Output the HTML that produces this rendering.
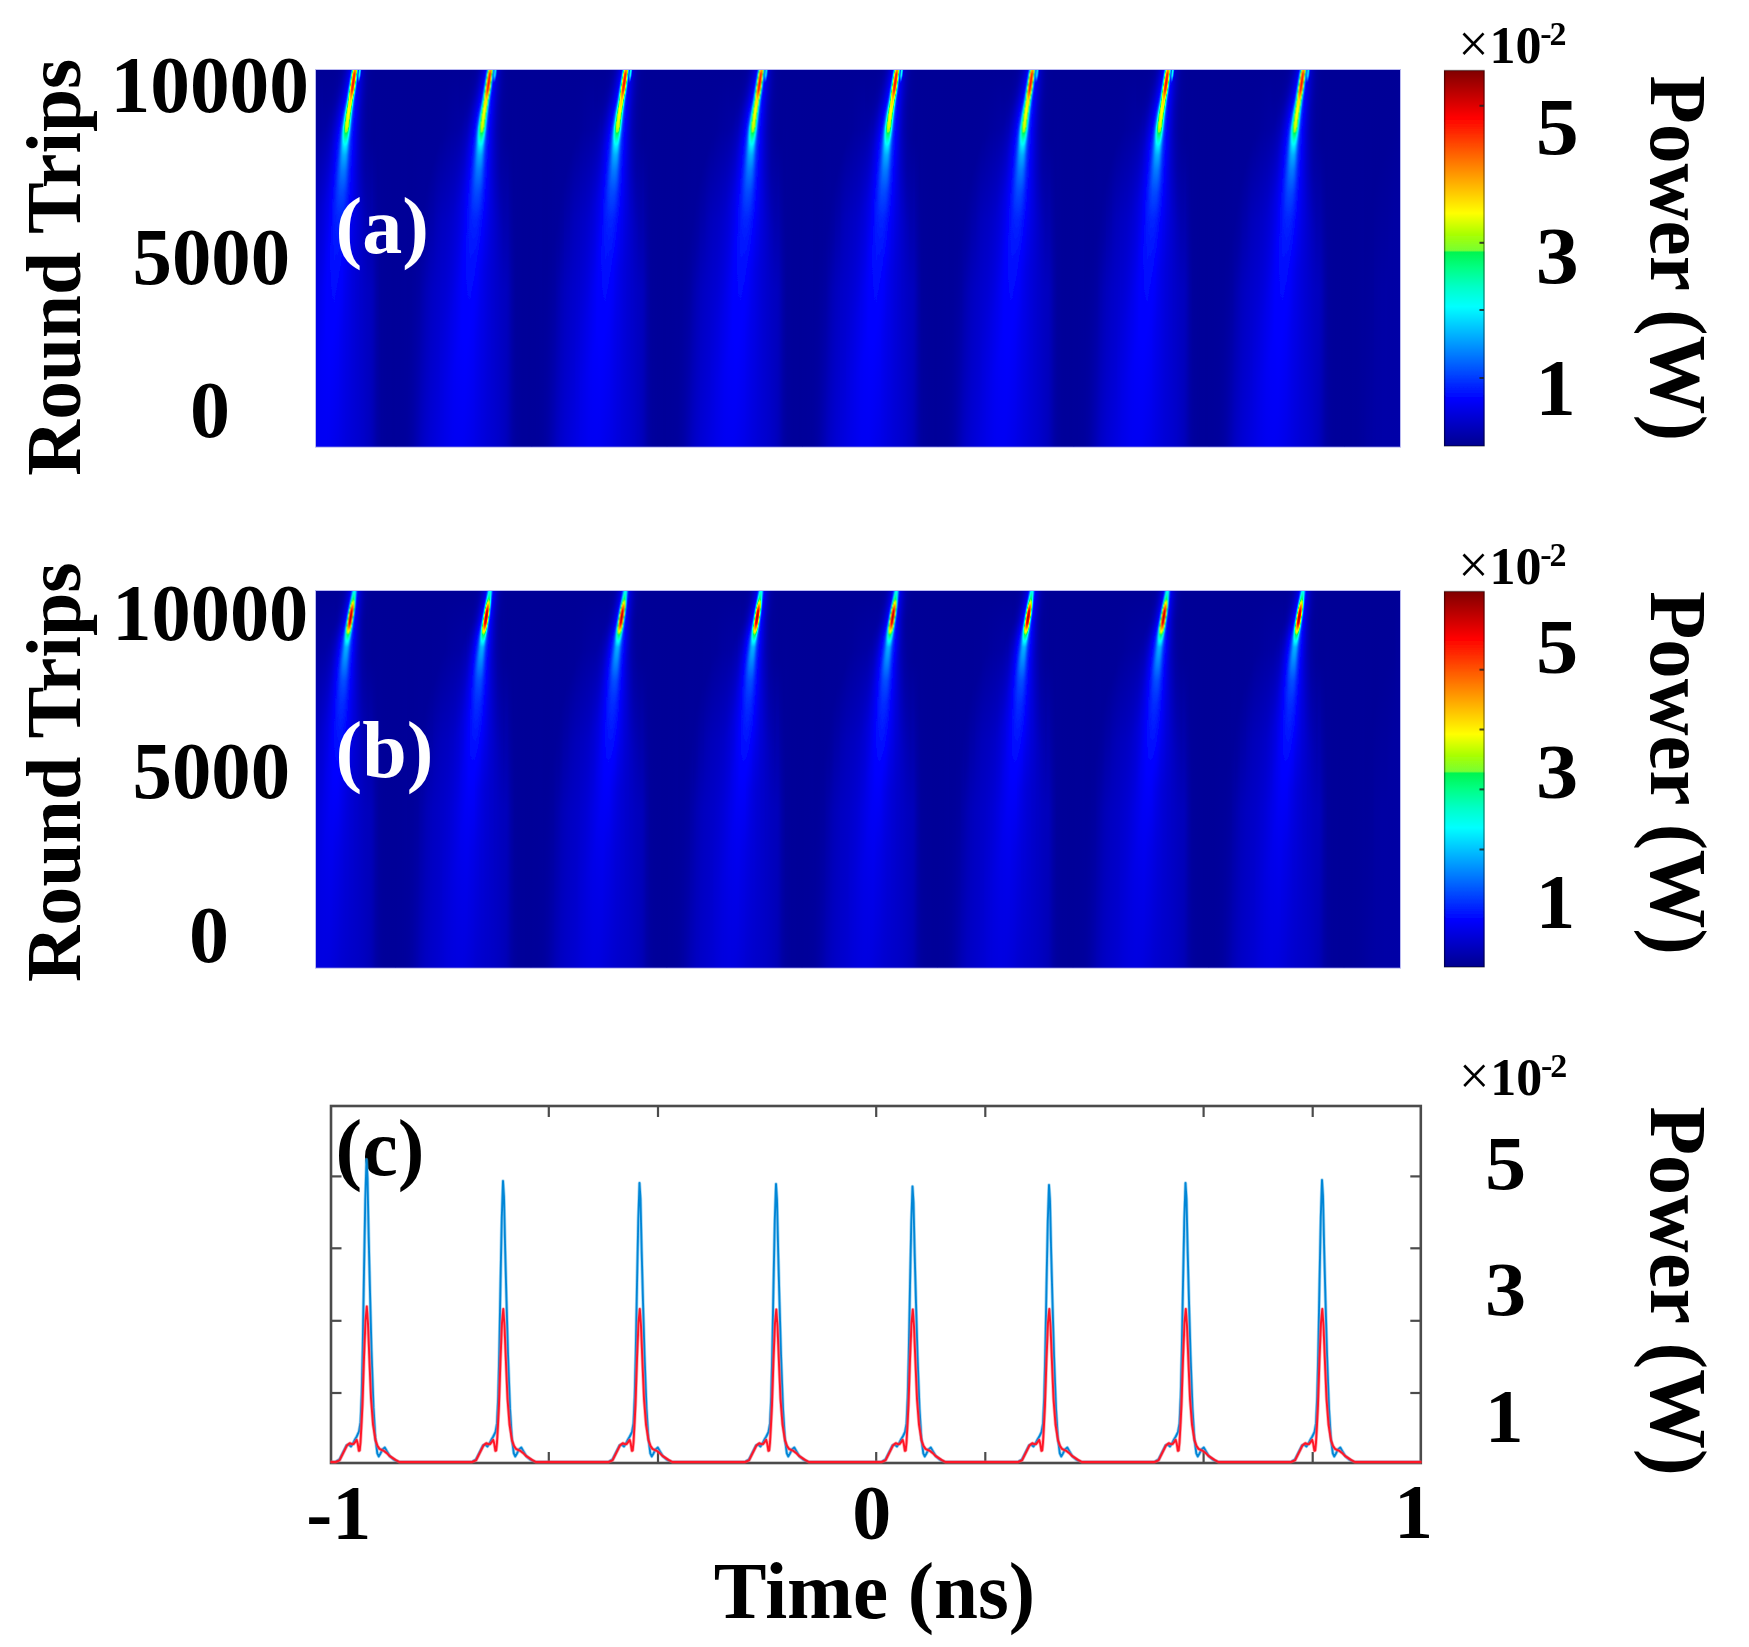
<!DOCTYPE html>
<html><head><meta charset="utf-8"><title>Figure</title>
<style>html,body{margin:0;padding:0;background:#fff}svg{display:block}</style>
</head><body>
<svg width="1749" height="1647" viewBox="0 0 1749 1647">
<defs>
<linearGradient id="a0" x1="0" y1="0" x2="0" y2="1"><stop offset="0" stop-color="#000096"/><stop offset="1" stop-color="#00009a"/></linearGradient>
<linearGradient id="a1" x1="0" y1="0" x2="0" y2="1"><stop offset="0" stop-color="#000096"/><stop offset="1" stop-color="#00009a"/></linearGradient>
<linearGradient id="a2" x1="0" y1="0" x2="0" y2="1"><stop offset="0" stop-color="#000096"/><stop offset="1" stop-color="#00009a"/></linearGradient>
<linearGradient id="a3" x1="0" y1="0" x2="0" y2="1"><stop offset="0" stop-color="#000096"/><stop offset="1" stop-color="#00009a"/></linearGradient>
<linearGradient id="a4" x1="0" y1="0" x2="0" y2="1"><stop offset="0" stop-color="#000096"/><stop offset="1" stop-color="#00009a"/></linearGradient>
<linearGradient id="a5" x1="0" y1="0" x2="0" y2="1"><stop offset="0" stop-color="#000096"/><stop offset="1" stop-color="#00009b"/></linearGradient>
<linearGradient id="a6" x1="0" y1="0" x2="0" y2="1"><stop offset="0" stop-color="#000096"/><stop offset="1" stop-color="#00009b"/></linearGradient>
<linearGradient id="a7" x1="0" y1="0" x2="0" y2="1"><stop offset="0" stop-color="#000096"/><stop offset="1" stop-color="#00009b"/></linearGradient>
<linearGradient id="a8" x1="0" y1="0" x2="0" y2="1"><stop offset="0" stop-color="#000096"/><stop offset="1" stop-color="#00009c"/></linearGradient>
<linearGradient id="a9" x1="0" y1="0" x2="0" y2="1"><stop offset="0" stop-color="#000096"/><stop offset="1" stop-color="#00009c"/></linearGradient>
<linearGradient id="a10" x1="0" y1="0" x2="0" y2="1"><stop offset="0" stop-color="#000096"/><stop offset="1" stop-color="#00009d"/></linearGradient>
<linearGradient id="a11" x1="0" y1="0" x2="0" y2="1"><stop offset="0" stop-color="#000096"/><stop offset="0.5199" stop-color="#000098"/><stop offset="1" stop-color="#00009e"/></linearGradient>
<linearGradient id="a12" x1="0" y1="0" x2="0" y2="1"><stop offset="0" stop-color="#000096"/><stop offset="0.5146" stop-color="#000098"/><stop offset="1" stop-color="#00009f"/></linearGradient>
<linearGradient id="a13" x1="0" y1="0" x2="0" y2="1"><stop offset="0" stop-color="#000096"/><stop offset="0.5093" stop-color="#000098"/><stop offset="1" stop-color="#0000a1"/></linearGradient>
<linearGradient id="a14" x1="0" y1="0" x2="0" y2="1"><stop offset="0" stop-color="#000096"/><stop offset="0.504" stop-color="#000098"/><stop offset="1" stop-color="#0000a2"/></linearGradient>
<linearGradient id="a15" x1="0" y1="0" x2="0" y2="1"><stop offset="0" stop-color="#000096"/><stop offset="0.5013" stop-color="#000098"/><stop offset="1" stop-color="#0000a4"/></linearGradient>
<linearGradient id="a16" x1="0" y1="0" x2="0" y2="1"><stop offset="0" stop-color="#000096"/><stop offset="0.496" stop-color="#000098"/><stop offset="1" stop-color="#0000a6"/></linearGradient>
<linearGradient id="a17" x1="0" y1="0" x2="0" y2="1"><stop offset="0" stop-color="#000096"/><stop offset="0.4907" stop-color="#000099"/><stop offset="1" stop-color="#0000a8"/></linearGradient>
<linearGradient id="a18" x1="0" y1="0" x2="0" y2="1"><stop offset="0" stop-color="#000096"/><stop offset="0.4828" stop-color="#000099"/><stop offset="1" stop-color="#0000ab"/></linearGradient>
<linearGradient id="a19" x1="0" y1="0" x2="0" y2="1"><stop offset="0" stop-color="#000096"/><stop offset="0.4775" stop-color="#000099"/><stop offset="1" stop-color="#0000ae"/></linearGradient>
<linearGradient id="a20" x1="0" y1="0" x2="0" y2="1"><stop offset="0" stop-color="#000096"/><stop offset="0.4695" stop-color="#000099"/><stop offset="1" stop-color="#0000b1"/></linearGradient>
<linearGradient id="a21" x1="0" y1="0" x2="0" y2="1"><stop offset="0" stop-color="#000096"/><stop offset="0.4615" stop-color="#00009a"/><stop offset="1" stop-color="#0000b4"/></linearGradient>
<linearGradient id="a22" x1="0" y1="0" x2="0" y2="1"><stop offset="0" stop-color="#000096"/><stop offset="0.4536" stop-color="#00009a"/><stop offset="1" stop-color="#0000b7"/></linearGradient>
<linearGradient id="a23" x1="0" y1="0" x2="0" y2="1"><stop offset="0" stop-color="#000096"/><stop offset="0.443" stop-color="#00009a"/><stop offset="1" stop-color="#0000ba"/></linearGradient>
<linearGradient id="a24" x1="0" y1="0" x2="0" y2="1"><stop offset="0" stop-color="#000096"/><stop offset="0.4324" stop-color="#00009b"/><stop offset="1" stop-color="#0000be"/></linearGradient>
<linearGradient id="a25" x1="0" y1="0" x2="0" y2="1"><stop offset="0" stop-color="#000096"/><stop offset="0.4218" stop-color="#00009b"/><stop offset="0.5836" stop-color="#0000a8"/><stop offset="1" stop-color="#0000c1"/></linearGradient>
<linearGradient id="a26" x1="0" y1="0" x2="0" y2="1"><stop offset="0" stop-color="#000096"/><stop offset="0.4085" stop-color="#00009b"/><stop offset="0.5836" stop-color="#0000ab"/><stop offset="1" stop-color="#0000c4"/></linearGradient>
<linearGradient id="a27" x1="0" y1="0" x2="0" y2="1"><stop offset="0" stop-color="#000096"/><stop offset="0.382" stop-color="#00009b"/><stop offset="0.4854" stop-color="#0000a2"/><stop offset="0.5836" stop-color="#0000ae"/><stop offset="1" stop-color="#0000c6"/></linearGradient>
<linearGradient id="a28" x1="0" y1="0" x2="0" y2="1"><stop offset="0" stop-color="#000096"/><stop offset="0.3687" stop-color="#00009b"/><stop offset="0.4748" stop-color="#0000a3"/><stop offset="0.5836" stop-color="#0000b0"/><stop offset="1" stop-color="#0000c9"/></linearGradient>
<linearGradient id="a29" x1="0" y1="0" x2="0" y2="1"><stop offset="0" stop-color="#000096"/><stop offset="0.3263" stop-color="#00009a"/><stop offset="0.4562" stop-color="#0000a3"/><stop offset="0.5836" stop-color="#0000b3"/><stop offset="1" stop-color="#0000cb"/></linearGradient>
<linearGradient id="a30" x1="0" y1="0" x2="0" y2="1"><stop offset="0" stop-color="#000096"/><stop offset="0.3183" stop-color="#00009a"/><stop offset="0.4483" stop-color="#0000a4"/><stop offset="0.5836" stop-color="#0000b6"/><stop offset="1" stop-color="#0000cd"/></linearGradient>
<linearGradient id="a31" x1="0" y1="0" x2="0" y2="1"><stop offset="0" stop-color="#000096"/><stop offset="0.3077" stop-color="#00009a"/><stop offset="0.4403" stop-color="#0000a5"/><stop offset="0.5836" stop-color="#0000b8"/><stop offset="1" stop-color="#0000cf"/></linearGradient>
<linearGradient id="a32" x1="0" y1="0" x2="0" y2="1"><stop offset="0" stop-color="#000096"/><stop offset="0.2997" stop-color="#00009a"/><stop offset="0.4324" stop-color="#0000a6"/><stop offset="0.5836" stop-color="#0000ba"/><stop offset="1" stop-color="#0000d1"/></linearGradient>
<linearGradient id="a33" x1="0" y1="0" x2="0" y2="1"><stop offset="0" stop-color="#000096"/><stop offset="0.2891" stop-color="#00009a"/><stop offset="0.5836" stop-color="#0000bd"/><stop offset="1" stop-color="#0000d3"/></linearGradient>
<linearGradient id="a34" x1="0" y1="0" x2="0" y2="1"><stop offset="0" stop-color="#000096"/><stop offset="0.2812" stop-color="#00009a"/><stop offset="0.5836" stop-color="#0000be"/><stop offset="1" stop-color="#0000d5"/></linearGradient>
<linearGradient id="a35" x1="0" y1="0" x2="0" y2="1"><stop offset="0" stop-color="#000096"/><stop offset="0.2706" stop-color="#00009a"/><stop offset="0.5836" stop-color="#0000c0"/><stop offset="1" stop-color="#0000d6"/></linearGradient>
<linearGradient id="a36" x1="0" y1="0" x2="0" y2="1"><stop offset="0" stop-color="#000096"/><stop offset="0.2573" stop-color="#00009a"/><stop offset="0.5836" stop-color="#0000c2"/><stop offset="1" stop-color="#0000d8"/></linearGradient>
<linearGradient id="a37" x1="0" y1="0" x2="0" y2="1"><stop offset="0" stop-color="#000096"/><stop offset="0.2493" stop-color="#00009a"/><stop offset="0.5836" stop-color="#0000c3"/><stop offset="1" stop-color="#0000d9"/></linearGradient>
<linearGradient id="a38" x1="0" y1="0" x2="0" y2="1"><stop offset="0" stop-color="#000096"/><stop offset="0.2387" stop-color="#00009a"/><stop offset="0.5836" stop-color="#0000c5"/><stop offset="1" stop-color="#0000db"/></linearGradient>
<linearGradient id="a39" x1="0" y1="0" x2="0" y2="1"><stop offset="0" stop-color="#000096"/><stop offset="0.2308" stop-color="#00009a"/><stop offset="0.3979" stop-color="#0000b2"/><stop offset="0.5836" stop-color="#0000c6"/><stop offset="1" stop-color="#0000dc"/></linearGradient>
<linearGradient id="a40" x1="0" y1="0" x2="0" y2="1"><stop offset="0" stop-color="#000096"/><stop offset="0.2228" stop-color="#00009a"/><stop offset="0.3979" stop-color="#0000b4"/><stop offset="0.5836" stop-color="#0000c7"/><stop offset="1" stop-color="#0000de"/></linearGradient>
<linearGradient id="a41" x1="0" y1="0" x2="0" y2="1"><stop offset="0" stop-color="#000096"/><stop offset="0.2122" stop-color="#00009a"/><stop offset="0.3979" stop-color="#0000b6"/><stop offset="0.5836" stop-color="#0000c9"/><stop offset="1" stop-color="#0000df"/></linearGradient>
<linearGradient id="a42" x1="0" y1="0" x2="0" y2="1"><stop offset="0" stop-color="#000096"/><stop offset="0.2042" stop-color="#00009a"/><stop offset="0.3979" stop-color="#0000b8"/><stop offset="0.5836" stop-color="#0000ca"/><stop offset="1" stop-color="#0000e1"/></linearGradient>
<linearGradient id="a43" x1="0" y1="0" x2="0" y2="1"><stop offset="0" stop-color="#000096"/><stop offset="0.1963" stop-color="#00009a"/><stop offset="0.3979" stop-color="#0000ba"/><stop offset="0.5836" stop-color="#0000cb"/><stop offset="1" stop-color="#0000e2"/></linearGradient>
<linearGradient id="a44" x1="0" y1="0" x2="0" y2="1"><stop offset="0" stop-color="#000096"/><stop offset="0.1883" stop-color="#00009a"/><stop offset="0.3979" stop-color="#0000bb"/><stop offset="0.5836" stop-color="#0000cc"/><stop offset="0.7958" stop-color="#0000db"/><stop offset="1" stop-color="#0000e3"/></linearGradient>
<linearGradient id="a45" x1="0" y1="0" x2="0" y2="1"><stop offset="0" stop-color="#000096"/><stop offset="0.1804" stop-color="#00009a"/><stop offset="0.3979" stop-color="#0000bc"/><stop offset="0.5836" stop-color="#0000ce"/><stop offset="0.7958" stop-color="#0000dd"/><stop offset="1" stop-color="#0000e5"/></linearGradient>
<linearGradient id="a46" x1="0" y1="0" x2="0" y2="1"><stop offset="0" stop-color="#000096"/><stop offset="0.1857" stop-color="#00009b"/><stop offset="0.3979" stop-color="#0000be"/><stop offset="0.5836" stop-color="#0000cf"/><stop offset="0.7958" stop-color="#0000de"/><stop offset="1" stop-color="#0000e6"/></linearGradient>
<linearGradient id="a47" x1="0" y1="0" x2="0" y2="1"><stop offset="0" stop-color="#000096"/><stop offset="0.1804" stop-color="#00009b"/><stop offset="0.3979" stop-color="#0000bf"/><stop offset="0.5836" stop-color="#0000d1"/><stop offset="0.7958" stop-color="#0000e0"/><stop offset="1" stop-color="#0000e7"/></linearGradient>
<linearGradient id="a48" x1="0" y1="0" x2="0" y2="1"><stop offset="0" stop-color="#000096"/><stop offset="0.1698" stop-color="#00009b"/><stop offset="0.3979" stop-color="#0000c0"/><stop offset="0.6684" stop-color="#0000d9"/><stop offset="0.8276" stop-color="#0000e4"/><stop offset="1" stop-color="#0000e9"/></linearGradient>
<linearGradient id="a49" x1="0" y1="0" x2="0" y2="1"><stop offset="0" stop-color="#000096"/><stop offset="0.1645" stop-color="#00009b"/><stop offset="0.3979" stop-color="#0000c1"/><stop offset="0.6711" stop-color="#0000db"/><stop offset="0.8302" stop-color="#0000e6"/><stop offset="1" stop-color="#0000ea"/></linearGradient>
<linearGradient id="a50" x1="0" y1="0" x2="0" y2="1"><stop offset="0" stop-color="#000096"/><stop offset="0.1592" stop-color="#00009b"/><stop offset="0.3979" stop-color="#0000c2"/><stop offset="0.6711" stop-color="#0000dd"/><stop offset="0.8276" stop-color="#0000e7"/><stop offset="1" stop-color="#0000eb"/></linearGradient>
<linearGradient id="a51" x1="0" y1="0" x2="0" y2="1"><stop offset="0" stop-color="#000096"/><stop offset="0.1592" stop-color="#00009c"/><stop offset="0.3979" stop-color="#0000c4"/><stop offset="0.6711" stop-color="#0000df"/><stop offset="0.8276" stop-color="#0000e9"/><stop offset="1" stop-color="#0000ec"/></linearGradient>
<linearGradient id="a52" x1="0" y1="0" x2="0" y2="1"><stop offset="0" stop-color="#000096"/><stop offset="0.1592" stop-color="#00009d"/><stop offset="0.3979" stop-color="#0000c5"/><stop offset="0.6684" stop-color="#0000e1"/><stop offset="0.8223" stop-color="#0000eb"/><stop offset="1" stop-color="#0000ed"/></linearGradient>
<linearGradient id="a53" x1="0" y1="0" x2="0" y2="1"><stop offset="0" stop-color="#000096"/><stop offset="0.1592" stop-color="#00009e"/><stop offset="0.3979" stop-color="#0000c6"/><stop offset="0.6658" stop-color="#0000e3"/><stop offset="0.8196" stop-color="#0000ec"/><stop offset="1" stop-color="#0000ee"/></linearGradient>
<linearGradient id="a54" x1="0" y1="0" x2="0" y2="1"><stop offset="0" stop-color="#000096"/><stop offset="0.1592" stop-color="#00009e"/><stop offset="0.3979" stop-color="#0000c8"/><stop offset="0.6605" stop-color="#0000e5"/><stop offset="0.8117" stop-color="#0000ee"/><stop offset="1" stop-color="#0000ef"/></linearGradient>
<linearGradient id="a55" x1="0" y1="0" x2="0" y2="1"><stop offset="0" stop-color="#000096"/><stop offset="0.1592" stop-color="#00009f"/><stop offset="0.3979" stop-color="#0000ca"/><stop offset="0.6552" stop-color="#0000e7"/><stop offset="0.8064" stop-color="#0000f0"/><stop offset="1" stop-color="#0000f0"/></linearGradient>
<linearGradient id="a56" x1="0" y1="0" x2="0" y2="1"><stop offset="0" stop-color="#000096"/><stop offset="0.1592" stop-color="#0000a0"/><stop offset="0.3979" stop-color="#0000cc"/><stop offset="0.6446" stop-color="#0000e8"/><stop offset="0.7958" stop-color="#0000f1"/><stop offset="1" stop-color="#0000f1"/></linearGradient>
<linearGradient id="a57" x1="0" y1="0" x2="0" y2="1"><stop offset="0" stop-color="#000096"/><stop offset="0.1592" stop-color="#0000a0"/><stop offset="0.3979" stop-color="#0000ce"/><stop offset="0.6366" stop-color="#0000ea"/><stop offset="0.7958" stop-color="#0000f3"/><stop offset="1" stop-color="#0000f2"/></linearGradient>
<linearGradient id="a58" x1="0" y1="0" x2="0" y2="1"><stop offset="0" stop-color="#000096"/><stop offset="0.1592" stop-color="#0000a1"/><stop offset="0.3979" stop-color="#0000d0"/><stop offset="0.626" stop-color="#0000ec"/><stop offset="0.7958" stop-color="#0000f5"/><stop offset="1" stop-color="#0000f2"/></linearGradient>
<linearGradient id="a59" x1="0" y1="0" x2="0" y2="1"><stop offset="0" stop-color="#000096"/><stop offset="0.1592" stop-color="#0000a2"/><stop offset="0.3899" stop-color="#0000d2"/><stop offset="0.5942" stop-color="#0000eb"/><stop offset="0.7745" stop-color="#0000f6"/><stop offset="1" stop-color="#0000f3"/></linearGradient>
<linearGradient id="a60" x1="0" y1="0" x2="0" y2="1"><stop offset="0" stop-color="#000096"/><stop offset="0.1592" stop-color="#0000a2"/><stop offset="0.3714" stop-color="#0000d1"/><stop offset="0.5836" stop-color="#0000ed"/><stop offset="0.7639" stop-color="#0000f7"/><stop offset="1" stop-color="#0000f3"/></linearGradient>
<linearGradient id="a61" x1="0" y1="0" x2="0" y2="1"><stop offset="0" stop-color="#000096"/><stop offset="0.1592" stop-color="#0000a3"/><stop offset="0.3634" stop-color="#0000d3"/><stop offset="0.5836" stop-color="#0000f0"/><stop offset="0.7586" stop-color="#0000f9"/><stop offset="1" stop-color="#0000f3"/></linearGradient>
<linearGradient id="a62" x1="0" y1="0" x2="0" y2="1"><stop offset="0" stop-color="#000096"/><stop offset="0.1592" stop-color="#0000a4"/><stop offset="0.3607" stop-color="#0000d6"/><stop offset="0.5836" stop-color="#0000f3"/><stop offset="0.756" stop-color="#0000fa"/><stop offset="1" stop-color="#0000f3"/></linearGradient>
<linearGradient id="a63" x1="0" y1="0" x2="0" y2="1"><stop offset="0" stop-color="#000096"/><stop offset="0.0796" stop-color="#00009b"/><stop offset="0.1592" stop-color="#0000a5"/><stop offset="0.3607" stop-color="#0000d9"/><stop offset="0.5729" stop-color="#0000f5"/><stop offset="0.7454" stop-color="#0000fb"/><stop offset="1" stop-color="#0000f3"/></linearGradient>
<linearGradient id="a64" x1="0" y1="0" x2="0" y2="1"><stop offset="0" stop-color="#000096"/><stop offset="0.0796" stop-color="#00009b"/><stop offset="0.1485" stop-color="#0000a4"/><stop offset="0.3607" stop-color="#0000dd"/><stop offset="0.5597" stop-color="#0000f7"/><stop offset="0.7321" stop-color="#0000fc"/><stop offset="1" stop-color="#0000f3"/></linearGradient>
<linearGradient id="a65" x1="0" y1="0" x2="0" y2="1"><stop offset="0" stop-color="#000096"/><stop offset="0.0796" stop-color="#00009b"/><stop offset="0.1459" stop-color="#0000a4"/><stop offset="0.3528" stop-color="#0000e0"/><stop offset="0.4934" stop-color="#0000f4"/><stop offset="0.5809" stop-color="#0000fb"/><stop offset="0.6923" stop-color="#0000fe"/><stop offset="1" stop-color="#0000f3"/></linearGradient>
<linearGradient id="a66" x1="0" y1="0" x2="0" y2="1"><stop offset="0" stop-color="#000096"/><stop offset="0.0796" stop-color="#00009b"/><stop offset="0.1379" stop-color="#0000a4"/><stop offset="0.3422" stop-color="#0000e2"/><stop offset="0.4854" stop-color="#0000f7"/><stop offset="0.5729" stop-color="#0000fd"/><stop offset="0.687" stop-color="#0000ff"/><stop offset="1" stop-color="#0000f3"/></linearGradient>
<linearGradient id="a67" x1="0" y1="0" x2="0" y2="1"><stop offset="0" stop-color="#000096"/><stop offset="0.0796" stop-color="#00009c"/><stop offset="0.1273" stop-color="#0000a3"/><stop offset="0.3342" stop-color="#0000e5"/><stop offset="0.4775" stop-color="#0000fa"/><stop offset="0.5491" stop-color="#0000ff"/><stop offset="0.7135" stop-color="#0000ff"/><stop offset="1" stop-color="#0000f2"/></linearGradient>
<linearGradient id="a68" x1="0" y1="0" x2="0" y2="1"><stop offset="0" stop-color="#000096"/><stop offset="0.0796" stop-color="#00009c"/><stop offset="0.1194" stop-color="#0000a3"/><stop offset="0.3236" stop-color="#0000e7"/><stop offset="0.4668" stop-color="#0000fe"/><stop offset="0.5703" stop-color="#0003ff"/><stop offset="0.7241" stop-color="#0000ff"/><stop offset="1" stop-color="#0000f2"/></linearGradient>
<linearGradient id="a69" x1="0" y1="0" x2="0" y2="1"><stop offset="0" stop-color="#000096"/><stop offset="0.0743" stop-color="#00009c"/><stop offset="0.1114" stop-color="#0000a3"/><stop offset="0.3077" stop-color="#0000e9"/><stop offset="0.3607" stop-color="#0000f5"/><stop offset="0.4377" stop-color="#0000ff"/><stop offset="0.5491" stop-color="#0006ff"/><stop offset="0.7268" stop-color="#0000ff"/><stop offset="1" stop-color="#0000f1"/></linearGradient>
<linearGradient id="a70" x1="0" y1="0" x2="0" y2="1"><stop offset="0" stop-color="#000096"/><stop offset="0.0716" stop-color="#00009c"/><stop offset="0.1088" stop-color="#0000a4"/><stop offset="0.1512" stop-color="#0000b2"/><stop offset="0.2149" stop-color="#0000d0"/><stop offset="0.2838" stop-color="#0000e8"/><stop offset="0.3395" stop-color="#0000f7"/><stop offset="0.3846" stop-color="#0000fd"/><stop offset="0.4828" stop-color="#0008ff"/><stop offset="0.7241" stop-color="#0000ff"/><stop offset="1" stop-color="#0000f0"/></linearGradient>
<linearGradient id="a71" x1="0" y1="0" x2="0" y2="1"><stop offset="0" stop-color="#000096"/><stop offset="0.0663" stop-color="#00009c"/><stop offset="0.1034" stop-color="#0000a4"/><stop offset="0.1432" stop-color="#0000b3"/><stop offset="0.2255" stop-color="#0000db"/><stop offset="0.2971" stop-color="#0000f3"/><stop offset="0.3475" stop-color="#0000ff"/><stop offset="0.4668" stop-color="#000cff"/><stop offset="0.7162" stop-color="#0000ff"/><stop offset="1" stop-color="#0000ef"/></linearGradient>
<linearGradient id="a72" x1="0" y1="0" x2="0" y2="1"><stop offset="0" stop-color="#000096"/><stop offset="0.061" stop-color="#00009c"/><stop offset="0.0955" stop-color="#0000a4"/><stop offset="0.1353" stop-color="#0000b5"/><stop offset="0.2095" stop-color="#0000dd"/><stop offset="0.3156" stop-color="#0000ff"/><stop offset="0.3607" stop-color="#000bff"/><stop offset="0.4509" stop-color="#0010ff"/><stop offset="0.7056" stop-color="#0000ff"/><stop offset="1" stop-color="#0000ee"/></linearGradient>
<linearGradient id="a73" x1="0" y1="0" x2="0" y2="1"><stop offset="0" stop-color="#000096"/><stop offset="0.0557" stop-color="#00009c"/><stop offset="0.0902" stop-color="#0000a5"/><stop offset="0.13" stop-color="#0000b8"/><stop offset="0.1989" stop-color="#0000e1"/><stop offset="0.2865" stop-color="#0000ff"/><stop offset="0.3528" stop-color="#0012ff"/><stop offset="0.4324" stop-color="#0014ff"/><stop offset="0.6923" stop-color="#0000ff"/><stop offset="1" stop-color="#0000ed"/></linearGradient>
<linearGradient id="a74" x1="0" y1="0" x2="0" y2="1"><stop offset="0" stop-color="#000096"/><stop offset="0.0504" stop-color="#00009d"/><stop offset="0.0849" stop-color="#0000a6"/><stop offset="0.1141" stop-color="#0000b5"/><stop offset="0.1989" stop-color="#0000ea"/><stop offset="0.2599" stop-color="#0000ff"/><stop offset="0.3103" stop-color="#0014ff"/><stop offset="0.3607" stop-color="#001cff"/><stop offset="0.4483" stop-color="#0017ff"/><stop offset="0.6764" stop-color="#0000ff"/><stop offset="1" stop-color="#0000ec"/></linearGradient>
<linearGradient id="a75" x1="0" y1="0" x2="0" y2="1"><stop offset="0" stop-color="#000097"/><stop offset="0.0451" stop-color="#00009d"/><stop offset="0.0796" stop-color="#0000a7"/><stop offset="0.1061" stop-color="#0000b6"/><stop offset="0.1936" stop-color="#0000f1"/><stop offset="0.2281" stop-color="#0000ff"/><stop offset="0.3024" stop-color="#001eff"/><stop offset="0.3501" stop-color="#0024ff"/><stop offset="0.504" stop-color="#0010ff"/><stop offset="0.6578" stop-color="#0000ff"/><stop offset="1" stop-color="#0000eb"/></linearGradient>
<linearGradient id="a76" x1="0" y1="0" x2="0" y2="1"><stop offset="0" stop-color="#000097"/><stop offset="0.0451" stop-color="#00009f"/><stop offset="0.0796" stop-color="#0000ac"/><stop offset="0.1989" stop-color="#0000ff"/><stop offset="0.2838" stop-color="#0027ff"/><stop offset="0.3156" stop-color="#002eff"/><stop offset="0.3554" stop-color="#002cff"/><stop offset="0.3979" stop-color="#0020ff"/><stop offset="0.504" stop-color="#000fff"/><stop offset="0.6393" stop-color="#0000ff"/><stop offset="1" stop-color="#0000ea"/></linearGradient>
<linearGradient id="a77" x1="0" y1="0" x2="0" y2="1"><stop offset="0" stop-color="#000098"/><stop offset="0.0424" stop-color="#0000a0"/><stop offset="0.0769" stop-color="#0000b0"/><stop offset="0.1804" stop-color="#0000ff"/><stop offset="0.2546" stop-color="#002dff"/><stop offset="0.2812" stop-color="#0038ff"/><stop offset="0.3024" stop-color="#003bff"/><stop offset="0.3528" stop-color="#0033ff"/><stop offset="0.3979" stop-color="#0023ff"/><stop offset="0.504" stop-color="#000fff"/><stop offset="0.6154" stop-color="#0000ff"/><stop offset="1" stop-color="#0000e9"/></linearGradient>
<linearGradient id="a78" x1="0" y1="0" x2="0" y2="1"><stop offset="0" stop-color="#000099"/><stop offset="0.0371" stop-color="#0000a2"/><stop offset="0.069" stop-color="#0000b1"/><stop offset="0.1645" stop-color="#0001ff"/><stop offset="0.1989" stop-color="#001fff"/><stop offset="0.2414" stop-color="#003dff"/><stop offset="0.2573" stop-color="#0044ff"/><stop offset="0.2891" stop-color="#004aff"/><stop offset="0.3501" stop-color="#0038ff"/><stop offset="0.3979" stop-color="#0024ff"/><stop offset="0.504" stop-color="#000dff"/><stop offset="0.5995" stop-color="#0000ff"/><stop offset="1" stop-color="#0000e8"/></linearGradient>
<linearGradient id="a79" x1="0" y1="0" x2="0" y2="1"><stop offset="0" stop-color="#00009a"/><stop offset="0.0345" stop-color="#0000a4"/><stop offset="0.0663" stop-color="#0000b6"/><stop offset="0.1459" stop-color="#0000fe"/><stop offset="0.2122" stop-color="#0047ff"/><stop offset="0.2387" stop-color="#0057ff"/><stop offset="0.2573" stop-color="#005bff"/><stop offset="0.2971" stop-color="#0055ff"/><stop offset="0.3979" stop-color="#0024ff"/><stop offset="0.504" stop-color="#000bff"/><stop offset="0.5809" stop-color="#0000ff"/><stop offset="0.7082" stop-color="#0000f5"/><stop offset="1" stop-color="#0000e6"/></linearGradient>
<linearGradient id="a80" x1="0" y1="0" x2="0" y2="1"><stop offset="0" stop-color="#00009c"/><stop offset="0.0318" stop-color="#0000a8"/><stop offset="0.061" stop-color="#0000ba"/><stop offset="0.0822" stop-color="#0000cc"/><stop offset="0.13" stop-color="#0000fe"/><stop offset="0.1485" stop-color="#0015ff"/><stop offset="0.1804" stop-color="#004bff"/><stop offset="0.1936" stop-color="#005dff"/><stop offset="0.2149" stop-color="#006fff"/><stop offset="0.2414" stop-color="#0073ff"/><stop offset="0.2838" stop-color="#0064ff"/><stop offset="0.3263" stop-color="#0048ff"/><stop offset="0.3979" stop-color="#0024ff"/><stop offset="0.5305" stop-color="#0004ff"/><stop offset="0.5623" stop-color="#0000ff"/><stop offset="0.7003" stop-color="#0000f3"/><stop offset="1" stop-color="#0000e5"/></linearGradient>
<linearGradient id="a81" x1="0" y1="0" x2="0" y2="1"><stop offset="0" stop-color="#00009f"/><stop offset="0.0292" stop-color="#0000ac"/><stop offset="0.0557" stop-color="#0000be"/><stop offset="0.0796" stop-color="#0000d4"/><stop offset="0.1167" stop-color="#0000ff"/><stop offset="0.13" stop-color="#0012ff"/><stop offset="0.1406" stop-color="#0025ff"/><stop offset="0.1645" stop-color="#0066ff"/><stop offset="0.1777" stop-color="#0083ff"/><stop offset="0.191" stop-color="#0093ff"/><stop offset="0.2095" stop-color="#0097ff"/><stop offset="0.2467" stop-color="#0086ff"/><stop offset="0.3263" stop-color="#0048ff"/><stop offset="0.3979" stop-color="#0022ff"/><stop offset="0.504" stop-color="#0005ff"/><stop offset="0.5358" stop-color="#0000ff"/><stop offset="0.695" stop-color="#0000f1"/><stop offset="1" stop-color="#0000e4"/></linearGradient>
<linearGradient id="a82" x1="0" y1="0" x2="0" y2="1"><stop offset="0" stop-color="#0000a3"/><stop offset="0.0265" stop-color="#0000b1"/><stop offset="0.0504" stop-color="#0000c3"/><stop offset="0.0769" stop-color="#0000dd"/><stop offset="0.1061" stop-color="#0001ff"/><stop offset="0.122" stop-color="#001fff"/><stop offset="0.1326" stop-color="#003cff"/><stop offset="0.1432" stop-color="#0065ff"/><stop offset="0.1538" stop-color="#0099ff"/><stop offset="0.1618" stop-color="#00b5ff"/><stop offset="0.1724" stop-color="#00ccff"/><stop offset="0.1804" stop-color="#00d3ff"/><stop offset="0.1936" stop-color="#00ceff"/><stop offset="0.2122" stop-color="#00b9ff"/><stop offset="0.2255" stop-color="#00a4ff"/><stop offset="0.244" stop-color="#0093ff"/><stop offset="0.2653" stop-color="#007bff"/><stop offset="0.3263" stop-color="#0047ff"/><stop offset="0.3979" stop-color="#001fff"/><stop offset="0.4907" stop-color="#0005ff"/><stop offset="0.5119" stop-color="#0000ff"/><stop offset="0.6923" stop-color="#0000ef"/><stop offset="1" stop-color="#0000e2"/></linearGradient>
<linearGradient id="a83" x1="0" y1="0" x2="0" y2="1"><stop offset="0" stop-color="#0000a8"/><stop offset="0.0451" stop-color="#0000c8"/><stop offset="0.0955" stop-color="#0002ff"/><stop offset="0.1061" stop-color="#0018ff"/><stop offset="0.1167" stop-color="#003cff"/><stop offset="0.13" stop-color="#007bff"/><stop offset="0.1512" stop-color="#00fdff"/><stop offset="0.1538" stop-color="#00fff1"/><stop offset="0.1618" stop-color="#00ffde"/><stop offset="0.1671" stop-color="#00ffda"/><stop offset="0.1724" stop-color="#00ffdc"/><stop offset="0.1804" stop-color="#00ffe6"/><stop offset="0.191" stop-color="#00fffe"/><stop offset="0.2016" stop-color="#00e1ff"/><stop offset="0.2255" stop-color="#00aeff"/><stop offset="0.2653" stop-color="#007cff"/><stop offset="0.3263" stop-color="#0044ff"/><stop offset="0.3979" stop-color="#001bff"/><stop offset="0.4164" stop-color="#0015ff"/><stop offset="0.4934" stop-color="#0000ff"/><stop offset="0.5358" stop-color="#0000f8"/><stop offset="0.6764" stop-color="#0000ed"/><stop offset="1" stop-color="#0000e1"/></linearGradient>
<linearGradient id="a84" x1="0" y1="0" x2="0" y2="1"><stop offset="0" stop-color="#0000ae"/><stop offset="0.0398" stop-color="#0000ce"/><stop offset="0.0822" stop-color="#0000fd"/><stop offset="0.0849" stop-color="#0003ff"/><stop offset="0.0955" stop-color="#001dff"/><stop offset="0.1008" stop-color="#0031ff"/><stop offset="0.1061" stop-color="#004bff"/><stop offset="0.1141" stop-color="#007dff"/><stop offset="0.13" stop-color="#00f1ff"/><stop offset="0.1326" stop-color="#00fffa"/><stop offset="0.1485" stop-color="#00ff88"/><stop offset="0.1538" stop-color="#00fa6a"/><stop offset="0.1592" stop-color="#00fb6c"/><stop offset="0.1671" stop-color="#00ff80"/><stop offset="0.1751" stop-color="#00ff9f"/><stop offset="0.1857" stop-color="#00ffd3"/><stop offset="0.1963" stop-color="#00fffb"/><stop offset="0.1989" stop-color="#00f8ff"/><stop offset="0.2016" stop-color="#00edff"/><stop offset="0.2255" stop-color="#00b0ff"/><stop offset="0.2653" stop-color="#0078ff"/><stop offset="0.3263" stop-color="#003dff"/><stop offset="0.3979" stop-color="#0015ff"/><stop offset="0.4191" stop-color="#000fff"/><stop offset="0.4748" stop-color="#0000ff"/><stop offset="0.5305" stop-color="#0000f5"/><stop offset="0.6605" stop-color="#0000ec"/><stop offset="1" stop-color="#0000e0"/></linearGradient>
<linearGradient id="a85" x1="0" y1="0" x2="0" y2="1"><stop offset="0" stop-color="#0000b6"/><stop offset="0.0398" stop-color="#0000da"/><stop offset="0.0716" stop-color="#0000ff"/><stop offset="0.0769" stop-color="#000bff"/><stop offset="0.0849" stop-color="#0023ff"/><stop offset="0.0928" stop-color="#004bff"/><stop offset="0.1008" stop-color="#0085ff"/><stop offset="0.1141" stop-color="#00fcff"/><stop offset="0.1167" stop-color="#00ffea"/><stop offset="0.1273" stop-color="#00ff8b"/><stop offset="0.1353" stop-color="#00f653"/><stop offset="0.1379" stop-color="#7dff2d"/><stop offset="0.1459" stop-color="#9cff0e"/><stop offset="0.1512" stop-color="#a9ff01"/><stop offset="0.1538" stop-color="#afff00"/><stop offset="0.1565" stop-color="#a3ff07"/><stop offset="0.1645" stop-color="#7bff2f"/><stop offset="0.1671" stop-color="#00f656"/><stop offset="0.1751" stop-color="#00ff87"/><stop offset="0.1857" stop-color="#00ffcc"/><stop offset="0.1963" stop-color="#00fffa"/><stop offset="0.1989" stop-color="#00f8ff"/><stop offset="0.2016" stop-color="#00ecff"/><stop offset="0.2255" stop-color="#00aaff"/><stop offset="0.2653" stop-color="#006eff"/><stop offset="0.3263" stop-color="#0034ff"/><stop offset="0.3979" stop-color="#000fff"/><stop offset="0.4536" stop-color="#0000ff"/><stop offset="0.5305" stop-color="#0000f2"/><stop offset="0.6286" stop-color="#0000eb"/><stop offset="1" stop-color="#0000de"/></linearGradient>
<linearGradient id="a86" x1="0" y1="0" x2="0" y2="1"><stop offset="0" stop-color="#0000c0"/><stop offset="0.0398" stop-color="#0000e6"/><stop offset="0.0584" stop-color="#0000fe"/><stop offset="0.0637" stop-color="#000bff"/><stop offset="0.0716" stop-color="#0025ff"/><stop offset="0.0796" stop-color="#004bff"/><stop offset="0.0875" stop-color="#008bff"/><stop offset="0.0981" stop-color="#00f7ff"/><stop offset="0.1008" stop-color="#00ffeb"/><stop offset="0.1088" stop-color="#00ff92"/><stop offset="0.1141" stop-color="#00f85d"/><stop offset="0.1167" stop-color="#7aff30"/><stop offset="0.1194" stop-color="#8cff1e"/><stop offset="0.1247" stop-color="#a7ff03"/><stop offset="0.1273" stop-color="#b3ff00"/><stop offset="0.1326" stop-color="#c6ff00"/><stop offset="0.1379" stop-color="#d1ff00"/><stop offset="0.1432" stop-color="#d5ff00"/><stop offset="0.1485" stop-color="#d4ff00"/><stop offset="0.1538" stop-color="#d0ff00"/><stop offset="0.1565" stop-color="#baff00"/><stop offset="0.1592" stop-color="#a5ff05"/><stop offset="0.1645" stop-color="#81ff29"/><stop offset="0.1671" stop-color="#00f653"/><stop offset="0.1751" stop-color="#00ff8c"/><stop offset="0.183" stop-color="#00ffc6"/><stop offset="0.1857" stop-color="#00ffd6"/><stop offset="0.1936" stop-color="#00fffd"/><stop offset="0.1963" stop-color="#00f4ff"/><stop offset="0.2016" stop-color="#00dbff"/><stop offset="0.2255" stop-color="#0097ff"/><stop offset="0.2653" stop-color="#005dff"/><stop offset="0.3263" stop-color="#0029ff"/><stop offset="0.3979" stop-color="#0008ff"/><stop offset="0.4297" stop-color="#0000ff"/><stop offset="0.5385" stop-color="#0000ee"/><stop offset="0.6976" stop-color="#0000e6"/><stop offset="1" stop-color="#0000dd"/></linearGradient>
<linearGradient id="a87" x1="0" y1="0" x2="0" y2="1"><stop offset="0" stop-color="#0000ca"/><stop offset="0.0318" stop-color="#0000eb"/><stop offset="0.0451" stop-color="#0000ff"/><stop offset="0.0477" stop-color="#0007ff"/><stop offset="0.0531" stop-color="#0018ff"/><stop offset="0.0584" stop-color="#002fff"/><stop offset="0.0663" stop-color="#005eff"/><stop offset="0.0716" stop-color="#0086ff"/><stop offset="0.0769" stop-color="#00b4ff"/><stop offset="0.0796" stop-color="#00ccff"/><stop offset="0.0822" stop-color="#00ebff"/><stop offset="0.0849" stop-color="#00fff4"/><stop offset="0.0875" stop-color="#00ffd4"/><stop offset="0.0928" stop-color="#00ff8d"/><stop offset="0.0981" stop-color="#00f551"/><stop offset="0.1008" stop-color="#89ff21"/><stop offset="0.1034" stop-color="#9cff0e"/><stop offset="0.1061" stop-color="#aeff00"/><stop offset="0.1114" stop-color="#d0ff00"/><stop offset="0.1167" stop-color="#e5ff00"/><stop offset="0.122" stop-color="#eeff00"/><stop offset="0.1273" stop-color="#efff00"/><stop offset="0.1379" stop-color="#e5ff00"/><stop offset="0.1485" stop-color="#d1ff00"/><stop offset="0.1538" stop-color="#c1ff00"/><stop offset="0.1565" stop-color="#a6ff04"/><stop offset="0.1618" stop-color="#7bff2f"/><stop offset="0.1645" stop-color="#00f85e"/><stop offset="0.1698" stop-color="#00ff8e"/><stop offset="0.1777" stop-color="#00ffcf"/><stop offset="0.1857" stop-color="#00fdff"/><stop offset="0.2016" stop-color="#00b4ff"/><stop offset="0.2095" stop-color="#009eff"/><stop offset="0.2255" stop-color="#0078ff"/><stop offset="0.2493" stop-color="#0059ff"/><stop offset="0.2706" stop-color="#0043ff"/><stop offset="0.3183" stop-color="#0022ff"/><stop offset="0.3979" stop-color="#0002ff"/><stop offset="0.5305" stop-color="#0000eb"/><stop offset="1" stop-color="#0000dc"/></linearGradient>
<linearGradient id="a88" x1="0" y1="0" x2="0" y2="1"><stop offset="0" stop-color="#0000d6"/><stop offset="0.0186" stop-color="#0000ea"/><stop offset="0.0292" stop-color="#0000fb"/><stop offset="0.0318" stop-color="#0003ff"/><stop offset="0.0371" stop-color="#0015ff"/><stop offset="0.0424" stop-color="#002eff"/><stop offset="0.0477" stop-color="#0051ff"/><stop offset="0.0557" stop-color="#0097ff"/><stop offset="0.0663" stop-color="#00fffd"/><stop offset="0.0716" stop-color="#00ffc3"/><stop offset="0.0769" stop-color="#00ff83"/><stop offset="0.0796" stop-color="#00fa69"/><stop offset="0.0822" stop-color="#7aff30"/><stop offset="0.0849" stop-color="#95ff15"/><stop offset="0.0875" stop-color="#aeff00"/><stop offset="0.0902" stop-color="#c8ff00"/><stop offset="0.0955" stop-color="#eeff00"/><stop offset="0.0981" stop-color="#f9ff00"/><stop offset="0.1008" stop-color="#fffe00"/><stop offset="0.1088" stop-color="#fffa00"/><stop offset="0.1167" stop-color="#ffff00"/><stop offset="0.1194" stop-color="#fcff00"/><stop offset="0.1247" stop-color="#f1ff00"/><stop offset="0.13" stop-color="#e1ff00"/><stop offset="0.1379" stop-color="#c0ff00"/><stop offset="0.1406" stop-color="#b2ff00"/><stop offset="0.1432" stop-color="#a5ff05"/><stop offset="0.1512" stop-color="#7eff2c"/><stop offset="0.1538" stop-color="#00f552"/><stop offset="0.1592" stop-color="#00ff89"/><stop offset="0.1645" stop-color="#00ffc0"/><stop offset="0.1671" stop-color="#00ffd6"/><stop offset="0.1724" stop-color="#00fffc"/><stop offset="0.1751" stop-color="#00f2ff"/><stop offset="0.1857" stop-color="#00b8ff"/><stop offset="0.1989" stop-color="#0086ff"/><stop offset="0.2095" stop-color="#006fff"/><stop offset="0.2255" stop-color="#0054ff"/><stop offset="0.2653" stop-color="#0031ff"/><stop offset="0.2865" stop-color="#0025ff"/><stop offset="0.3263" stop-color="#0012ff"/><stop offset="0.382" stop-color="#0000ff"/><stop offset="0.5305" stop-color="#0000e8"/><stop offset="1" stop-color="#0000db"/></linearGradient>
<linearGradient id="a89" x1="0" y1="0" x2="0" y2="1"><stop offset="0" stop-color="#0000e3"/><stop offset="0.008" stop-color="#0000ee"/><stop offset="0.0159" stop-color="#0000ff"/><stop offset="0.0239" stop-color="#0020ff"/><stop offset="0.0292" stop-color="#0040ff"/><stop offset="0.0345" stop-color="#006cff"/><stop offset="0.0398" stop-color="#00a1ff"/><stop offset="0.0451" stop-color="#00e2ff"/><stop offset="0.0477" stop-color="#00fff9"/><stop offset="0.0504" stop-color="#00ffd3"/><stop offset="0.0531" stop-color="#00ffa5"/><stop offset="0.0557" stop-color="#00fe7e"/><stop offset="0.0584" stop-color="#00f75a"/><stop offset="0.061" stop-color="#86ff24"/><stop offset="0.0637" stop-color="#a1ff09"/><stop offset="0.0663" stop-color="#bbff00"/><stop offset="0.069" stop-color="#d7ff00"/><stop offset="0.0716" stop-color="#edff00"/><stop offset="0.0743" stop-color="#fdff00"/><stop offset="0.0769" stop-color="#fff900"/><stop offset="0.0796" stop-color="#fff600"/><stop offset="0.0849" stop-color="#ffe700"/><stop offset="0.0902" stop-color="#ffe300"/><stop offset="0.0981" stop-color="#ffea00"/><stop offset="0.1088" stop-color="#ffff00"/><stop offset="0.1114" stop-color="#f4ff00"/><stop offset="0.1167" stop-color="#d8ff00"/><stop offset="0.122" stop-color="#b5ff00"/><stop offset="0.1247" stop-color="#a3ff07"/><stop offset="0.13" stop-color="#83ff27"/><stop offset="0.1326" stop-color="#00f550"/><stop offset="0.1406" stop-color="#00ff8a"/><stop offset="0.1485" stop-color="#00ffc6"/><stop offset="0.1538" stop-color="#00ffe5"/><stop offset="0.1565" stop-color="#00fffa"/><stop offset="0.1592" stop-color="#00f0ff"/><stop offset="0.1645" stop-color="#00ccff"/><stop offset="0.1698" stop-color="#00aeff"/><stop offset="0.1777" stop-color="#008bff"/><stop offset="0.1883" stop-color="#0069ff"/><stop offset="0.2016" stop-color="#004eff"/><stop offset="0.2255" stop-color="#0035ff"/><stop offset="0.2573" stop-color="#0022ff"/><stop offset="0.3263" stop-color="#0008ff"/><stop offset="0.3607" stop-color="#0000ff"/><stop offset="0.4297" stop-color="#0000f1"/><stop offset="0.5305" stop-color="#0000e5"/><stop offset="1" stop-color="#0000da"/></linearGradient>
<linearGradient id="a90" x1="0" y1="0" x2="0" y2="1"><stop offset="0" stop-color="#0000fa"/><stop offset="0.0027" stop-color="#0004ff"/><stop offset="0.0053" stop-color="#000fff"/><stop offset="0.008" stop-color="#001eff"/><stop offset="0.0133" stop-color="#0042ff"/><stop offset="0.0186" stop-color="#0071ff"/><stop offset="0.0212" stop-color="#008dff"/><stop offset="0.0239" stop-color="#00acff"/><stop offset="0.0292" stop-color="#00f2ff"/><stop offset="0.0318" stop-color="#00ffe4"/><stop offset="0.0371" stop-color="#00ff84"/><stop offset="0.0398" stop-color="#00f655"/><stop offset="0.0424" stop-color="#99ff11"/><stop offset="0.0451" stop-color="#ccff00"/><stop offset="0.0477" stop-color="#fffe00"/><stop offset="0.0531" stop-color="#ffc100"/><stop offset="0.0584" stop-color="#ffa800"/><stop offset="0.0637" stop-color="#ffa100"/><stop offset="0.0716" stop-color="#ffad00"/><stop offset="0.0796" stop-color="#ffce00"/><stop offset="0.0875" stop-color="#ffdc00"/><stop offset="0.0955" stop-color="#fff800"/><stop offset="0.0981" stop-color="#f5ff00"/><stop offset="0.1061" stop-color="#a9ff01"/><stop offset="0.1114" stop-color="#7fff2b"/><stop offset="0.1141" stop-color="#00f75a"/><stop offset="0.1194" stop-color="#00ff89"/><stop offset="0.1273" stop-color="#00ffd1"/><stop offset="0.1326" stop-color="#00fff5"/><stop offset="0.1353" stop-color="#00f8ff"/><stop offset="0.1459" stop-color="#00bdff"/><stop offset="0.1618" stop-color="#0075ff"/><stop offset="0.1698" stop-color="#005bff"/><stop offset="0.1804" stop-color="#0044ff"/><stop offset="0.191" stop-color="#0036ff"/><stop offset="0.2042" stop-color="#002bff"/><stop offset="0.2653" stop-color="#000fff"/><stop offset="0.3236" stop-color="#0000ff"/><stop offset="0.4164" stop-color="#0000ef"/><stop offset="0.5305" stop-color="#0000e3"/><stop offset="1" stop-color="#0000d8"/></linearGradient>
<linearGradient id="a91" x1="0" y1="0" x2="0" y2="1"><stop offset="0" stop-color="#004eff"/><stop offset="0.0053" stop-color="#008bff"/><stop offset="0.0133" stop-color="#00fffd"/><stop offset="0.0159" stop-color="#00ffd4"/><stop offset="0.0212" stop-color="#00fb6d"/><stop offset="0.0239" stop-color="#87ff23"/><stop offset="0.0265" stop-color="#bbff00"/><stop offset="0.0292" stop-color="#f8ff00"/><stop offset="0.0318" stop-color="#ffdd00"/><stop offset="0.0345" stop-color="#ffb800"/><stop offset="0.0371" stop-color="#ff9c00"/><stop offset="0.0424" stop-color="#ff6e00"/><stop offset="0.0477" stop-color="#ff4f00"/><stop offset="0.0531" stop-color="#ff3e00"/><stop offset="0.0584" stop-color="#ff5600"/><stop offset="0.0716" stop-color="#ffa800"/><stop offset="0.0796" stop-color="#ffe700"/><stop offset="0.0822" stop-color="#fff700"/><stop offset="0.0849" stop-color="#efff00"/><stop offset="0.0902" stop-color="#aeff00"/><stop offset="0.0928" stop-color="#92ff18"/><stop offset="0.0955" stop-color="#38fa42"/><stop offset="0.0981" stop-color="#00fb6c"/><stop offset="0.1008" stop-color="#00ff8d"/><stop offset="0.1061" stop-color="#00ffcc"/><stop offset="0.1114" stop-color="#00fffa"/><stop offset="0.1141" stop-color="#00f0ff"/><stop offset="0.1247" stop-color="#00abff"/><stop offset="0.1353" stop-color="#007aff"/><stop offset="0.1459" stop-color="#0057ff"/><stop offset="0.1618" stop-color="#0035ff"/><stop offset="0.1724" stop-color="#0028ff"/><stop offset="0.1857" stop-color="#001fff"/><stop offset="0.2653" stop-color="#0003ff"/><stop offset="0.5305" stop-color="#0000e0"/><stop offset="1" stop-color="#0000d7"/></linearGradient>
<linearGradient id="a92" x1="0" y1="0" x2="0" y2="1"><stop offset="0" stop-color="#00fff2"/><stop offset="0.0027" stop-color="#00ffbc"/><stop offset="0.0053" stop-color="#00fd79"/><stop offset="0.008" stop-color="#8bff1f"/><stop offset="0.0106" stop-color="#d5ff00"/><stop offset="0.0133" stop-color="#fff400"/><stop offset="0.0186" stop-color="#ffae00"/><stop offset="0.0212" stop-color="#ff8f00"/><stop offset="0.0265" stop-color="#ff5a00"/><stop offset="0.0292" stop-color="#ff4400"/><stop offset="0.0345" stop-color="#ff2400"/><stop offset="0.0398" stop-color="#ff1e00"/><stop offset="0.0451" stop-color="#ff2100"/><stop offset="0.0531" stop-color="#ff3100"/><stop offset="0.0584" stop-color="#ff6000"/><stop offset="0.061" stop-color="#ff7c00"/><stop offset="0.0716" stop-color="#ffff00"/><stop offset="0.0743" stop-color="#c9ff00"/><stop offset="0.0769" stop-color="#97ff13"/><stop offset="0.0796" stop-color="#00f657"/><stop offset="0.0822" stop-color="#00fe7b"/><stop offset="0.0875" stop-color="#00ffc6"/><stop offset="0.0928" stop-color="#00ffff"/><stop offset="0.1008" stop-color="#00b9ff"/><stop offset="0.1088" stop-color="#0085ff"/><stop offset="0.1141" stop-color="#006cff"/><stop offset="0.122" stop-color="#0050ff"/><stop offset="0.1326" stop-color="#0037ff"/><stop offset="0.1459" stop-color="#0024ff"/><stop offset="0.1645" stop-color="#0015ff"/><stop offset="0.2308" stop-color="#0001ff"/><stop offset="0.3979" stop-color="#0000e9"/><stop offset="0.5305" stop-color="#0000dd"/><stop offset="1" stop-color="#0000d6"/></linearGradient>
<linearGradient id="a93" x1="0" y1="0" x2="0" y2="1"><stop offset="0" stop-color="#e1ff00"/><stop offset="0.0027" stop-color="#ffe200"/><stop offset="0.0106" stop-color="#ff5a00"/><stop offset="0.0159" stop-color="#ff3a00"/><stop offset="0.0212" stop-color="#ff2500"/><stop offset="0.0265" stop-color="#ff1a00"/><stop offset="0.0345" stop-color="#ff1200"/><stop offset="0.0398" stop-color="#ff2700"/><stop offset="0.0424" stop-color="#ff3600"/><stop offset="0.0477" stop-color="#ff5e00"/><stop offset="0.0531" stop-color="#ff9500"/><stop offset="0.0584" stop-color="#ffee00"/><stop offset="0.061" stop-color="#d4ff00"/><stop offset="0.0637" stop-color="#96ff14"/><stop offset="0.0663" stop-color="#00f962"/><stop offset="0.069" stop-color="#00ff96"/><stop offset="0.0716" stop-color="#00ffca"/><stop offset="0.0743" stop-color="#00fff1"/><stop offset="0.0769" stop-color="#00e9ff"/><stop offset="0.0796" stop-color="#00c8ff"/><stop offset="0.0822" stop-color="#00b0ff"/><stop offset="0.0902" stop-color="#0077ff"/><stop offset="0.0981" stop-color="#004fff"/><stop offset="0.1061" stop-color="#0037ff"/><stop offset="0.1141" stop-color="#0028ff"/><stop offset="0.1326" stop-color="#0015ff"/><stop offset="0.1724" stop-color="#0002ff"/><stop offset="0.2653" stop-color="#0000f0"/><stop offset="0.5172" stop-color="#0000db"/><stop offset="1" stop-color="#0000d5"/></linearGradient>
<linearGradient id="a94" x1="0" y1="0" x2="0" y2="1"><stop offset="0" stop-color="#ffa400"/><stop offset="0.0053" stop-color="#ff6500"/><stop offset="0.0106" stop-color="#ff2d00"/><stop offset="0.0159" stop-color="#ff2a00"/><stop offset="0.0212" stop-color="#ff3100"/><stop offset="0.0265" stop-color="#ff4500"/><stop offset="0.0318" stop-color="#ff6800"/><stop offset="0.0345" stop-color="#ff7f00"/><stop offset="0.0371" stop-color="#ffa000"/><stop offset="0.0424" stop-color="#ffea00"/><stop offset="0.0451" stop-color="#e2ff00"/><stop offset="0.0477" stop-color="#a6ff04"/><stop offset="0.0504" stop-color="#50fc3c"/><stop offset="0.0531" stop-color="#00fe7e"/><stop offset="0.0557" stop-color="#00ffba"/><stop offset="0.0584" stop-color="#00ffe9"/><stop offset="0.061" stop-color="#00ecff"/><stop offset="0.0663" stop-color="#00a8ff"/><stop offset="0.0716" stop-color="#0075ff"/><stop offset="0.0769" stop-color="#0050ff"/><stop offset="0.0822" stop-color="#0038ff"/><stop offset="0.0902" stop-color="#0024ff"/><stop offset="0.1008" stop-color="#0016ff"/><stop offset="0.1379" stop-color="#0000ff"/><stop offset="0.1724" stop-color="#0000f5"/><stop offset="0.2653" stop-color="#0000e8"/><stop offset="0.5013" stop-color="#0000da"/><stop offset="1" stop-color="#0000d4"/></linearGradient>
<linearGradient id="a95" x1="0" y1="0" x2="0" y2="1"><stop offset="0" stop-color="#ffa300"/><stop offset="0.0053" stop-color="#ff8200"/><stop offset="0.0106" stop-color="#ff7300"/><stop offset="0.0159" stop-color="#ffa000"/><stop offset="0.0186" stop-color="#ffbc00"/><stop offset="0.0239" stop-color="#fffb00"/><stop offset="0.0265" stop-color="#d1ff00"/><stop offset="0.0292" stop-color="#9eff0c"/><stop offset="0.0318" stop-color="#0ef64c"/><stop offset="0.0345" stop-color="#00fe7e"/><stop offset="0.0371" stop-color="#00ffb2"/><stop offset="0.0398" stop-color="#00ffdf"/><stop offset="0.0424" stop-color="#00f9ff"/><stop offset="0.0477" stop-color="#00b7ff"/><stop offset="0.0504" stop-color="#009bff"/><stop offset="0.0557" stop-color="#0069ff"/><stop offset="0.061" stop-color="#0044ff"/><stop offset="0.0663" stop-color="#002cff"/><stop offset="0.0716" stop-color="#001cff"/><stop offset="0.0796" stop-color="#000eff"/><stop offset="0.1034" stop-color="#0000ff"/><stop offset="0.1645" stop-color="#0000eb"/><stop offset="0.2653" stop-color="#0000e0"/><stop offset="0.3607" stop-color="#0000df"/><stop offset="0.5305" stop-color="#0000d6"/><stop offset="1" stop-color="#0000d3"/></linearGradient>
<linearGradient id="a96" x1="0" y1="0" x2="0" y2="1"><stop offset="0" stop-color="#c1ff00"/><stop offset="0.0027" stop-color="#b1ff00"/><stop offset="0.0053" stop-color="#9eff0c"/><stop offset="0.008" stop-color="#88ff22"/><stop offset="0.0106" stop-color="#00f654"/><stop offset="0.0133" stop-color="#00ff81"/><stop offset="0.0159" stop-color="#00ffb1"/><stop offset="0.0186" stop-color="#00ffda"/><stop offset="0.0212" stop-color="#00fffd"/><stop offset="0.0239" stop-color="#00e0ff"/><stop offset="0.0292" stop-color="#00a6ff"/><stop offset="0.0345" stop-color="#0076ff"/><stop offset="0.0398" stop-color="#004eff"/><stop offset="0.0451" stop-color="#0032ff"/><stop offset="0.0504" stop-color="#001eff"/><stop offset="0.0557" stop-color="#0011ff"/><stop offset="0.0637" stop-color="#0005ff"/><stop offset="0.0716" stop-color="#0000fe"/><stop offset="0.1592" stop-color="#0000e0"/><stop offset="0.2626" stop-color="#0000d8"/><stop offset="0.3607" stop-color="#0000da"/><stop offset="0.5305" stop-color="#0000d4"/><stop offset="1" stop-color="#0000d2"/></linearGradient>
<linearGradient id="a97" x1="0" y1="0" x2="0" y2="1"><stop offset="0" stop-color="#00daff"/><stop offset="0.0133" stop-color="#006eff"/><stop offset="0.0159" stop-color="#005aff"/><stop offset="0.0212" stop-color="#003aff"/><stop offset="0.0265" stop-color="#0023ff"/><stop offset="0.0318" stop-color="#0013ff"/><stop offset="0.0424" stop-color="#0000ff"/><stop offset="0.0584" stop-color="#0000f6"/><stop offset="0.1088" stop-color="#0000e3"/><stop offset="0.1485" stop-color="#0000d7"/><stop offset="0.1804" stop-color="#0000d3"/><stop offset="0.2653" stop-color="#0000d0"/><stop offset="0.3607" stop-color="#0000d5"/><stop offset="0.5305" stop-color="#0000d2"/><stop offset="1" stop-color="#0000d1"/></linearGradient>
<linearGradient id="a98" x1="0" y1="0" x2="0" y2="1"><stop offset="0" stop-color="#0042ff"/><stop offset="0.0106" stop-color="#008cff"/><stop offset="0.0159" stop-color="#00abff"/><stop offset="0.0186" stop-color="#009dff"/><stop offset="0.0239" stop-color="#0072ff"/><stop offset="0.0265" stop-color="#0056ff"/><stop offset="0.0318" stop-color="#0013ff"/><stop offset="0.0345" stop-color="#0000f1"/><stop offset="0.1247" stop-color="#0000d2"/><stop offset="0.1777" stop-color="#0000ca"/><stop offset="0.2653" stop-color="#0000c9"/><stop offset="0.3926" stop-color="#0000d1"/><stop offset="1" stop-color="#0000d0"/></linearGradient>
<linearGradient id="a99" x1="0" y1="0" x2="0" y2="1"><stop offset="0" stop-color="#00fff1"/><stop offset="0.0053" stop-color="#00fff0"/><stop offset="0.0106" stop-color="#00fffe"/><stop offset="0.0159" stop-color="#00e5ff"/><stop offset="0.0239" stop-color="#005dff"/><stop offset="0.0292" stop-color="#000bff"/><stop offset="0.0318" stop-color="#0000e9"/><stop offset="0.0345" stop-color="#0000e4"/><stop offset="0.1061" stop-color="#0000cc"/><stop offset="0.1724" stop-color="#0000c1"/><stop offset="0.2653" stop-color="#0000c3"/><stop offset="0.3979" stop-color="#0000cd"/><stop offset="1" stop-color="#0000cf"/></linearGradient>
<linearGradient id="a100" x1="0" y1="0" x2="0" y2="1"><stop offset="0" stop-color="#00ccff"/><stop offset="0.0106" stop-color="#0060ff"/><stop offset="0.0159" stop-color="#002fff"/><stop offset="0.0186" stop-color="#000bff"/><stop offset="0.0212" stop-color="#0000ee"/><stop offset="0.0239" stop-color="#0000db"/><stop offset="0.1061" stop-color="#0000c1"/><stop offset="0.1645" stop-color="#0000b9"/><stop offset="0.2653" stop-color="#0000bd"/><stop offset="0.4085" stop-color="#0000ca"/><stop offset="1" stop-color="#0000ce"/></linearGradient>
<linearGradient id="a101" x1="0" y1="0" x2="0" y2="1"><stop offset="0" stop-color="#0000f2"/><stop offset="0.0053" stop-color="#0000d5"/><stop offset="0.1008" stop-color="#0000b9"/><stop offset="0.1592" stop-color="#0000b2"/><stop offset="0.2653" stop-color="#0000b7"/><stop offset="0.3607" stop-color="#0000c3"/><stop offset="0.4244" stop-color="#0000c7"/><stop offset="0.5836" stop-color="#0000cb"/><stop offset="1" stop-color="#0000cc"/></linearGradient>
<linearGradient id="a102" x1="0" y1="0" x2="0" y2="1"><stop offset="0" stop-color="#0000cb"/><stop offset="0.0981" stop-color="#0000b2"/><stop offset="0.1618" stop-color="#0000ac"/><stop offset="0.2653" stop-color="#0000b2"/><stop offset="0.3979" stop-color="#0000c2"/><stop offset="0.5836" stop-color="#0000c9"/><stop offset="1" stop-color="#0000cb"/></linearGradient>
<linearGradient id="a103" x1="0" y1="0" x2="0" y2="1"><stop offset="0" stop-color="#0000c0"/><stop offset="0.0955" stop-color="#0000ac"/><stop offset="0.1618" stop-color="#0000a8"/><stop offset="0.2653" stop-color="#0000ad"/><stop offset="0.3979" stop-color="#0000be"/><stop offset="0.5836" stop-color="#0000c7"/><stop offset="1" stop-color="#0000ca"/></linearGradient>
<linearGradient id="a104" x1="0" y1="0" x2="0" y2="1"><stop offset="0" stop-color="#0000b7"/><stop offset="0.0955" stop-color="#0000a7"/><stop offset="0.1618" stop-color="#0000a4"/><stop offset="0.2653" stop-color="#0000a9"/><stop offset="0.4244" stop-color="#0000bd"/><stop offset="0.5836" stop-color="#0000c5"/><stop offset="1" stop-color="#0000c8"/></linearGradient>
<linearGradient id="a105" x1="0" y1="0" x2="0" y2="1"><stop offset="0" stop-color="#0000af"/><stop offset="0.0955" stop-color="#0000a2"/><stop offset="0.1645" stop-color="#0000a0"/><stop offset="0.2653" stop-color="#0000a6"/><stop offset="0.4244" stop-color="#0000ba"/><stop offset="0.5836" stop-color="#0000c4"/><stop offset="1" stop-color="#0000c6"/></linearGradient>
<linearGradient id="a106" x1="0" y1="0" x2="0" y2="1"><stop offset="0" stop-color="#0000a8"/><stop offset="0.0955" stop-color="#00009f"/><stop offset="0.1698" stop-color="#00009e"/><stop offset="0.2653" stop-color="#0000a4"/><stop offset="0.4244" stop-color="#0000b7"/><stop offset="0.5836" stop-color="#0000c2"/><stop offset="1" stop-color="#0000c4"/></linearGradient>
<linearGradient id="a107" x1="0" y1="0" x2="0" y2="1"><stop offset="0" stop-color="#0000a3"/><stop offset="0.1008" stop-color="#00009c"/><stop offset="0.1777" stop-color="#00009c"/><stop offset="0.5836" stop-color="#0000c1"/><stop offset="1" stop-color="#0000c3"/></linearGradient>
<linearGradient id="a108" x1="0" y1="0" x2="0" y2="1"><stop offset="0" stop-color="#00009f"/><stop offset="0.1034" stop-color="#00009a"/><stop offset="0.1857" stop-color="#00009b"/><stop offset="0.5836" stop-color="#0000c0"/><stop offset="1" stop-color="#0000c1"/></linearGradient>
<linearGradient id="a109" x1="0" y1="0" x2="0" y2="1"><stop offset="0" stop-color="#00009c"/><stop offset="0.1857" stop-color="#00009a"/><stop offset="0.5836" stop-color="#0000bf"/><stop offset="1" stop-color="#0000bf"/></linearGradient>
<linearGradient id="a110" x1="0" y1="0" x2="0" y2="1"><stop offset="0" stop-color="#00009a"/><stop offset="0.1857" stop-color="#000099"/><stop offset="0.5836" stop-color="#0000be"/><stop offset="1" stop-color="#0000bd"/></linearGradient>
<linearGradient id="a111" x1="0" y1="0" x2="0" y2="1"><stop offset="0" stop-color="#000099"/><stop offset="0.1857" stop-color="#000098"/><stop offset="0.3448" stop-color="#0000a9"/><stop offset="0.5836" stop-color="#0000bc"/><stop offset="1" stop-color="#0000ba"/></linearGradient>
<linearGradient id="a112" x1="0" y1="0" x2="0" y2="1"><stop offset="0" stop-color="#000098"/><stop offset="0.1857" stop-color="#000098"/><stop offset="0.3448" stop-color="#0000a8"/><stop offset="0.5836" stop-color="#0000b9"/><stop offset="1" stop-color="#0000b7"/></linearGradient>
<linearGradient id="a113" x1="0" y1="0" x2="0" y2="1"><stop offset="0" stop-color="#000097"/><stop offset="0.1857" stop-color="#000097"/><stop offset="0.5836" stop-color="#0000b5"/><stop offset="1" stop-color="#0000b3"/></linearGradient>
<linearGradient id="a114" x1="0" y1="0" x2="0" y2="1"><stop offset="0" stop-color="#000097"/><stop offset="0.1857" stop-color="#000097"/><stop offset="0.5836" stop-color="#0000b0"/><stop offset="1" stop-color="#0000af"/></linearGradient>
<linearGradient id="a115" x1="0" y1="0" x2="0" y2="1"><stop offset="0" stop-color="#000096"/><stop offset="0.1857" stop-color="#000097"/><stop offset="0.5836" stop-color="#0000ab"/><stop offset="1" stop-color="#0000ab"/></linearGradient>
<linearGradient id="a116" x1="0" y1="0" x2="0" y2="1"><stop offset="0" stop-color="#000096"/><stop offset="0.2175" stop-color="#000098"/><stop offset="0.5836" stop-color="#0000a6"/><stop offset="1" stop-color="#0000a7"/></linearGradient>
<linearGradient id="a117" x1="0" y1="0" x2="0" y2="1"><stop offset="0" stop-color="#000096"/><stop offset="0.2653" stop-color="#000098"/><stop offset="0.5836" stop-color="#0000a3"/><stop offset="1" stop-color="#0000a4"/></linearGradient>
<linearGradient id="a118" x1="0" y1="0" x2="0" y2="1"><stop offset="0" stop-color="#000096"/><stop offset="0.2944" stop-color="#000098"/><stop offset="0.5836" stop-color="#0000a0"/><stop offset="1" stop-color="#0000a2"/></linearGradient>
<linearGradient id="a119" x1="0" y1="0" x2="0" y2="1"><stop offset="0" stop-color="#000096"/><stop offset="1" stop-color="#0000a0"/></linearGradient>
<linearGradient id="a120" x1="0" y1="0" x2="0" y2="1"><stop offset="0" stop-color="#000096"/><stop offset="1" stop-color="#00009f"/></linearGradient>
<linearGradient id="a121" x1="0" y1="0" x2="0" y2="1"><stop offset="0" stop-color="#000096"/><stop offset="1" stop-color="#00009d"/></linearGradient>
<linearGradient id="a122" x1="0" y1="0" x2="0" y2="1"><stop offset="0" stop-color="#000096"/><stop offset="1" stop-color="#00009d"/></linearGradient>
<linearGradient id="a123" x1="0" y1="0" x2="0" y2="1"><stop offset="0" stop-color="#000096"/><stop offset="1" stop-color="#00009c"/></linearGradient>
<linearGradient id="a124" x1="0" y1="0" x2="0" y2="1"><stop offset="0" stop-color="#000096"/><stop offset="1" stop-color="#00009b"/></linearGradient>
<linearGradient id="a125" x1="0" y1="0" x2="0" y2="1"><stop offset="0" stop-color="#000096"/><stop offset="1" stop-color="#00009b"/></linearGradient>
<linearGradient id="a126" x1="0" y1="0" x2="0" y2="1"><stop offset="0" stop-color="#000096"/><stop offset="1" stop-color="#00009a"/></linearGradient>
<linearGradient id="a127" x1="0" y1="0" x2="0" y2="1"><stop offset="0" stop-color="#000096"/><stop offset="1" stop-color="#00009a"/></linearGradient>
<linearGradient id="a128" x1="0" y1="0" x2="0" y2="1"><stop offset="0" stop-color="#000096"/><stop offset="1" stop-color="#00009a"/></linearGradient>
<linearGradient id="a129" x1="0" y1="0" x2="0" y2="1"><stop offset="0" stop-color="#000096"/><stop offset="1" stop-color="#00009a"/></linearGradient>
<linearGradient id="a130" x1="0" y1="0" x2="0" y2="1"><stop offset="0" stop-color="#000096"/><stop offset="1" stop-color="#00009a"/></linearGradient>
<linearGradient id="a131" x1="0" y1="0" x2="0" y2="1"><stop offset="0" stop-color="#000096"/><stop offset="1" stop-color="#00009a"/></linearGradient>
<linearGradient id="a132" x1="0" y1="0" x2="0" y2="1"><stop offset="0" stop-color="#000096"/><stop offset="1" stop-color="#000099"/></linearGradient>
<linearGradient id="a133" x1="0" y1="0" x2="0" y2="1"><stop offset="0" stop-color="#000096"/><stop offset="1" stop-color="#000099"/></linearGradient>
<linearGradient id="a134" x1="0" y1="0" x2="0" y2="1"><stop offset="0" stop-color="#000096"/><stop offset="1" stop-color="#000099"/></linearGradient>
<linearGradient id="a135" x1="0" y1="0" x2="0" y2="1"><stop offset="0" stop-color="#000096"/><stop offset="1" stop-color="#00009a"/></linearGradient>
<linearGradient id="b0" x1="0" y1="0" x2="0" y2="1"><stop offset="0" stop-color="#000096"/><stop offset="1" stop-color="#000099"/></linearGradient>
<linearGradient id="b1" x1="0" y1="0" x2="0" y2="1"><stop offset="0" stop-color="#000096"/><stop offset="1" stop-color="#000099"/></linearGradient>
<linearGradient id="b2" x1="0" y1="0" x2="0" y2="1"><stop offset="0" stop-color="#000096"/><stop offset="1" stop-color="#00009a"/></linearGradient>
<linearGradient id="b3" x1="0" y1="0" x2="0" y2="1"><stop offset="0" stop-color="#000096"/><stop offset="1" stop-color="#00009a"/></linearGradient>
<linearGradient id="b4" x1="0" y1="0" x2="0" y2="1"><stop offset="0" stop-color="#000096"/><stop offset="1" stop-color="#00009a"/></linearGradient>
<linearGradient id="b5" x1="0" y1="0" x2="0" y2="1"><stop offset="0" stop-color="#000096"/><stop offset="1" stop-color="#00009a"/></linearGradient>
<linearGradient id="b6" x1="0" y1="0" x2="0" y2="1"><stop offset="0" stop-color="#000096"/><stop offset="1" stop-color="#00009a"/></linearGradient>
<linearGradient id="b7" x1="0" y1="0" x2="0" y2="1"><stop offset="0" stop-color="#000096"/><stop offset="1" stop-color="#00009b"/></linearGradient>
<linearGradient id="b8" x1="0" y1="0" x2="0" y2="1"><stop offset="0" stop-color="#000096"/><stop offset="1" stop-color="#00009b"/></linearGradient>
<linearGradient id="b9" x1="0" y1="0" x2="0" y2="1"><stop offset="0" stop-color="#000096"/><stop offset="1" stop-color="#00009c"/></linearGradient>
<linearGradient id="b10" x1="0" y1="0" x2="0" y2="1"><stop offset="0" stop-color="#000096"/><stop offset="1" stop-color="#00009c"/></linearGradient>
<linearGradient id="b11" x1="0" y1="0" x2="0" y2="1"><stop offset="0" stop-color="#000096"/><stop offset="1" stop-color="#00009d"/></linearGradient>
<linearGradient id="b12" x1="0" y1="0" x2="0" y2="1"><stop offset="0" stop-color="#000096"/><stop offset="0.5066" stop-color="#000098"/><stop offset="1" stop-color="#00009e"/></linearGradient>
<linearGradient id="b13" x1="0" y1="0" x2="0" y2="1"><stop offset="0" stop-color="#000096"/><stop offset="0.5013" stop-color="#000098"/><stop offset="1" stop-color="#00009f"/></linearGradient>
<linearGradient id="b14" x1="0" y1="0" x2="0" y2="1"><stop offset="0" stop-color="#000096"/><stop offset="0.496" stop-color="#000098"/><stop offset="1" stop-color="#0000a0"/></linearGradient>
<linearGradient id="b15" x1="0" y1="0" x2="0" y2="1"><stop offset="0" stop-color="#000096"/><stop offset="0.4907" stop-color="#000098"/><stop offset="1" stop-color="#0000a2"/></linearGradient>
<linearGradient id="b16" x1="0" y1="0" x2="0" y2="1"><stop offset="0" stop-color="#000096"/><stop offset="0.4854" stop-color="#000098"/><stop offset="1" stop-color="#0000a4"/></linearGradient>
<linearGradient id="b17" x1="0" y1="0" x2="0" y2="1"><stop offset="0" stop-color="#000096"/><stop offset="0.4801" stop-color="#000098"/><stop offset="1" stop-color="#0000a5"/></linearGradient>
<linearGradient id="b18" x1="0" y1="0" x2="0" y2="1"><stop offset="0" stop-color="#000096"/><stop offset="0.4748" stop-color="#000098"/><stop offset="1" stop-color="#0000a8"/></linearGradient>
<linearGradient id="b19" x1="0" y1="0" x2="0" y2="1"><stop offset="0" stop-color="#000096"/><stop offset="0.4668" stop-color="#000099"/><stop offset="1" stop-color="#0000aa"/></linearGradient>
<linearGradient id="b20" x1="0" y1="0" x2="0" y2="1"><stop offset="0" stop-color="#000096"/><stop offset="0.4589" stop-color="#000099"/><stop offset="1" stop-color="#0000ac"/></linearGradient>
<linearGradient id="b21" x1="0" y1="0" x2="0" y2="1"><stop offset="0" stop-color="#000096"/><stop offset="0.4509" stop-color="#000099"/><stop offset="1" stop-color="#0000af"/></linearGradient>
<linearGradient id="b22" x1="0" y1="0" x2="0" y2="1"><stop offset="0" stop-color="#000096"/><stop offset="0.443" stop-color="#000099"/><stop offset="1" stop-color="#0000b1"/></linearGradient>
<linearGradient id="b23" x1="0" y1="0" x2="0" y2="1"><stop offset="0" stop-color="#000096"/><stop offset="0.4324" stop-color="#00009a"/><stop offset="1" stop-color="#0000b4"/></linearGradient>
<linearGradient id="b24" x1="0" y1="0" x2="0" y2="1"><stop offset="0" stop-color="#000096"/><stop offset="0.4218" stop-color="#00009a"/><stop offset="0.5836" stop-color="#0000a5"/><stop offset="1" stop-color="#0000b7"/></linearGradient>
<linearGradient id="b25" x1="0" y1="0" x2="0" y2="1"><stop offset="0" stop-color="#000096"/><stop offset="0.4085" stop-color="#00009a"/><stop offset="0.5836" stop-color="#0000a7"/><stop offset="1" stop-color="#0000b9"/></linearGradient>
<linearGradient id="b26" x1="0" y1="0" x2="0" y2="1"><stop offset="0" stop-color="#000096"/><stop offset="0.382" stop-color="#00009a"/><stop offset="0.5836" stop-color="#0000a9"/><stop offset="1" stop-color="#0000bb"/></linearGradient>
<linearGradient id="b27" x1="0" y1="0" x2="0" y2="1"><stop offset="0" stop-color="#000096"/><stop offset="0.3687" stop-color="#00009a"/><stop offset="0.4801" stop-color="#0000a0"/><stop offset="0.5836" stop-color="#0000ab"/><stop offset="1" stop-color="#0000bd"/></linearGradient>
<linearGradient id="b28" x1="0" y1="0" x2="0" y2="1"><stop offset="0" stop-color="#000096"/><stop offset="0.3289" stop-color="#000099"/><stop offset="0.4615" stop-color="#0000a0"/><stop offset="0.5836" stop-color="#0000ae"/><stop offset="1" stop-color="#0000bf"/></linearGradient>
<linearGradient id="b29" x1="0" y1="0" x2="0" y2="1"><stop offset="0" stop-color="#000096"/><stop offset="0.3183" stop-color="#000099"/><stop offset="0.4536" stop-color="#0000a1"/><stop offset="0.5836" stop-color="#0000b0"/><stop offset="1" stop-color="#0000c1"/></linearGradient>
<linearGradient id="b30" x1="0" y1="0" x2="0" y2="1"><stop offset="0" stop-color="#000096"/><stop offset="0.3103" stop-color="#000099"/><stop offset="0.4456" stop-color="#0000a3"/><stop offset="0.5836" stop-color="#0000b3"/><stop offset="1" stop-color="#0000c3"/></linearGradient>
<linearGradient id="b31" x1="0" y1="0" x2="0" y2="1"><stop offset="0" stop-color="#000096"/><stop offset="0.2997" stop-color="#000099"/><stop offset="0.4377" stop-color="#0000a4"/><stop offset="0.5836" stop-color="#0000b5"/><stop offset="1" stop-color="#0000c4"/></linearGradient>
<linearGradient id="b32" x1="0" y1="0" x2="0" y2="1"><stop offset="0" stop-color="#000096"/><stop offset="0.2918" stop-color="#000099"/><stop offset="0.5836" stop-color="#0000b7"/><stop offset="1" stop-color="#0000c5"/></linearGradient>
<linearGradient id="b33" x1="0" y1="0" x2="0" y2="1"><stop offset="0" stop-color="#000096"/><stop offset="0.2812" stop-color="#000099"/><stop offset="0.5836" stop-color="#0000b9"/><stop offset="1" stop-color="#0000c7"/></linearGradient>
<linearGradient id="b34" x1="0" y1="0" x2="0" y2="1"><stop offset="0" stop-color="#000096"/><stop offset="0.2706" stop-color="#000099"/><stop offset="0.5836" stop-color="#0000ba"/><stop offset="1" stop-color="#0000c8"/></linearGradient>
<linearGradient id="b35" x1="0" y1="0" x2="0" y2="1"><stop offset="0" stop-color="#000096"/><stop offset="0.2573" stop-color="#000099"/><stop offset="0.5836" stop-color="#0000bc"/><stop offset="1" stop-color="#0000c9"/></linearGradient>
<linearGradient id="b36" x1="0" y1="0" x2="0" y2="1"><stop offset="0" stop-color="#000096"/><stop offset="0.2467" stop-color="#000099"/><stop offset="0.5836" stop-color="#0000bd"/><stop offset="1" stop-color="#0000ca"/></linearGradient>
<linearGradient id="b37" x1="0" y1="0" x2="0" y2="1"><stop offset="0" stop-color="#000096"/><stop offset="0.2546" stop-color="#00009a"/><stop offset="0.5836" stop-color="#0000bf"/><stop offset="1" stop-color="#0000cb"/></linearGradient>
<linearGradient id="b38" x1="0" y1="0" x2="0" y2="1"><stop offset="0" stop-color="#000096"/><stop offset="0.2467" stop-color="#00009a"/><stop offset="0.3979" stop-color="#0000ae"/><stop offset="0.5836" stop-color="#0000c0"/><stop offset="1" stop-color="#0000cc"/></linearGradient>
<linearGradient id="b39" x1="0" y1="0" x2="0" y2="1"><stop offset="0" stop-color="#000096"/><stop offset="0.2387" stop-color="#00009a"/><stop offset="0.3979" stop-color="#0000b0"/><stop offset="0.5836" stop-color="#0000c1"/><stop offset="1" stop-color="#0000cd"/></linearGradient>
<linearGradient id="b40" x1="0" y1="0" x2="0" y2="1"><stop offset="0" stop-color="#000096"/><stop offset="0.2281" stop-color="#00009a"/><stop offset="0.3979" stop-color="#0000b2"/><stop offset="0.5836" stop-color="#0000c2"/><stop offset="1" stop-color="#0000ce"/></linearGradient>
<linearGradient id="b41" x1="0" y1="0" x2="0" y2="1"><stop offset="0" stop-color="#000096"/><stop offset="0.2202" stop-color="#00009a"/><stop offset="0.3979" stop-color="#0000b3"/><stop offset="0.5836" stop-color="#0000c3"/><stop offset="1" stop-color="#0000cf"/></linearGradient>
<linearGradient id="b42" x1="0" y1="0" x2="0" y2="1"><stop offset="0" stop-color="#000096"/><stop offset="0.2122" stop-color="#00009a"/><stop offset="0.3979" stop-color="#0000b5"/><stop offset="0.5836" stop-color="#0000c4"/><stop offset="1" stop-color="#0000d0"/></linearGradient>
<linearGradient id="b43" x1="0" y1="0" x2="0" y2="1"><stop offset="0" stop-color="#000096"/><stop offset="0.2042" stop-color="#00009a"/><stop offset="0.3979" stop-color="#0000b6"/><stop offset="0.5836" stop-color="#0000c5"/><stop offset="1" stop-color="#0000d1"/></linearGradient>
<linearGradient id="b44" x1="0" y1="0" x2="0" y2="1"><stop offset="0" stop-color="#000096"/><stop offset="0.1963" stop-color="#00009a"/><stop offset="0.3979" stop-color="#0000b8"/><stop offset="0.5836" stop-color="#0000c6"/><stop offset="1" stop-color="#0000d2"/></linearGradient>
<linearGradient id="b45" x1="0" y1="0" x2="0" y2="1"><stop offset="0" stop-color="#000096"/><stop offset="0.1883" stop-color="#00009b"/><stop offset="0.3979" stop-color="#0000b9"/><stop offset="0.5836" stop-color="#0000c7"/><stop offset="1" stop-color="#0000d3"/></linearGradient>
<linearGradient id="b46" x1="0" y1="0" x2="0" y2="1"><stop offset="0" stop-color="#000096"/><stop offset="0.1804" stop-color="#00009b"/><stop offset="0.3979" stop-color="#0000ba"/><stop offset="0.5836" stop-color="#0000c8"/><stop offset="1" stop-color="#0000d4"/></linearGradient>
<linearGradient id="b47" x1="0" y1="0" x2="0" y2="1"><stop offset="0" stop-color="#000096"/><stop offset="0.1751" stop-color="#00009b"/><stop offset="0.3979" stop-color="#0000bb"/><stop offset="0.5836" stop-color="#0000c9"/><stop offset="0.7798" stop-color="#0000d1"/><stop offset="1" stop-color="#0000d5"/></linearGradient>
<linearGradient id="b48" x1="0" y1="0" x2="0" y2="1"><stop offset="0" stop-color="#000096"/><stop offset="0.1671" stop-color="#00009b"/><stop offset="0.3979" stop-color="#0000bc"/><stop offset="0.5836" stop-color="#0000ca"/><stop offset="0.7772" stop-color="#0000d3"/><stop offset="1" stop-color="#0000d6"/></linearGradient>
<linearGradient id="b49" x1="0" y1="0" x2="0" y2="1"><stop offset="0" stop-color="#000096"/><stop offset="0.1618" stop-color="#00009b"/><stop offset="0.3979" stop-color="#0000bd"/><stop offset="0.5836" stop-color="#0000cc"/><stop offset="0.7745" stop-color="#0000d4"/><stop offset="1" stop-color="#0000d8"/></linearGradient>
<linearGradient id="b50" x1="0" y1="0" x2="0" y2="1"><stop offset="0" stop-color="#000096"/><stop offset="0.1592" stop-color="#00009b"/><stop offset="0.3979" stop-color="#0000be"/><stop offset="0.5836" stop-color="#0000cd"/><stop offset="0.7745" stop-color="#0000d5"/><stop offset="1" stop-color="#0000d9"/></linearGradient>
<linearGradient id="b51" x1="0" y1="0" x2="0" y2="1"><stop offset="0" stop-color="#000096"/><stop offset="0.1592" stop-color="#00009c"/><stop offset="0.3979" stop-color="#0000bf"/><stop offset="0.5836" stop-color="#0000cf"/><stop offset="0.7719" stop-color="#0000d7"/><stop offset="1" stop-color="#0000da"/></linearGradient>
<linearGradient id="b52" x1="0" y1="0" x2="0" y2="1"><stop offset="0" stop-color="#000096"/><stop offset="0.1592" stop-color="#00009d"/><stop offset="0.3979" stop-color="#0000c0"/><stop offset="0.5836" stop-color="#0000d0"/><stop offset="0.7719" stop-color="#0000d8"/><stop offset="1" stop-color="#0000db"/></linearGradient>
<linearGradient id="b53" x1="0" y1="0" x2="0" y2="1"><stop offset="0" stop-color="#000096"/><stop offset="0.1592" stop-color="#00009e"/><stop offset="0.3979" stop-color="#0000c1"/><stop offset="0.5836" stop-color="#0000d2"/><stop offset="0.7692" stop-color="#0000da"/><stop offset="1" stop-color="#0000dc"/></linearGradient>
<linearGradient id="b54" x1="0" y1="0" x2="0" y2="1"><stop offset="0" stop-color="#000096"/><stop offset="0.1592" stop-color="#00009e"/><stop offset="0.3979" stop-color="#0000c3"/><stop offset="0.5836" stop-color="#0000d3"/><stop offset="0.7639" stop-color="#0000db"/><stop offset="1" stop-color="#0000dc"/></linearGradient>
<linearGradient id="b55" x1="0" y1="0" x2="0" y2="1"><stop offset="0" stop-color="#000096"/><stop offset="0.1592" stop-color="#00009f"/><stop offset="0.3979" stop-color="#0000c4"/><stop offset="0.5836" stop-color="#0000d5"/><stop offset="0.7613" stop-color="#0000dd"/><stop offset="1" stop-color="#0000dd"/></linearGradient>
<linearGradient id="b56" x1="0" y1="0" x2="0" y2="1"><stop offset="0" stop-color="#000096"/><stop offset="0.1592" stop-color="#0000a0"/><stop offset="0.3979" stop-color="#0000c6"/><stop offset="0.5836" stop-color="#0000d7"/><stop offset="0.756" stop-color="#0000df"/><stop offset="1" stop-color="#0000de"/></linearGradient>
<linearGradient id="b57" x1="0" y1="0" x2="0" y2="1"><stop offset="0" stop-color="#000096"/><stop offset="0.1592" stop-color="#0000a0"/><stop offset="0.3979" stop-color="#0000c7"/><stop offset="0.5836" stop-color="#0000d9"/><stop offset="0.7507" stop-color="#0000e0"/><stop offset="1" stop-color="#0000de"/></linearGradient>
<linearGradient id="b58" x1="0" y1="0" x2="0" y2="1"><stop offset="0" stop-color="#000096"/><stop offset="0.1592" stop-color="#0000a1"/><stop offset="0.3979" stop-color="#0000c9"/><stop offset="0.5836" stop-color="#0000db"/><stop offset="0.7454" stop-color="#0000e2"/><stop offset="1" stop-color="#0000df"/></linearGradient>
<linearGradient id="b59" x1="0" y1="0" x2="0" y2="1"><stop offset="0" stop-color="#000096"/><stop offset="0.1592" stop-color="#0000a1"/><stop offset="0.3979" stop-color="#0000cc"/><stop offset="0.5836" stop-color="#0000de"/><stop offset="0.7401" stop-color="#0000e3"/><stop offset="1" stop-color="#0000df"/></linearGradient>
<linearGradient id="b60" x1="0" y1="0" x2="0" y2="1"><stop offset="0" stop-color="#000096"/><stop offset="0.1592" stop-color="#0000a2"/><stop offset="0.3979" stop-color="#0000ce"/><stop offset="0.5836" stop-color="#0000e0"/><stop offset="0.7347" stop-color="#0000e5"/><stop offset="1" stop-color="#0000df"/></linearGradient>
<linearGradient id="b61" x1="0" y1="0" x2="0" y2="1"><stop offset="0" stop-color="#000096"/><stop offset="0.1592" stop-color="#0000a2"/><stop offset="0.3899" stop-color="#0000d0"/><stop offset="0.5836" stop-color="#0000e2"/><stop offset="0.7294" stop-color="#0000e6"/><stop offset="1" stop-color="#0000e0"/></linearGradient>
<linearGradient id="b62" x1="0" y1="0" x2="0" y2="1"><stop offset="0" stop-color="#000096"/><stop offset="0.1592" stop-color="#0000a3"/><stop offset="0.3767" stop-color="#0000d1"/><stop offset="0.5836" stop-color="#0000e5"/><stop offset="0.7241" stop-color="#0000e8"/><stop offset="1" stop-color="#0000e0"/></linearGradient>
<linearGradient id="b63" x1="0" y1="0" x2="0" y2="1"><stop offset="0" stop-color="#000096"/><stop offset="0.1592" stop-color="#0000a3"/><stop offset="0.366" stop-color="#0000d2"/><stop offset="0.5809" stop-color="#0000e7"/><stop offset="0.7188" stop-color="#0000e9"/><stop offset="1" stop-color="#0000e0"/></linearGradient>
<linearGradient id="b64" x1="0" y1="0" x2="0" y2="1"><stop offset="0" stop-color="#000096"/><stop offset="0.1592" stop-color="#0000a4"/><stop offset="0.374" stop-color="#0000d7"/><stop offset="0.5676" stop-color="#0000e9"/><stop offset="0.6737" stop-color="#0000eb"/><stop offset="1" stop-color="#0000e0"/></linearGradient>
<linearGradient id="b65" x1="0" y1="0" x2="0" y2="1"><stop offset="0" stop-color="#000096"/><stop offset="0.1565" stop-color="#0000a4"/><stop offset="0.3607" stop-color="#0000d8"/><stop offset="0.4934" stop-color="#0000e7"/><stop offset="0.6419" stop-color="#0000ed"/><stop offset="1" stop-color="#0000df"/></linearGradient>
<linearGradient id="b66" x1="0" y1="0" x2="0" y2="1"><stop offset="0" stop-color="#000096"/><stop offset="0.1485" stop-color="#0000a4"/><stop offset="0.3554" stop-color="#0000db"/><stop offset="0.4907" stop-color="#0000ea"/><stop offset="0.634" stop-color="#0000ef"/><stop offset="1" stop-color="#0000df"/></linearGradient>
<linearGradient id="b67" x1="0" y1="0" x2="0" y2="1"><stop offset="0" stop-color="#000096"/><stop offset="0.1406" stop-color="#0000a3"/><stop offset="0.3448" stop-color="#0000dd"/><stop offset="0.4828" stop-color="#0000ed"/><stop offset="0.6207" stop-color="#0000f0"/><stop offset="1" stop-color="#0000df"/></linearGradient>
<linearGradient id="b68" x1="0" y1="0" x2="0" y2="1"><stop offset="0" stop-color="#000096"/><stop offset="0.13" stop-color="#0000a2"/><stop offset="0.3342" stop-color="#0000e0"/><stop offset="0.4721" stop-color="#0000f0"/><stop offset="0.6074" stop-color="#0000f2"/><stop offset="1" stop-color="#0000de"/></linearGradient>
<linearGradient id="b69" x1="0" y1="0" x2="0" y2="1"><stop offset="0" stop-color="#000096"/><stop offset="0.1247" stop-color="#0000a2"/><stop offset="0.3183" stop-color="#0000e1"/><stop offset="0.3607" stop-color="#0000ea"/><stop offset="0.435" stop-color="#0000f1"/><stop offset="0.5836" stop-color="#0000f4"/><stop offset="1" stop-color="#0000de"/></linearGradient>
<linearGradient id="b70" x1="0" y1="0" x2="0" y2="1"><stop offset="0" stop-color="#000096"/><stop offset="0.1167" stop-color="#0000a1"/><stop offset="0.1565" stop-color="#0000ad"/><stop offset="0.2732" stop-color="#0000da"/><stop offset="0.3475" stop-color="#0000ec"/><stop offset="0.4244" stop-color="#0000f5"/><stop offset="0.5729" stop-color="#0000f6"/><stop offset="1" stop-color="#0000dd"/></linearGradient>
<linearGradient id="b71" x1="0" y1="0" x2="0" y2="1"><stop offset="0" stop-color="#000096"/><stop offset="0.1088" stop-color="#0000a1"/><stop offset="0.1459" stop-color="#0000ad"/><stop offset="0.2653" stop-color="#0000df"/><stop offset="0.3395" stop-color="#0000f0"/><stop offset="0.4138" stop-color="#0000f8"/><stop offset="0.5597" stop-color="#0000f7"/><stop offset="1" stop-color="#0000dc"/></linearGradient>
<linearGradient id="b72" x1="0" y1="0" x2="0" y2="1"><stop offset="0" stop-color="#000096"/><stop offset="0.1034" stop-color="#0000a1"/><stop offset="0.2573" stop-color="#0000e3"/><stop offset="0.3289" stop-color="#0000f4"/><stop offset="0.382" stop-color="#0000fb"/><stop offset="0.5013" stop-color="#0000fb"/><stop offset="1" stop-color="#0000db"/></linearGradient>
<linearGradient id="b73" x1="0" y1="0" x2="0" y2="1"><stop offset="0" stop-color="#000096"/><stop offset="0.0981" stop-color="#0000a1"/><stop offset="0.1247" stop-color="#0000ab"/><stop offset="0.2042" stop-color="#0000d6"/><stop offset="0.2414" stop-color="#0000e6"/><stop offset="0.3156" stop-color="#0000f8"/><stop offset="0.366" stop-color="#0000ff"/><stop offset="0.4854" stop-color="#0000fe"/><stop offset="0.8329" stop-color="#0000e3"/><stop offset="1" stop-color="#0000da"/></linearGradient>
<linearGradient id="b74" x1="0" y1="0" x2="0" y2="1"><stop offset="0" stop-color="#000096"/><stop offset="0.0928" stop-color="#0000a1"/><stop offset="0.1167" stop-color="#0000ac"/><stop offset="0.1804" stop-color="#0000d3"/><stop offset="0.2149" stop-color="#0000e4"/><stop offset="0.2626" stop-color="#0000f5"/><stop offset="0.313" stop-color="#0000ff"/><stop offset="0.3899" stop-color="#0006ff"/><stop offset="0.4854" stop-color="#0000ff"/><stop offset="0.7029" stop-color="#0000eb"/><stop offset="1" stop-color="#0000d9"/></linearGradient>
<linearGradient id="b75" x1="0" y1="0" x2="0" y2="1"><stop offset="0" stop-color="#000096"/><stop offset="0.061" stop-color="#00009c"/><stop offset="0.0902" stop-color="#0000a3"/><stop offset="0.1141" stop-color="#0000af"/><stop offset="0.1936" stop-color="#0000e4"/><stop offset="0.2281" stop-color="#0000f3"/><stop offset="0.2706" stop-color="#0000ff"/><stop offset="0.3501" stop-color="#000cff"/><stop offset="0.4058" stop-color="#000aff"/><stop offset="0.4907" stop-color="#0000ff"/><stop offset="0.6976" stop-color="#0000ea"/><stop offset="1" stop-color="#0000d8"/></linearGradient>
<linearGradient id="b76" x1="0" y1="0" x2="0" y2="1"><stop offset="0" stop-color="#000096"/><stop offset="0.0531" stop-color="#00009c"/><stop offset="0.0849" stop-color="#0000a3"/><stop offset="0.1088" stop-color="#0000b1"/><stop offset="0.1777" stop-color="#0000e6"/><stop offset="0.2361" stop-color="#0001ff"/><stop offset="0.2732" stop-color="#000bff"/><stop offset="0.3342" stop-color="#0012ff"/><stop offset="0.3979" stop-color="#000dff"/><stop offset="0.4907" stop-color="#0000ff"/><stop offset="0.6923" stop-color="#0000e9"/><stop offset="1" stop-color="#0000d7"/></linearGradient>
<linearGradient id="b77" x1="0" y1="0" x2="0" y2="1"><stop offset="0" stop-color="#000096"/><stop offset="0.0477" stop-color="#00009c"/><stop offset="0.0796" stop-color="#0000a4"/><stop offset="0.1034" stop-color="#0000b4"/><stop offset="0.1618" stop-color="#0000e7"/><stop offset="0.2042" stop-color="#0000ff"/><stop offset="0.2626" stop-color="#0015ff"/><stop offset="0.3183" stop-color="#0019ff"/><stop offset="0.3873" stop-color="#0011ff"/><stop offset="0.4881" stop-color="#0000ff"/><stop offset="0.6897" stop-color="#0000e8"/><stop offset="1" stop-color="#0000d6"/></linearGradient>
<linearGradient id="b78" x1="0" y1="0" x2="0" y2="1"><stop offset="0" stop-color="#000097"/><stop offset="0.0451" stop-color="#00009d"/><stop offset="0.0796" stop-color="#0000a9"/><stop offset="0.1008" stop-color="#0000ba"/><stop offset="0.1406" stop-color="#0000e3"/><stop offset="0.1804" stop-color="#0001ff"/><stop offset="0.2228" stop-color="#0019ff"/><stop offset="0.2732" stop-color="#0021ff"/><stop offset="0.3316" stop-color="#001dff"/><stop offset="0.4828" stop-color="#0000ff"/><stop offset="0.6897" stop-color="#0000e7"/><stop offset="1" stop-color="#0000d5"/></linearGradient>
<linearGradient id="b79" x1="0" y1="0" x2="0" y2="1"><stop offset="0" stop-color="#000097"/><stop offset="0.0451" stop-color="#0000a0"/><stop offset="0.0796" stop-color="#0000af"/><stop offset="0.1008" stop-color="#0000c3"/><stop offset="0.1326" stop-color="#0000e9"/><stop offset="0.1592" stop-color="#0000ff"/><stop offset="0.2095" stop-color="#0026ff"/><stop offset="0.2255" stop-color="#002bff"/><stop offset="0.2573" stop-color="#002cff"/><stop offset="0.3236" stop-color="#0022ff"/><stop offset="0.4748" stop-color="#0000ff"/><stop offset="0.6897" stop-color="#0000e5"/><stop offset="1" stop-color="#0000d3"/></linearGradient>
<linearGradient id="b80" x1="0" y1="0" x2="0" y2="1"><stop offset="0" stop-color="#000098"/><stop offset="0.0451" stop-color="#0000a3"/><stop offset="0.0796" stop-color="#0000b7"/><stop offset="0.1326" stop-color="#0000f8"/><stop offset="0.1406" stop-color="#0000ff"/><stop offset="0.1936" stop-color="#0034ff"/><stop offset="0.2069" stop-color="#003bff"/><stop offset="0.2202" stop-color="#003dff"/><stop offset="0.2653" stop-color="#0035ff"/><stop offset="0.4642" stop-color="#0000ff"/><stop offset="0.5305" stop-color="#0000f3"/><stop offset="0.6897" stop-color="#0000e3"/><stop offset="1" stop-color="#0000d2"/></linearGradient>
<linearGradient id="b81" x1="0" y1="0" x2="0" y2="1"><stop offset="0" stop-color="#000099"/><stop offset="0.0398" stop-color="#0000a5"/><stop offset="0.0716" stop-color="#0000ba"/><stop offset="0.0849" stop-color="#0000c7"/><stop offset="0.1273" stop-color="#0002ff"/><stop offset="0.1804" stop-color="#0044ff"/><stop offset="0.1936" stop-color="#004eff"/><stop offset="0.2069" stop-color="#0051ff"/><stop offset="0.2944" stop-color="#002eff"/><stop offset="0.4509" stop-color="#0000ff"/><stop offset="0.5305" stop-color="#0000f1"/><stop offset="0.679" stop-color="#0000e2"/><stop offset="1" stop-color="#0000d1"/></linearGradient>
<linearGradient id="b82" x1="0" y1="0" x2="0" y2="1"><stop offset="0" stop-color="#00009b"/><stop offset="0.0345" stop-color="#0000a8"/><stop offset="0.061" stop-color="#0000bb"/><stop offset="0.0796" stop-color="#0000cd"/><stop offset="0.1141" stop-color="#0000ff"/><stop offset="0.1326" stop-color="#0021ff"/><stop offset="0.1671" stop-color="#0055ff"/><stop offset="0.1804" stop-color="#0062ff"/><stop offset="0.1936" stop-color="#0066ff"/><stop offset="0.2095" stop-color="#0062ff"/><stop offset="0.2387" stop-color="#004aff"/><stop offset="0.2944" stop-color="#002eff"/><stop offset="0.4403" stop-color="#0000ff"/><stop offset="0.5305" stop-color="#0000ed"/><stop offset="0.6631" stop-color="#0000e1"/><stop offset="1" stop-color="#0000d0"/></linearGradient>
<linearGradient id="b83" x1="0" y1="0" x2="0" y2="1"><stop offset="0" stop-color="#00009e"/><stop offset="0.0292" stop-color="#0000ac"/><stop offset="0.0531" stop-color="#0000be"/><stop offset="0.0796" stop-color="#0000db"/><stop offset="0.1034" stop-color="#0001ff"/><stop offset="0.13" stop-color="#0040ff"/><stop offset="0.1406" stop-color="#0056ff"/><stop offset="0.1485" stop-color="#005eff"/><stop offset="0.1645" stop-color="#0075ff"/><stop offset="0.1804" stop-color="#007cff"/><stop offset="0.2016" stop-color="#0073ff"/><stop offset="0.2387" stop-color="#004dff"/><stop offset="0.2944" stop-color="#002dff"/><stop offset="0.3581" stop-color="#0015ff"/><stop offset="0.4271" stop-color="#0000ff"/><stop offset="0.5305" stop-color="#0000ea"/><stop offset="0.634" stop-color="#0000e1"/><stop offset="1" stop-color="#0000cf"/></linearGradient>
<linearGradient id="b84" x1="0" y1="0" x2="0" y2="1"><stop offset="0" stop-color="#0000a3"/><stop offset="0.0239" stop-color="#0000b1"/><stop offset="0.0477" stop-color="#0000c5"/><stop offset="0.0796" stop-color="#0000ea"/><stop offset="0.0902" stop-color="#0000fc"/><stop offset="0.0928" stop-color="#0003ff"/><stop offset="0.1008" stop-color="#001aff"/><stop offset="0.122" stop-color="#0068ff"/><stop offset="0.13" stop-color="#007dff"/><stop offset="0.1406" stop-color="#008cff"/><stop offset="0.1485" stop-color="#0088ff"/><stop offset="0.1565" stop-color="#008fff"/><stop offset="0.1645" stop-color="#0092ff"/><stop offset="0.1751" stop-color="#008fff"/><stop offset="0.191" stop-color="#0083ff"/><stop offset="0.2387" stop-color="#004dff"/><stop offset="0.2944" stop-color="#002aff"/><stop offset="0.3581" stop-color="#0010ff"/><stop offset="0.4111" stop-color="#0000ff"/><stop offset="0.5332" stop-color="#0000e7"/><stop offset="0.7029" stop-color="#0000da"/><stop offset="1" stop-color="#0000cf"/></linearGradient>
<linearGradient id="b85" x1="0" y1="0" x2="0" y2="1"><stop offset="0" stop-color="#0000a9"/><stop offset="0.0212" stop-color="#0000b8"/><stop offset="0.0424" stop-color="#0000cc"/><stop offset="0.0637" stop-color="#0000e6"/><stop offset="0.0796" stop-color="#0000fe"/><stop offset="0.0849" stop-color="#000fff"/><stop offset="0.0928" stop-color="#0032ff"/><stop offset="0.1061" stop-color="#0085ff"/><stop offset="0.1114" stop-color="#00a2ff"/><stop offset="0.122" stop-color="#00c5ff"/><stop offset="0.1273" stop-color="#00cbff"/><stop offset="0.1379" stop-color="#00c3ff"/><stop offset="0.1432" stop-color="#00b8ff"/><stop offset="0.1485" stop-color="#00a7ff"/><stop offset="0.1592" stop-color="#00a4ff"/><stop offset="0.1751" stop-color="#0097ff"/><stop offset="0.2387" stop-color="#0049ff"/><stop offset="0.2944" stop-color="#0024ff"/><stop offset="0.3926" stop-color="#0000ff"/><stop offset="0.5305" stop-color="#0000e4"/><stop offset="0.7056" stop-color="#0000d9"/><stop offset="1" stop-color="#0000ce"/></linearGradient>
<linearGradient id="b86" x1="0" y1="0" x2="0" y2="1"><stop offset="0" stop-color="#0000b1"/><stop offset="0.0398" stop-color="#0000d6"/><stop offset="0.0557" stop-color="#0000eb"/><stop offset="0.0663" stop-color="#0000fe"/><stop offset="0.0743" stop-color="#0019ff"/><stop offset="0.0796" stop-color="#0034ff"/><stop offset="0.0822" stop-color="#0048ff"/><stop offset="0.0875" stop-color="#0079ff"/><stop offset="0.0955" stop-color="#00cdff"/><stop offset="0.1008" stop-color="#00feff"/><stop offset="0.1034" stop-color="#00ffec"/><stop offset="0.1061" stop-color="#00ffdc"/><stop offset="0.1088" stop-color="#00ffd2"/><stop offset="0.1114" stop-color="#00ffce"/><stop offset="0.122" stop-color="#00ffdb"/><stop offset="0.1247" stop-color="#00ffe2"/><stop offset="0.13" stop-color="#00fff8"/><stop offset="0.1326" stop-color="#00f8ff"/><stop offset="0.1406" stop-color="#00d9ff"/><stop offset="0.1485" stop-color="#00b4ff"/><stop offset="0.1698" stop-color="#009cff"/><stop offset="0.2387" stop-color="#0040ff"/><stop offset="0.2944" stop-color="#001cff"/><stop offset="0.374" stop-color="#0000ff"/><stop offset="0.4509" stop-color="#0000ed"/><stop offset="0.5305" stop-color="#0000e1"/><stop offset="0.7056" stop-color="#0000d7"/><stop offset="1" stop-color="#0000cd"/></linearGradient>
<linearGradient id="b87" x1="0" y1="0" x2="0" y2="1"><stop offset="0" stop-color="#0000ba"/><stop offset="0.0345" stop-color="#0000de"/><stop offset="0.0451" stop-color="#0000ed"/><stop offset="0.0531" stop-color="#0000fe"/><stop offset="0.0557" stop-color="#0008ff"/><stop offset="0.061" stop-color="#001fff"/><stop offset="0.0637" stop-color="#002eff"/><stop offset="0.069" stop-color="#0058ff"/><stop offset="0.0716" stop-color="#0071ff"/><stop offset="0.0769" stop-color="#00adff"/><stop offset="0.0796" stop-color="#00d0ff"/><stop offset="0.0822" stop-color="#00fcff"/><stop offset="0.0849" stop-color="#00ffd3"/><stop offset="0.0902" stop-color="#00fd79"/><stop offset="0.0928" stop-color="#00f654"/><stop offset="0.0955" stop-color="#8bff1f"/><stop offset="0.0981" stop-color="#9dff0d"/><stop offset="0.1008" stop-color="#a6ff04"/><stop offset="0.1034" stop-color="#a8ff02"/><stop offset="0.1061" stop-color="#a2ff08"/><stop offset="0.1088" stop-color="#95ff15"/><stop offset="0.1114" stop-color="#81ff29"/><stop offset="0.1141" stop-color="#00f75b"/><stop offset="0.1167" stop-color="#00fd7a"/><stop offset="0.122" stop-color="#00ffa0"/><stop offset="0.1273" stop-color="#00ffce"/><stop offset="0.1326" stop-color="#00fff6"/><stop offset="0.1353" stop-color="#00faff"/><stop offset="0.1485" stop-color="#00b3ff"/><stop offset="0.191" stop-color="#006fff"/><stop offset="0.2228" stop-color="#0045ff"/><stop offset="0.2387" stop-color="#0033ff"/><stop offset="0.2918" stop-color="#0014ff"/><stop offset="0.3501" stop-color="#0000ff"/><stop offset="0.4483" stop-color="#0000ea"/><stop offset="0.5305" stop-color="#0000de"/><stop offset="1" stop-color="#0000cc"/></linearGradient>
<linearGradient id="b88" x1="0" y1="0" x2="0" y2="1"><stop offset="0" stop-color="#0000c5"/><stop offset="0.0265" stop-color="#0000e4"/><stop offset="0.0345" stop-color="#0000f1"/><stop offset="0.0398" stop-color="#0000fe"/><stop offset="0.0424" stop-color="#0009ff"/><stop offset="0.0477" stop-color="#0024ff"/><stop offset="0.0504" stop-color="#0037ff"/><stop offset="0.0557" stop-color="#0069ff"/><stop offset="0.061" stop-color="#00abff"/><stop offset="0.0663" stop-color="#00ffff"/><stop offset="0.069" stop-color="#00ffcd"/><stop offset="0.0716" stop-color="#00ff94"/><stop offset="0.0743" stop-color="#00f75a"/><stop offset="0.0769" stop-color="#9dff0d"/><stop offset="0.0796" stop-color="#dcff00"/><stop offset="0.0822" stop-color="#ffe800"/><stop offset="0.0849" stop-color="#ffbe00"/><stop offset="0.0875" stop-color="#ffaa00"/><stop offset="0.0902" stop-color="#ff9e00"/><stop offset="0.0928" stop-color="#ff9900"/><stop offset="0.0955" stop-color="#ff9c00"/><stop offset="0.0981" stop-color="#ffaa00"/><stop offset="0.1008" stop-color="#ffbe00"/><stop offset="0.1061" stop-color="#fff300"/><stop offset="0.1088" stop-color="#e3ff00"/><stop offset="0.1114" stop-color="#b1ff00"/><stop offset="0.1141" stop-color="#87ff23"/><stop offset="0.1167" stop-color="#00f965"/><stop offset="0.1194" stop-color="#00fe7e"/><stop offset="0.1273" stop-color="#00ffd0"/><stop offset="0.1326" stop-color="#00ffff"/><stop offset="0.1485" stop-color="#00a0ff"/><stop offset="0.1671" stop-color="#007aff"/><stop offset="0.1857" stop-color="#005cff"/><stop offset="0.2095" stop-color="#003fff"/><stop offset="0.2387" stop-color="#0024ff"/><stop offset="0.2918" stop-color="#000aff"/><stop offset="0.3103" stop-color="#0004ff"/><stop offset="0.3263" stop-color="#0000ff"/><stop offset="0.435" stop-color="#0000e9"/><stop offset="0.5305" stop-color="#0000dc"/><stop offset="1" stop-color="#0000cc"/></linearGradient>
<linearGradient id="b89" x1="0" y1="0" x2="0" y2="1"><stop offset="0" stop-color="#0000d2"/><stop offset="0.0159" stop-color="#0000e6"/><stop offset="0.0265" stop-color="#0000fd"/><stop offset="0.0292" stop-color="#0009ff"/><stop offset="0.0345" stop-color="#0027ff"/><stop offset="0.0398" stop-color="#0055ff"/><stop offset="0.0424" stop-color="#0073ff"/><stop offset="0.0451" stop-color="#0096ff"/><stop offset="0.0477" stop-color="#00bfff"/><stop offset="0.0504" stop-color="#00efff"/><stop offset="0.0531" stop-color="#00ffd9"/><stop offset="0.0557" stop-color="#00ff9d"/><stop offset="0.0584" stop-color="#00f75c"/><stop offset="0.061" stop-color="#a4ff06"/><stop offset="0.0637" stop-color="#f4ff00"/><stop offset="0.0663" stop-color="#ffd100"/><stop offset="0.069" stop-color="#ff9c00"/><stop offset="0.0743" stop-color="#ff5600"/><stop offset="0.0769" stop-color="#ff3b00"/><stop offset="0.0796" stop-color="#ff2500"/><stop offset="0.0822" stop-color="#ff1300"/><stop offset="0.0849" stop-color="#ff0800"/><stop offset="0.0875" stop-color="#ff1700"/><stop offset="0.0902" stop-color="#ff2c00"/><stop offset="0.0955" stop-color="#ff6100"/><stop offset="0.1061" stop-color="#fff000"/><stop offset="0.1088" stop-color="#daff00"/><stop offset="0.1114" stop-color="#a0ff0a"/><stop offset="0.1141" stop-color="#00f551"/><stop offset="0.1167" stop-color="#00ff84"/><stop offset="0.1194" stop-color="#00ffa7"/><stop offset="0.122" stop-color="#00ffc9"/><stop offset="0.1273" stop-color="#00fffe"/><stop offset="0.1326" stop-color="#00d0ff"/><stop offset="0.1406" stop-color="#00a1ff"/><stop offset="0.1485" stop-color="#0079ff"/><stop offset="0.1671" stop-color="#0056ff"/><stop offset="0.1883" stop-color="#003bff"/><stop offset="0.2175" stop-color="#0023ff"/><stop offset="0.2387" stop-color="#0016ff"/><stop offset="0.2918" stop-color="#0000ff"/><stop offset="0.4271" stop-color="#0000e6"/><stop offset="0.5305" stop-color="#0000d9"/><stop offset="1" stop-color="#0000cb"/></linearGradient>
<linearGradient id="b90" x1="0" y1="0" x2="0" y2="1"><stop offset="0" stop-color="#0000e1"/><stop offset="0.008" stop-color="#0000f0"/><stop offset="0.0133" stop-color="#0000fe"/><stop offset="0.0159" stop-color="#000aff"/><stop offset="0.0212" stop-color="#0025ff"/><stop offset="0.0265" stop-color="#0052ff"/><stop offset="0.0292" stop-color="#006fff"/><stop offset="0.0318" stop-color="#0093ff"/><stop offset="0.0345" stop-color="#00bcff"/><stop offset="0.0371" stop-color="#00ebff"/><stop offset="0.0398" stop-color="#00ffdd"/><stop offset="0.0424" stop-color="#00ff9d"/><stop offset="0.0451" stop-color="#00f655"/><stop offset="0.0477" stop-color="#b5ff00"/><stop offset="0.0504" stop-color="#fff200"/><stop offset="0.0531" stop-color="#ffb300"/><stop offset="0.0584" stop-color="#ff5a00"/><stop offset="0.0637" stop-color="#ff0f00"/><stop offset="0.0663" stop-color="#ef0000"/><stop offset="0.069" stop-color="#d40000"/><stop offset="0.0743" stop-color="#cd0000"/><stop offset="0.0796" stop-color="#d60000"/><stop offset="0.0849" stop-color="#e70000"/><stop offset="0.0875" stop-color="#ff0a00"/><stop offset="0.0902" stop-color="#ff2e00"/><stop offset="0.0955" stop-color="#ff7e00"/><stop offset="0.1008" stop-color="#ffdf00"/><stop offset="0.1034" stop-color="#e4ff00"/><stop offset="0.1061" stop-color="#9eff0c"/><stop offset="0.1088" stop-color="#00f75c"/><stop offset="0.1114" stop-color="#00ff95"/><stop offset="0.1141" stop-color="#00ffcc"/><stop offset="0.1167" stop-color="#00fff5"/><stop offset="0.1194" stop-color="#00edff"/><stop offset="0.1247" stop-color="#00bdff"/><stop offset="0.1326" stop-color="#0086ff"/><stop offset="0.1406" stop-color="#0065ff"/><stop offset="0.1485" stop-color="#004cff"/><stop offset="0.1671" stop-color="#0034ff"/><stop offset="0.191" stop-color="#0020ff"/><stop offset="0.2228" stop-color="#000fff"/><stop offset="0.2653" stop-color="#0000ff"/><stop offset="0.2918" stop-color="#0000f8"/><stop offset="0.3979" stop-color="#0000e7"/><stop offset="0.5305" stop-color="#0000d7"/><stop offset="1" stop-color="#0000ca"/></linearGradient>
<linearGradient id="b91" x1="0" y1="0" x2="0" y2="1"><stop offset="0" stop-color="#0000ff"/><stop offset="0.008" stop-color="#002aff"/><stop offset="0.0133" stop-color="#0052ff"/><stop offset="0.0159" stop-color="#006aff"/><stop offset="0.0212" stop-color="#00a3ff"/><stop offset="0.0265" stop-color="#00f8ff"/><stop offset="0.0292" stop-color="#00ffd5"/><stop offset="0.0318" stop-color="#00ff93"/><stop offset="0.0345" stop-color="#30f944"/><stop offset="0.0371" stop-color="#bbff00"/><stop offset="0.0398" stop-color="#fff100"/><stop offset="0.0477" stop-color="#ff5900"/><stop offset="0.0531" stop-color="#fe0000"/><stop offset="0.0557" stop-color="#eb0000"/><stop offset="0.061" stop-color="#cf0000"/><stop offset="0.069" stop-color="#b60000"/><stop offset="0.0743" stop-color="#d50000"/><stop offset="0.0769" stop-color="#eb0000"/><stop offset="0.0796" stop-color="#ff0800"/><stop offset="0.0849" stop-color="#ff4a00"/><stop offset="0.0928" stop-color="#fff400"/><stop offset="0.0955" stop-color="#bdff00"/><stop offset="0.0981" stop-color="#78ff32"/><stop offset="0.1008" stop-color="#00ff8a"/><stop offset="0.1034" stop-color="#00ffc8"/><stop offset="0.1061" stop-color="#00fff5"/><stop offset="0.1088" stop-color="#00e3ff"/><stop offset="0.1141" stop-color="#00a4ff"/><stop offset="0.1167" stop-color="#008cff"/><stop offset="0.1194" stop-color="#007bff"/><stop offset="0.1273" stop-color="#0056ff"/><stop offset="0.1379" stop-color="#003cff"/><stop offset="0.1485" stop-color="#002bff"/><stop offset="0.1698" stop-color="#0019ff"/><stop offset="0.1963" stop-color="#000bff"/><stop offset="0.2255" stop-color="#0000ff"/><stop offset="0.2918" stop-color="#0000f0"/><stop offset="0.5305" stop-color="#0000d5"/><stop offset="1" stop-color="#0000ca"/></linearGradient>
<linearGradient id="b92" x1="0" y1="0" x2="0" y2="1"><stop offset="0" stop-color="#0054ff"/><stop offset="0.008" stop-color="#00a0ff"/><stop offset="0.0159" stop-color="#00f9ff"/><stop offset="0.0186" stop-color="#00ffe4"/><stop offset="0.0212" stop-color="#00ffc3"/><stop offset="0.0239" stop-color="#00ff88"/><stop offset="0.0265" stop-color="#09f64e"/><stop offset="0.0292" stop-color="#a6ff04"/><stop offset="0.0318" stop-color="#eeff00"/><stop offset="0.0345" stop-color="#ffdc00"/><stop offset="0.0398" stop-color="#ff8400"/><stop offset="0.0451" stop-color="#ff4200"/><stop offset="0.0504" stop-color="#ff0700"/><stop offset="0.0531" stop-color="#eb0000"/><stop offset="0.0584" stop-color="#ec0000"/><stop offset="0.0637" stop-color="#ff0400"/><stop offset="0.0663" stop-color="#ff1900"/><stop offset="0.069" stop-color="#ff3300"/><stop offset="0.0743" stop-color="#ff9300"/><stop offset="0.0796" stop-color="#fffd00"/><stop offset="0.0822" stop-color="#b7ff00"/><stop offset="0.0849" stop-color="#7cff2e"/><stop offset="0.0875" stop-color="#00ff8b"/><stop offset="0.0902" stop-color="#00ffcc"/><stop offset="0.0928" stop-color="#00fffa"/><stop offset="0.0955" stop-color="#00dbff"/><stop offset="0.0981" stop-color="#00b7ff"/><stop offset="0.1008" stop-color="#0099ff"/><stop offset="0.1061" stop-color="#006bff"/><stop offset="0.1114" stop-color="#004cff"/><stop offset="0.1167" stop-color="#0039ff"/><stop offset="0.1247" stop-color="#002bff"/><stop offset="0.1459" stop-color="#0016ff"/><stop offset="0.1857" stop-color="#0000ff"/><stop offset="0.2918" stop-color="#0000e9"/><stop offset="0.5225" stop-color="#0000d4"/><stop offset="1" stop-color="#0000c9"/></linearGradient>
<linearGradient id="b93" x1="0" y1="0" x2="0" y2="1"><stop offset="0" stop-color="#00c5ff"/><stop offset="0.0053" stop-color="#00f8ff"/><stop offset="0.008" stop-color="#00ffed"/><stop offset="0.0133" stop-color="#00ffbc"/><stop offset="0.0186" stop-color="#00ff82"/><stop offset="0.0212" stop-color="#00fa69"/><stop offset="0.0239" stop-color="#84ff26"/><stop offset="0.0265" stop-color="#adff00"/><stop offset="0.0292" stop-color="#dfff00"/><stop offset="0.0318" stop-color="#ffef00"/><stop offset="0.0371" stop-color="#ffab00"/><stop offset="0.0398" stop-color="#ff8e00"/><stop offset="0.0424" stop-color="#ff7d00"/><stop offset="0.0451" stop-color="#ff7200"/><stop offset="0.0477" stop-color="#ff6d00"/><stop offset="0.0504" stop-color="#ff6f00"/><stop offset="0.0531" stop-color="#ff7800"/><stop offset="0.0557" stop-color="#ff9900"/><stop offset="0.061" stop-color="#ffe800"/><stop offset="0.0637" stop-color="#dfff00"/><stop offset="0.0663" stop-color="#9eff0c"/><stop offset="0.069" stop-color="#00f75b"/><stop offset="0.0716" stop-color="#00ff9e"/><stop offset="0.0743" stop-color="#00ffda"/><stop offset="0.0769" stop-color="#00f5ff"/><stop offset="0.0796" stop-color="#00ccff"/><stop offset="0.0822" stop-color="#00acff"/><stop offset="0.0875" stop-color="#0076ff"/><stop offset="0.0928" stop-color="#0050ff"/><stop offset="0.0955" stop-color="#0042ff"/><stop offset="0.1008" stop-color="#002dff"/><stop offset="0.1061" stop-color="#0021ff"/><stop offset="0.1141" stop-color="#0016ff"/><stop offset="0.1512" stop-color="#0001ff"/><stop offset="0.1989" stop-color="#0000ef"/><stop offset="0.2918" stop-color="#0000e2"/><stop offset="0.5013" stop-color="#0000d3"/><stop offset="1" stop-color="#0000c9"/></linearGradient>
<linearGradient id="b94" x1="0" y1="0" x2="0" y2="1"><stop offset="0" stop-color="#00fffb"/><stop offset="0.008" stop-color="#00ffc9"/><stop offset="0.0186" stop-color="#00ff80"/><stop offset="0.0212" stop-color="#00fc73"/><stop offset="0.0239" stop-color="#00f654"/><stop offset="0.0265" stop-color="#86ff24"/><stop offset="0.0318" stop-color="#a8ff02"/><stop offset="0.0345" stop-color="#b3ff00"/><stop offset="0.0371" stop-color="#b5ff00"/><stop offset="0.0398" stop-color="#adff00"/><stop offset="0.0424" stop-color="#99ff11"/><stop offset="0.0451" stop-color="#80ff2a"/><stop offset="0.0477" stop-color="#00f861"/><stop offset="0.0504" stop-color="#00ff86"/><stop offset="0.0531" stop-color="#00ffaf"/><stop offset="0.0557" stop-color="#00ffdf"/><stop offset="0.0584" stop-color="#00f7ff"/><stop offset="0.0637" stop-color="#00b0ff"/><stop offset="0.069" stop-color="#0078ff"/><stop offset="0.0743" stop-color="#004bff"/><stop offset="0.0796" stop-color="#002dff"/><stop offset="0.0849" stop-color="#001eff"/><stop offset="0.0928" stop-color="#000fff"/><stop offset="0.1141" stop-color="#0000ff"/><stop offset="0.1883" stop-color="#0000e6"/><stop offset="0.2918" stop-color="#0000dc"/><stop offset="0.5305" stop-color="#0000cf"/><stop offset="1" stop-color="#0000c8"/></linearGradient>
<linearGradient id="b95" x1="0" y1="0" x2="0" y2="1"><stop offset="0" stop-color="#00fffb"/><stop offset="0.0053" stop-color="#00ffea"/><stop offset="0.0106" stop-color="#00ffe4"/><stop offset="0.0159" stop-color="#00ffe7"/><stop offset="0.0212" stop-color="#00fff5"/><stop offset="0.0265" stop-color="#00fffb"/><stop offset="0.0292" stop-color="#00faff"/><stop offset="0.0318" stop-color="#00efff"/><stop offset="0.0371" stop-color="#00ceff"/><stop offset="0.0504" stop-color="#0065ff"/><stop offset="0.0584" stop-color="#0034ff"/><stop offset="0.0663" stop-color="#0017ff"/><stop offset="0.0716" stop-color="#000bff"/><stop offset="0.0796" stop-color="#0000ff"/><stop offset="0.1034" stop-color="#0000f3"/><stop offset="0.1592" stop-color="#0000e1"/><stop offset="0.2069" stop-color="#0000d9"/><stop offset="0.3607" stop-color="#0000d6"/><stop offset="0.5305" stop-color="#0000cd"/><stop offset="1" stop-color="#0000c8"/></linearGradient>
<linearGradient id="b96" x1="0" y1="0" x2="0" y2="1"><stop offset="0" stop-color="#00baff"/><stop offset="0.008" stop-color="#00a0ff"/><stop offset="0.0212" stop-color="#0061ff"/><stop offset="0.0371" stop-color="#0027ff"/><stop offset="0.0477" stop-color="#000aff"/><stop offset="0.0557" stop-color="#0000fd"/><stop offset="0.0796" stop-color="#0000ed"/><stop offset="0.1061" stop-color="#0000e2"/><stop offset="0.1618" stop-color="#0000d4"/><stop offset="0.1963" stop-color="#0000d0"/><stop offset="0.3607" stop-color="#0000d2"/><stop offset="0.5305" stop-color="#0000cc"/><stop offset="1" stop-color="#0000c7"/></linearGradient>
<linearGradient id="b97" x1="0" y1="0" x2="0" y2="1"><stop offset="0" stop-color="#003fff"/><stop offset="0.0133" stop-color="#0014ff"/><stop offset="0.0239" stop-color="#0000ff"/><stop offset="0.0398" stop-color="#0000f2"/><stop offset="0.0902" stop-color="#0000d9"/><stop offset="0.1804" stop-color="#0000c7"/><stop offset="0.3767" stop-color="#0000cd"/><stop offset="1" stop-color="#0000c6"/></linearGradient>
<linearGradient id="b98" x1="0" y1="0" x2="0" y2="1"><stop offset="0" stop-color="#0000f6"/><stop offset="0.0133" stop-color="#0000eb"/><stop offset="0.0796" stop-color="#0000ce"/><stop offset="0.1114" stop-color="#0000c6"/><stop offset="0.1698" stop-color="#0000bf"/><stop offset="0.3979" stop-color="#0000ca"/><stop offset="1" stop-color="#0000c6"/></linearGradient>
<linearGradient id="b99" x1="0" y1="0" x2="0" y2="1"><stop offset="0" stop-color="#0000e0"/><stop offset="0.0796" stop-color="#0000c1"/><stop offset="0.1645" stop-color="#0000b7"/><stop offset="0.3979" stop-color="#0000c6"/><stop offset="1" stop-color="#0000c5"/></linearGradient>
<linearGradient id="b100" x1="0" y1="0" x2="0" y2="1"><stop offset="0" stop-color="#0000d3"/><stop offset="0.0796" stop-color="#0000b6"/><stop offset="0.1592" stop-color="#0000b0"/><stop offset="0.4058" stop-color="#0000c3"/><stop offset="0.5836" stop-color="#0000c6"/><stop offset="1" stop-color="#0000c4"/></linearGradient>
<linearGradient id="b101" x1="0" y1="0" x2="0" y2="1"><stop offset="0" stop-color="#0000c6"/><stop offset="0.0796" stop-color="#0000ad"/><stop offset="0.1565" stop-color="#0000aa"/><stop offset="0.4244" stop-color="#0000c1"/><stop offset="0.5836" stop-color="#0000c5"/><stop offset="1" stop-color="#0000c3"/></linearGradient>
<linearGradient id="b102" x1="0" y1="0" x2="0" y2="1"><stop offset="0" stop-color="#0000bb"/><stop offset="0.0796" stop-color="#0000a6"/><stop offset="0.1194" stop-color="#0000a5"/><stop offset="0.2016" stop-color="#0000a7"/><stop offset="0.4244" stop-color="#0000be"/><stop offset="0.5836" stop-color="#0000c3"/><stop offset="1" stop-color="#0000c2"/></linearGradient>
<linearGradient id="b103" x1="0" y1="0" x2="0" y2="1"><stop offset="0" stop-color="#0000b1"/><stop offset="0.0796" stop-color="#0000a1"/><stop offset="0.1167" stop-color="#0000a0"/><stop offset="0.2175" stop-color="#0000a5"/><stop offset="0.3979" stop-color="#0000b9"/><stop offset="0.5836" stop-color="#0000c2"/><stop offset="1" stop-color="#0000c1"/></linearGradient>
<linearGradient id="b104" x1="0" y1="0" x2="0" y2="1"><stop offset="0" stop-color="#0000a9"/><stop offset="0.0796" stop-color="#00009d"/><stop offset="0.1194" stop-color="#00009d"/><stop offset="0.2361" stop-color="#0000a4"/><stop offset="0.4244" stop-color="#0000b8"/><stop offset="0.5836" stop-color="#0000c0"/><stop offset="1" stop-color="#0000c0"/></linearGradient>
<linearGradient id="b105" x1="0" y1="0" x2="0" y2="1"><stop offset="0" stop-color="#0000a3"/><stop offset="0.0796" stop-color="#00009b"/><stop offset="0.1777" stop-color="#00009d"/><stop offset="0.4244" stop-color="#0000b6"/><stop offset="0.5836" stop-color="#0000bf"/><stop offset="1" stop-color="#0000bf"/></linearGradient>
<linearGradient id="b106" x1="0" y1="0" x2="0" y2="1"><stop offset="0" stop-color="#00009f"/><stop offset="0.0796" stop-color="#000099"/><stop offset="0.1857" stop-color="#00009c"/><stop offset="0.4244" stop-color="#0000b3"/><stop offset="0.5836" stop-color="#0000be"/><stop offset="1" stop-color="#0000bd"/></linearGradient>
<linearGradient id="b107" x1="0" y1="0" x2="0" y2="1"><stop offset="0" stop-color="#00009c"/><stop offset="0.0796" stop-color="#000098"/><stop offset="0.1857" stop-color="#00009a"/><stop offset="0.4244" stop-color="#0000b2"/><stop offset="0.5836" stop-color="#0000bd"/><stop offset="1" stop-color="#0000bc"/></linearGradient>
<linearGradient id="b108" x1="0" y1="0" x2="0" y2="1"><stop offset="0" stop-color="#000099"/><stop offset="0.1857" stop-color="#000099"/><stop offset="0.5836" stop-color="#0000bc"/><stop offset="1" stop-color="#0000bb"/></linearGradient>
<linearGradient id="b109" x1="0" y1="0" x2="0" y2="1"><stop offset="0" stop-color="#000098"/><stop offset="0.1857" stop-color="#000099"/><stop offset="0.5836" stop-color="#0000bc"/><stop offset="1" stop-color="#0000b9"/></linearGradient>
<linearGradient id="b110" x1="0" y1="0" x2="0" y2="1"><stop offset="0" stop-color="#000097"/><stop offset="0.1857" stop-color="#000098"/><stop offset="0.3448" stop-color="#0000a9"/><stop offset="0.5836" stop-color="#0000bb"/><stop offset="1" stop-color="#0000b8"/></linearGradient>
<linearGradient id="b111" x1="0" y1="0" x2="0" y2="1"><stop offset="0" stop-color="#000097"/><stop offset="0.1857" stop-color="#000098"/><stop offset="0.3448" stop-color="#0000a8"/><stop offset="0.5836" stop-color="#0000ba"/><stop offset="1" stop-color="#0000b6"/></linearGradient>
<linearGradient id="b112" x1="0" y1="0" x2="0" y2="1"><stop offset="0" stop-color="#000096"/><stop offset="0.1857" stop-color="#000097"/><stop offset="0.3448" stop-color="#0000a7"/><stop offset="0.5836" stop-color="#0000b7"/><stop offset="1" stop-color="#0000b3"/></linearGradient>
<linearGradient id="b113" x1="0" y1="0" x2="0" y2="1"><stop offset="0" stop-color="#000096"/><stop offset="0.1857" stop-color="#000097"/><stop offset="0.5836" stop-color="#0000b3"/><stop offset="1" stop-color="#0000b0"/></linearGradient>
<linearGradient id="b114" x1="0" y1="0" x2="0" y2="1"><stop offset="0" stop-color="#000096"/><stop offset="0.1857" stop-color="#000097"/><stop offset="0.5836" stop-color="#0000ae"/><stop offset="1" stop-color="#0000ac"/></linearGradient>
<linearGradient id="b115" x1="0" y1="0" x2="0" y2="1"><stop offset="0" stop-color="#000096"/><stop offset="0.1857" stop-color="#000097"/><stop offset="0.5836" stop-color="#0000a9"/><stop offset="1" stop-color="#0000a8"/></linearGradient>
<linearGradient id="b116" x1="0" y1="0" x2="0" y2="1"><stop offset="0" stop-color="#000096"/><stop offset="0.1989" stop-color="#000097"/><stop offset="0.5836" stop-color="#0000a5"/><stop offset="1" stop-color="#0000a5"/></linearGradient>
<linearGradient id="b117" x1="0" y1="0" x2="0" y2="1"><stop offset="0" stop-color="#000096"/><stop offset="0.2706" stop-color="#000098"/><stop offset="0.5836" stop-color="#0000a2"/><stop offset="1" stop-color="#0000a3"/></linearGradient>
<linearGradient id="b118" x1="0" y1="0" x2="0" y2="1"><stop offset="0" stop-color="#000096"/><stop offset="0.2971" stop-color="#000098"/><stop offset="0.5836" stop-color="#00009f"/><stop offset="1" stop-color="#0000a1"/></linearGradient>
<linearGradient id="b119" x1="0" y1="0" x2="0" y2="1"><stop offset="0" stop-color="#000096"/><stop offset="1" stop-color="#00009f"/></linearGradient>
<linearGradient id="b120" x1="0" y1="0" x2="0" y2="1"><stop offset="0" stop-color="#000096"/><stop offset="1" stop-color="#00009e"/></linearGradient>
<linearGradient id="b121" x1="0" y1="0" x2="0" y2="1"><stop offset="0" stop-color="#000096"/><stop offset="1" stop-color="#00009d"/></linearGradient>
<linearGradient id="b122" x1="0" y1="0" x2="0" y2="1"><stop offset="0" stop-color="#000096"/><stop offset="1" stop-color="#00009c"/></linearGradient>
<linearGradient id="b123" x1="0" y1="0" x2="0" y2="1"><stop offset="0" stop-color="#000096"/><stop offset="1" stop-color="#00009b"/></linearGradient>
<linearGradient id="b124" x1="0" y1="0" x2="0" y2="1"><stop offset="0" stop-color="#000096"/><stop offset="1" stop-color="#00009b"/></linearGradient>
<linearGradient id="b125" x1="0" y1="0" x2="0" y2="1"><stop offset="0" stop-color="#000096"/><stop offset="1" stop-color="#00009a"/></linearGradient>
<linearGradient id="b126" x1="0" y1="0" x2="0" y2="1"><stop offset="0" stop-color="#000096"/><stop offset="1" stop-color="#00009a"/></linearGradient>
<linearGradient id="b127" x1="0" y1="0" x2="0" y2="1"><stop offset="0" stop-color="#000096"/><stop offset="1" stop-color="#00009a"/></linearGradient>
<linearGradient id="b128" x1="0" y1="0" x2="0" y2="1"><stop offset="0" stop-color="#000096"/><stop offset="1" stop-color="#00009a"/></linearGradient>
<linearGradient id="b129" x1="0" y1="0" x2="0" y2="1"><stop offset="0" stop-color="#000096"/><stop offset="1" stop-color="#00009a"/></linearGradient>
<linearGradient id="b130" x1="0" y1="0" x2="0" y2="1"><stop offset="0" stop-color="#000096"/><stop offset="1" stop-color="#000099"/></linearGradient>
<linearGradient id="b131" x1="0" y1="0" x2="0" y2="1"><stop offset="0" stop-color="#000096"/><stop offset="1" stop-color="#000099"/></linearGradient>
<linearGradient id="b132" x1="0" y1="0" x2="0" y2="1"><stop offset="0" stop-color="#000096"/><stop offset="1" stop-color="#000099"/></linearGradient>
<linearGradient id="b133" x1="0" y1="0" x2="0" y2="1"><stop offset="0" stop-color="#000096"/><stop offset="1" stop-color="#000099"/></linearGradient>
<linearGradient id="b134" x1="0" y1="0" x2="0" y2="1"><stop offset="0" stop-color="#000096"/><stop offset="1" stop-color="#000099"/></linearGradient>
<linearGradient id="b135" x1="0" y1="0" x2="0" y2="1"><stop offset="0" stop-color="#000096"/><stop offset="1" stop-color="#000099"/></linearGradient>
<linearGradient id="ae0" x1="0" y1="0" x2="0" y2="1"><stop offset="0" stop-color="#000096"/><stop offset="1" stop-color="#000099"/></linearGradient>
<linearGradient id="ae1" x1="0" y1="0" x2="0" y2="1"><stop offset="0" stop-color="#000096"/><stop offset="1" stop-color="#000099"/></linearGradient>
<linearGradient id="ae2" x1="0" y1="0" x2="0" y2="1"><stop offset="0" stop-color="#000096"/><stop offset="1" stop-color="#000099"/></linearGradient>
<linearGradient id="ae3" x1="0" y1="0" x2="0" y2="1"><stop offset="0" stop-color="#000096"/><stop offset="1" stop-color="#000099"/></linearGradient>
<linearGradient id="ae4" x1="0" y1="0" x2="0" y2="1"><stop offset="0" stop-color="#000096"/><stop offset="1" stop-color="#000099"/></linearGradient>
<linearGradient id="ae5" x1="0" y1="0" x2="0" y2="1"><stop offset="0" stop-color="#000096"/><stop offset="1" stop-color="#000099"/></linearGradient>
<linearGradient id="ae6" x1="0" y1="0" x2="0" y2="1"><stop offset="0" stop-color="#000096"/><stop offset="1" stop-color="#000099"/></linearGradient>
<linearGradient id="ae7" x1="0" y1="0" x2="0" y2="1"><stop offset="0" stop-color="#000096"/><stop offset="1" stop-color="#000099"/></linearGradient>
<linearGradient id="ae8" x1="0" y1="0" x2="0" y2="1"><stop offset="0" stop-color="#000096"/><stop offset="1" stop-color="#00009a"/></linearGradient>
<linearGradient id="ae9" x1="0" y1="0" x2="0" y2="1"><stop offset="0" stop-color="#000096"/><stop offset="1" stop-color="#00009a"/></linearGradient>
<linearGradient id="ae10" x1="0" y1="0" x2="0" y2="1"><stop offset="0" stop-color="#000096"/><stop offset="1" stop-color="#00009a"/></linearGradient>
<linearGradient id="ae11" x1="0" y1="0" x2="0" y2="1"><stop offset="0" stop-color="#000096"/><stop offset="1" stop-color="#00009a"/></linearGradient>
<linearGradient id="ae12" x1="0" y1="0" x2="0" y2="1"><stop offset="0" stop-color="#000096"/><stop offset="1" stop-color="#00009a"/></linearGradient>
<linearGradient id="ae13" x1="0" y1="0" x2="0" y2="1"><stop offset="0" stop-color="#000096"/><stop offset="1" stop-color="#00009b"/></linearGradient>
<linearGradient id="ae14" x1="0" y1="0" x2="0" y2="1"><stop offset="0" stop-color="#000096"/><stop offset="1" stop-color="#00009b"/></linearGradient>
<linearGradient id="ae15" x1="0" y1="0" x2="0" y2="1"><stop offset="0" stop-color="#000096"/><stop offset="1" stop-color="#00009c"/></linearGradient>
<linearGradient id="ae16" x1="0" y1="0" x2="0" y2="1"><stop offset="0" stop-color="#000096"/><stop offset="1" stop-color="#00009c"/></linearGradient>
<linearGradient id="ae17" x1="0" y1="0" x2="0" y2="1"><stop offset="0" stop-color="#000096"/><stop offset="1" stop-color="#00009d"/></linearGradient>
<linearGradient id="ae18" x1="0" y1="0" x2="0" y2="1"><stop offset="0" stop-color="#000096"/><stop offset="1" stop-color="#00009e"/></linearGradient>
<linearGradient id="ae19" x1="0" y1="0" x2="0" y2="1"><stop offset="0" stop-color="#000096"/><stop offset="1" stop-color="#00009e"/></linearGradient>
<linearGradient id="ae20" x1="0" y1="0" x2="0" y2="1"><stop offset="0" stop-color="#000096"/><stop offset="0.4668" stop-color="#000098"/><stop offset="1" stop-color="#00009f"/></linearGradient>
<linearGradient id="ae21" x1="0" y1="0" x2="0" y2="1"><stop offset="0" stop-color="#000096"/><stop offset="0.4589" stop-color="#000098"/><stop offset="1" stop-color="#0000a0"/></linearGradient>
<linearGradient id="ae22" x1="0" y1="0" x2="0" y2="1"><stop offset="0" stop-color="#000096"/><stop offset="0.4483" stop-color="#000098"/><stop offset="1" stop-color="#0000a1"/></linearGradient>
<linearGradient id="ae23" x1="0" y1="0" x2="0" y2="1"><stop offset="0" stop-color="#000096"/><stop offset="0.4377" stop-color="#000098"/><stop offset="1" stop-color="#0000a2"/></linearGradient>
<linearGradient id="ae24" x1="0" y1="0" x2="0" y2="1"><stop offset="0" stop-color="#000096"/><stop offset="0.4244" stop-color="#000098"/><stop offset="1" stop-color="#0000a2"/></linearGradient>
<linearGradient id="ae25" x1="0" y1="0" x2="0" y2="1"><stop offset="0" stop-color="#000096"/><stop offset="0.4111" stop-color="#000098"/><stop offset="1" stop-color="#0000a3"/></linearGradient>
<linearGradient id="ae26" x1="0" y1="0" x2="0" y2="1"><stop offset="0" stop-color="#000096"/><stop offset="0.3846" stop-color="#000098"/><stop offset="1" stop-color="#0000a4"/></linearGradient>
<linearGradient id="ae27" x1="0" y1="0" x2="0" y2="1"><stop offset="0" stop-color="#000096"/><stop offset="0.3714" stop-color="#000098"/><stop offset="1" stop-color="#0000a4"/></linearGradient>
<linearGradient id="ae28" x1="0" y1="0" x2="0" y2="1"><stop offset="0" stop-color="#000096"/><stop offset="0.3289" stop-color="#000097"/><stop offset="1" stop-color="#0000a5"/></linearGradient>
<linearGradient id="ae29" x1="0" y1="0" x2="0" y2="1"><stop offset="0" stop-color="#000096"/><stop offset="0.3183" stop-color="#000097"/><stop offset="1" stop-color="#0000a6"/></linearGradient>
<linearGradient id="ae30" x1="0" y1="0" x2="0" y2="1"><stop offset="0" stop-color="#000096"/><stop offset="0.3103" stop-color="#000097"/><stop offset="0.5836" stop-color="#0000a0"/><stop offset="1" stop-color="#0000a6"/></linearGradient>
<linearGradient id="ae31" x1="0" y1="0" x2="0" y2="1"><stop offset="0" stop-color="#000096"/><stop offset="0.2997" stop-color="#000097"/><stop offset="0.5836" stop-color="#0000a1"/><stop offset="1" stop-color="#0000a6"/></linearGradient>
<linearGradient id="ae32" x1="0" y1="0" x2="0" y2="1"><stop offset="0" stop-color="#000096"/><stop offset="0.2891" stop-color="#000097"/><stop offset="0.5836" stop-color="#0000a1"/><stop offset="1" stop-color="#0000a7"/></linearGradient>
<linearGradient id="ae33" x1="0" y1="0" x2="0" y2="1"><stop offset="0" stop-color="#000096"/><stop offset="0.2812" stop-color="#000097"/><stop offset="0.5836" stop-color="#0000a2"/><stop offset="1" stop-color="#0000a7"/></linearGradient>
<linearGradient id="ae34" x1="0" y1="0" x2="0" y2="1"><stop offset="0" stop-color="#000096"/><stop offset="0.2706" stop-color="#000097"/><stop offset="0.5836" stop-color="#0000a3"/><stop offset="1" stop-color="#0000a7"/></linearGradient>
<linearGradient id="ae35" x1="0" y1="0" x2="0" y2="1"><stop offset="0" stop-color="#000096"/><stop offset="0.2546" stop-color="#000097"/><stop offset="0.5836" stop-color="#0000a3"/><stop offset="1" stop-color="#0000a7"/></linearGradient>
<linearGradient id="ae36" x1="0" y1="0" x2="0" y2="1"><stop offset="0" stop-color="#000096"/><stop offset="0.2626" stop-color="#000098"/><stop offset="0.5836" stop-color="#0000a3"/><stop offset="1" stop-color="#0000a7"/></linearGradient>
<linearGradient id="ae37" x1="0" y1="0" x2="0" y2="1"><stop offset="0" stop-color="#000096"/><stop offset="0.2546" stop-color="#000098"/><stop offset="0.5836" stop-color="#0000a4"/><stop offset="1" stop-color="#0000a7"/></linearGradient>
<linearGradient id="ae38" x1="0" y1="0" x2="0" y2="1"><stop offset="0" stop-color="#000096"/><stop offset="0.244" stop-color="#000098"/><stop offset="0.5836" stop-color="#0000a4"/><stop offset="1" stop-color="#0000a8"/></linearGradient>
<linearGradient id="ae39" x1="0" y1="0" x2="0" y2="1"><stop offset="0" stop-color="#000096"/><stop offset="0.2361" stop-color="#000098"/><stop offset="0.5836" stop-color="#0000a4"/><stop offset="1" stop-color="#0000a8"/></linearGradient>
<linearGradient id="ae40" x1="0" y1="0" x2="0" y2="1"><stop offset="0" stop-color="#000096"/><stop offset="0.2255" stop-color="#000098"/><stop offset="0.5836" stop-color="#0000a4"/><stop offset="1" stop-color="#0000a8"/></linearGradient>
<linearGradient id="ae41" x1="0" y1="0" x2="0" y2="1"><stop offset="0" stop-color="#000096"/><stop offset="0.2175" stop-color="#000098"/><stop offset="0.5836" stop-color="#0000a5"/><stop offset="1" stop-color="#0000a8"/></linearGradient>
<linearGradient id="ae42" x1="0" y1="0" x2="0" y2="1"><stop offset="0" stop-color="#000096"/><stop offset="0.2095" stop-color="#000098"/><stop offset="0.5809" stop-color="#0000a5"/><stop offset="1" stop-color="#0000a8"/></linearGradient>
<linearGradient id="ae43" x1="0" y1="0" x2="0" y2="1"><stop offset="0" stop-color="#000096"/><stop offset="0.2016" stop-color="#000098"/><stop offset="0.557" stop-color="#0000a4"/><stop offset="1" stop-color="#0000a8"/></linearGradient>
<linearGradient id="ae44" x1="0" y1="0" x2="0" y2="1"><stop offset="0" stop-color="#000096"/><stop offset="0.1963" stop-color="#000098"/><stop offset="0.4907" stop-color="#0000a3"/><stop offset="1" stop-color="#0000a8"/></linearGradient>
<linearGradient id="ae45" x1="0" y1="0" x2="0" y2="1"><stop offset="0" stop-color="#000096"/><stop offset="0.1883" stop-color="#000098"/><stop offset="0.4668" stop-color="#0000a3"/><stop offset="1" stop-color="#0000a8"/></linearGradient>
<linearGradient id="ae46" x1="0" y1="0" x2="0" y2="1"><stop offset="0" stop-color="#000096"/><stop offset="0.1804" stop-color="#000098"/><stop offset="0.443" stop-color="#0000a3"/><stop offset="1" stop-color="#0000a8"/></linearGradient>
<linearGradient id="ae47" x1="0" y1="0" x2="0" y2="1"><stop offset="0" stop-color="#000096"/><stop offset="0.1751" stop-color="#000098"/><stop offset="0.4191" stop-color="#0000a3"/><stop offset="1" stop-color="#0000a8"/></linearGradient>
<linearGradient id="ae48" x1="0" y1="0" x2="0" y2="1"><stop offset="0" stop-color="#000096"/><stop offset="0.1698" stop-color="#000098"/><stop offset="0.3979" stop-color="#0000a2"/><stop offset="1" stop-color="#0000a8"/></linearGradient>
<linearGradient id="ae49" x1="0" y1="0" x2="0" y2="1"><stop offset="0" stop-color="#000096"/><stop offset="0.1618" stop-color="#000098"/><stop offset="0.3979" stop-color="#0000a3"/><stop offset="1" stop-color="#0000a8"/></linearGradient>
<linearGradient id="ae50" x1="0" y1="0" x2="0" y2="1"><stop offset="0" stop-color="#000096"/><stop offset="0.1592" stop-color="#000098"/><stop offset="0.3979" stop-color="#0000a3"/><stop offset="1" stop-color="#0000a8"/></linearGradient>
<linearGradient id="ae51" x1="0" y1="0" x2="0" y2="1"><stop offset="0" stop-color="#000096"/><stop offset="0.1592" stop-color="#000098"/><stop offset="0.3979" stop-color="#0000a3"/><stop offset="1" stop-color="#0000a8"/></linearGradient>
<linearGradient id="ae52" x1="0" y1="0" x2="0" y2="1"><stop offset="0" stop-color="#000096"/><stop offset="0.1592" stop-color="#000098"/><stop offset="0.3979" stop-color="#0000a3"/><stop offset="1" stop-color="#0000a8"/></linearGradient>
<linearGradient id="ae53" x1="0" y1="0" x2="0" y2="1"><stop offset="0" stop-color="#000096"/><stop offset="0.1592" stop-color="#000099"/><stop offset="0.3979" stop-color="#0000a3"/><stop offset="1" stop-color="#0000a8"/></linearGradient>
<linearGradient id="ae54" x1="0" y1="0" x2="0" y2="1"><stop offset="0" stop-color="#000096"/><stop offset="0.1592" stop-color="#000099"/><stop offset="0.3979" stop-color="#0000a3"/><stop offset="1" stop-color="#0000a8"/></linearGradient>
<linearGradient id="ae55" x1="0" y1="0" x2="0" y2="1"><stop offset="0" stop-color="#000096"/><stop offset="0.3979" stop-color="#0000a3"/><stop offset="1" stop-color="#0000a8"/></linearGradient>
<linearGradient id="ae56" x1="0" y1="0" x2="0" y2="1"><stop offset="0" stop-color="#000096"/><stop offset="0.3979" stop-color="#0000a3"/><stop offset="1" stop-color="#0000a8"/></linearGradient>
<linearGradient id="ae57" x1="0" y1="0" x2="0" y2="1"><stop offset="0" stop-color="#000096"/><stop offset="0.3979" stop-color="#0000a3"/><stop offset="1" stop-color="#0000a8"/></linearGradient>
<linearGradient id="be0" x1="0" y1="0" x2="0" y2="1"><stop offset="0" stop-color="#000096"/><stop offset="1" stop-color="#000099"/></linearGradient>
<linearGradient id="be1" x1="0" y1="0" x2="0" y2="1"><stop offset="0" stop-color="#000096"/><stop offset="1" stop-color="#000099"/></linearGradient>
<linearGradient id="be2" x1="0" y1="0" x2="0" y2="1"><stop offset="0" stop-color="#000096"/><stop offset="1" stop-color="#000099"/></linearGradient>
<linearGradient id="be3" x1="0" y1="0" x2="0" y2="1"><stop offset="0" stop-color="#000096"/><stop offset="1" stop-color="#000099"/></linearGradient>
<linearGradient id="be4" x1="0" y1="0" x2="0" y2="1"><stop offset="0" stop-color="#000096"/><stop offset="1" stop-color="#000099"/></linearGradient>
<linearGradient id="be5" x1="0" y1="0" x2="0" y2="1"><stop offset="0" stop-color="#000096"/><stop offset="1" stop-color="#000099"/></linearGradient>
<linearGradient id="be6" x1="0" y1="0" x2="0" y2="1"><stop offset="0" stop-color="#000096"/><stop offset="1" stop-color="#000099"/></linearGradient>
<linearGradient id="be7" x1="0" y1="0" x2="0" y2="1"><stop offset="0" stop-color="#000096"/><stop offset="1" stop-color="#000099"/></linearGradient>
<linearGradient id="be8" x1="0" y1="0" x2="0" y2="1"><stop offset="0" stop-color="#000096"/><stop offset="1" stop-color="#000099"/></linearGradient>
<linearGradient id="be9" x1="0" y1="0" x2="0" y2="1"><stop offset="0" stop-color="#000096"/><stop offset="1" stop-color="#00009a"/></linearGradient>
<linearGradient id="be10" x1="0" y1="0" x2="0" y2="1"><stop offset="0" stop-color="#000096"/><stop offset="1" stop-color="#00009a"/></linearGradient>
<linearGradient id="be11" x1="0" y1="0" x2="0" y2="1"><stop offset="0" stop-color="#000096"/><stop offset="1" stop-color="#00009a"/></linearGradient>
<linearGradient id="be12" x1="0" y1="0" x2="0" y2="1"><stop offset="0" stop-color="#000096"/><stop offset="1" stop-color="#00009a"/></linearGradient>
<linearGradient id="be13" x1="0" y1="0" x2="0" y2="1"><stop offset="0" stop-color="#000096"/><stop offset="1" stop-color="#00009b"/></linearGradient>
<linearGradient id="be14" x1="0" y1="0" x2="0" y2="1"><stop offset="0" stop-color="#000096"/><stop offset="1" stop-color="#00009b"/></linearGradient>
<linearGradient id="be15" x1="0" y1="0" x2="0" y2="1"><stop offset="0" stop-color="#000096"/><stop offset="1" stop-color="#00009b"/></linearGradient>
<linearGradient id="be16" x1="0" y1="0" x2="0" y2="1"><stop offset="0" stop-color="#000096"/><stop offset="1" stop-color="#00009c"/></linearGradient>
<linearGradient id="be17" x1="0" y1="0" x2="0" y2="1"><stop offset="0" stop-color="#000096"/><stop offset="1" stop-color="#00009c"/></linearGradient>
<linearGradient id="be18" x1="0" y1="0" x2="0" y2="1"><stop offset="0" stop-color="#000096"/><stop offset="1" stop-color="#00009d"/></linearGradient>
<linearGradient id="be19" x1="0" y1="0" x2="0" y2="1"><stop offset="0" stop-color="#000096"/><stop offset="1" stop-color="#00009e"/></linearGradient>
<linearGradient id="be20" x1="0" y1="0" x2="0" y2="1"><stop offset="0" stop-color="#000096"/><stop offset="1" stop-color="#00009e"/></linearGradient>
<linearGradient id="be21" x1="0" y1="0" x2="0" y2="1"><stop offset="0" stop-color="#000096"/><stop offset="0.4536" stop-color="#000098"/><stop offset="1" stop-color="#00009f"/></linearGradient>
<linearGradient id="be22" x1="0" y1="0" x2="0" y2="1"><stop offset="0" stop-color="#000096"/><stop offset="0.443" stop-color="#000098"/><stop offset="1" stop-color="#0000a0"/></linearGradient>
<linearGradient id="be23" x1="0" y1="0" x2="0" y2="1"><stop offset="0" stop-color="#000096"/><stop offset="0.4324" stop-color="#000098"/><stop offset="1" stop-color="#0000a0"/></linearGradient>
<linearGradient id="be24" x1="0" y1="0" x2="0" y2="1"><stop offset="0" stop-color="#000096"/><stop offset="0.4218" stop-color="#000098"/><stop offset="1" stop-color="#0000a1"/></linearGradient>
<linearGradient id="be25" x1="0" y1="0" x2="0" y2="1"><stop offset="0" stop-color="#000096"/><stop offset="0.4085" stop-color="#000098"/><stop offset="1" stop-color="#0000a2"/></linearGradient>
<linearGradient id="be26" x1="0" y1="0" x2="0" y2="1"><stop offset="0" stop-color="#000096"/><stop offset="0.382" stop-color="#000098"/><stop offset="1" stop-color="#0000a2"/></linearGradient>
<linearGradient id="be27" x1="0" y1="0" x2="0" y2="1"><stop offset="0" stop-color="#000096"/><stop offset="0.3687" stop-color="#000098"/><stop offset="1" stop-color="#0000a3"/></linearGradient>
<linearGradient id="be28" x1="0" y1="0" x2="0" y2="1"><stop offset="0" stop-color="#000096"/><stop offset="0.3263" stop-color="#000097"/><stop offset="1" stop-color="#0000a3"/></linearGradient>
<linearGradient id="be29" x1="0" y1="0" x2="0" y2="1"><stop offset="0" stop-color="#000096"/><stop offset="0.3156" stop-color="#000097"/><stop offset="1" stop-color="#0000a4"/></linearGradient>
<linearGradient id="be30" x1="0" y1="0" x2="0" y2="1"><stop offset="0" stop-color="#000096"/><stop offset="0.3077" stop-color="#000097"/><stop offset="0.5836" stop-color="#00009f"/><stop offset="1" stop-color="#0000a4"/></linearGradient>
<linearGradient id="be31" x1="0" y1="0" x2="0" y2="1"><stop offset="0" stop-color="#000096"/><stop offset="0.2971" stop-color="#000097"/><stop offset="0.5836" stop-color="#0000a0"/><stop offset="1" stop-color="#0000a4"/></linearGradient>
<linearGradient id="be32" x1="0" y1="0" x2="0" y2="1"><stop offset="0" stop-color="#000096"/><stop offset="0.2865" stop-color="#000097"/><stop offset="0.5836" stop-color="#0000a1"/><stop offset="1" stop-color="#0000a5"/></linearGradient>
<linearGradient id="be33" x1="0" y1="0" x2="0" y2="1"><stop offset="0" stop-color="#000096"/><stop offset="0.2759" stop-color="#000097"/><stop offset="0.5836" stop-color="#0000a1"/><stop offset="1" stop-color="#0000a5"/></linearGradient>
<linearGradient id="be34" x1="0" y1="0" x2="0" y2="1"><stop offset="0" stop-color="#000096"/><stop offset="0.2599" stop-color="#000097"/><stop offset="0.5836" stop-color="#0000a1"/><stop offset="1" stop-color="#0000a5"/></linearGradient>
<linearGradient id="be35" x1="0" y1="0" x2="0" y2="1"><stop offset="0" stop-color="#000096"/><stop offset="0.2759" stop-color="#000098"/><stop offset="0.5836" stop-color="#0000a2"/><stop offset="1" stop-color="#0000a5"/></linearGradient>
<linearGradient id="be36" x1="0" y1="0" x2="0" y2="1"><stop offset="0" stop-color="#000096"/><stop offset="0.2599" stop-color="#000098"/><stop offset="0.5836" stop-color="#0000a2"/><stop offset="1" stop-color="#0000a5"/></linearGradient>
<linearGradient id="be37" x1="0" y1="0" x2="0" y2="1"><stop offset="0" stop-color="#000096"/><stop offset="0.252" stop-color="#000098"/><stop offset="0.5836" stop-color="#0000a3"/><stop offset="1" stop-color="#0000a5"/></linearGradient>
<linearGradient id="be38" x1="0" y1="0" x2="0" y2="1"><stop offset="0" stop-color="#000096"/><stop offset="0.244" stop-color="#000098"/><stop offset="0.5836" stop-color="#0000a3"/><stop offset="1" stop-color="#0000a5"/></linearGradient>
<linearGradient id="be39" x1="0" y1="0" x2="0" y2="1"><stop offset="0" stop-color="#000096"/><stop offset="0.2334" stop-color="#000098"/><stop offset="0.5836" stop-color="#0000a3"/><stop offset="1" stop-color="#0000a5"/></linearGradient>
<linearGradient id="be40" x1="0" y1="0" x2="0" y2="1"><stop offset="0" stop-color="#000096"/><stop offset="0.2255" stop-color="#000098"/><stop offset="0.5836" stop-color="#0000a3"/><stop offset="1" stop-color="#0000a6"/></linearGradient>
<linearGradient id="be41" x1="0" y1="0" x2="0" y2="1"><stop offset="0" stop-color="#000096"/><stop offset="0.2149" stop-color="#000098"/><stop offset="0.5836" stop-color="#0000a3"/><stop offset="1" stop-color="#0000a6"/></linearGradient>
<linearGradient id="be42" x1="0" y1="0" x2="0" y2="1"><stop offset="0" stop-color="#000096"/><stop offset="0.2069" stop-color="#000098"/><stop offset="0.5836" stop-color="#0000a3"/><stop offset="1" stop-color="#0000a6"/></linearGradient>
<linearGradient id="be43" x1="0" y1="0" x2="0" y2="1"><stop offset="0" stop-color="#000096"/><stop offset="0.1989" stop-color="#000098"/><stop offset="0.5623" stop-color="#0000a3"/><stop offset="1" stop-color="#0000a6"/></linearGradient>
<linearGradient id="be44" x1="0" y1="0" x2="0" y2="1"><stop offset="0" stop-color="#000096"/><stop offset="0.1936" stop-color="#000098"/><stop offset="0.4934" stop-color="#0000a2"/><stop offset="1" stop-color="#0000a6"/></linearGradient>
<linearGradient id="be45" x1="0" y1="0" x2="0" y2="1"><stop offset="0" stop-color="#000096"/><stop offset="0.1857" stop-color="#000098"/><stop offset="0.4695" stop-color="#0000a2"/><stop offset="1" stop-color="#0000a6"/></linearGradient>
<linearGradient id="be46" x1="0" y1="0" x2="0" y2="1"><stop offset="0" stop-color="#000096"/><stop offset="0.1804" stop-color="#000098"/><stop offset="0.4456" stop-color="#0000a2"/><stop offset="1" stop-color="#0000a6"/></linearGradient>
<linearGradient id="be47" x1="0" y1="0" x2="0" y2="1"><stop offset="0" stop-color="#000096"/><stop offset="0.1724" stop-color="#000098"/><stop offset="0.4218" stop-color="#0000a2"/><stop offset="1" stop-color="#0000a6"/></linearGradient>
<linearGradient id="be48" x1="0" y1="0" x2="0" y2="1"><stop offset="0" stop-color="#000096"/><stop offset="0.1671" stop-color="#000098"/><stop offset="0.3979" stop-color="#0000a1"/><stop offset="1" stop-color="#0000a6"/></linearGradient>
<linearGradient id="be49" x1="0" y1="0" x2="0" y2="1"><stop offset="0" stop-color="#000096"/><stop offset="0.1592" stop-color="#000098"/><stop offset="0.3979" stop-color="#0000a2"/><stop offset="1" stop-color="#0000a6"/></linearGradient>
<linearGradient id="be50" x1="0" y1="0" x2="0" y2="1"><stop offset="0" stop-color="#000096"/><stop offset="0.1592" stop-color="#000098"/><stop offset="0.3979" stop-color="#0000a2"/><stop offset="1" stop-color="#0000a6"/></linearGradient>
<linearGradient id="be51" x1="0" y1="0" x2="0" y2="1"><stop offset="0" stop-color="#000096"/><stop offset="0.1592" stop-color="#000098"/><stop offset="0.3979" stop-color="#0000a2"/><stop offset="1" stop-color="#0000a6"/></linearGradient>
<linearGradient id="be52" x1="0" y1="0" x2="0" y2="1"><stop offset="0" stop-color="#000096"/><stop offset="0.3979" stop-color="#0000a2"/><stop offset="1" stop-color="#0000a6"/></linearGradient>
<linearGradient id="be53" x1="0" y1="0" x2="0" y2="1"><stop offset="0" stop-color="#000096"/><stop offset="0.3979" stop-color="#0000a2"/><stop offset="1" stop-color="#0000a6"/></linearGradient>
<linearGradient id="be54" x1="0" y1="0" x2="0" y2="1"><stop offset="0" stop-color="#000096"/><stop offset="0.3979" stop-color="#0000a2"/><stop offset="1" stop-color="#0000a6"/></linearGradient>
<linearGradient id="be55" x1="0" y1="0" x2="0" y2="1"><stop offset="0" stop-color="#000096"/><stop offset="0.3979" stop-color="#0000a2"/><stop offset="1" stop-color="#0000a6"/></linearGradient>
<linearGradient id="be56" x1="0" y1="0" x2="0" y2="1"><stop offset="0" stop-color="#000096"/><stop offset="0.3979" stop-color="#0000a2"/><stop offset="1" stop-color="#0000a6"/></linearGradient>
<linearGradient id="be57" x1="0" y1="0" x2="0" y2="1"><stop offset="0" stop-color="#000096"/><stop offset="0.3979" stop-color="#0000a2"/><stop offset="1" stop-color="#0000a6"/></linearGradient>
<g id="a"><rect x="0" y="0" width="1.6" height="377" fill="url(#a0)"/><rect x="1" y="0" width="1.6" height="377" fill="url(#a1)"/><rect x="2" y="0" width="1.6" height="377" fill="url(#a2)"/><rect x="3" y="0" width="1.6" height="377" fill="url(#a3)"/><rect x="4" y="0" width="1.6" height="377" fill="url(#a4)"/><rect x="5" y="0" width="1.6" height="377" fill="url(#a5)"/><rect x="6" y="0" width="1.6" height="377" fill="url(#a6)"/><rect x="7" y="0" width="1.6" height="377" fill="url(#a7)"/><rect x="8" y="0" width="1.6" height="377" fill="url(#a8)"/><rect x="9" y="0" width="1.6" height="377" fill="url(#a9)"/><rect x="10" y="0" width="1.6" height="377" fill="url(#a10)"/><rect x="11" y="0" width="1.6" height="377" fill="url(#a11)"/><rect x="12" y="0" width="1.6" height="377" fill="url(#a12)"/><rect x="13" y="0" width="1.6" height="377" fill="url(#a13)"/><rect x="14" y="0" width="1.6" height="377" fill="url(#a14)"/><rect x="15" y="0" width="1.6" height="377" fill="url(#a15)"/><rect x="16" y="0" width="1.6" height="377" fill="url(#a16)"/><rect x="17" y="0" width="1.6" height="377" fill="url(#a17)"/><rect x="18" y="0" width="1.6" height="377" fill="url(#a18)"/><rect x="19" y="0" width="1.6" height="377" fill="url(#a19)"/><rect x="20" y="0" width="1.6" height="377" fill="url(#a20)"/><rect x="21" y="0" width="1.6" height="377" fill="url(#a21)"/><rect x="22" y="0" width="1.6" height="377" fill="url(#a22)"/><rect x="23" y="0" width="1.6" height="377" fill="url(#a23)"/><rect x="24" y="0" width="1.6" height="377" fill="url(#a24)"/><rect x="25" y="0" width="1.6" height="377" fill="url(#a25)"/><rect x="26" y="0" width="1.6" height="377" fill="url(#a26)"/><rect x="27" y="0" width="1.6" height="377" fill="url(#a27)"/><rect x="28" y="0" width="1.6" height="377" fill="url(#a28)"/><rect x="29" y="0" width="1.6" height="377" fill="url(#a29)"/><rect x="30" y="0" width="1.6" height="377" fill="url(#a30)"/><rect x="31" y="0" width="1.6" height="377" fill="url(#a31)"/><rect x="32" y="0" width="1.6" height="377" fill="url(#a32)"/><rect x="33" y="0" width="1.6" height="377" fill="url(#a33)"/><rect x="34" y="0" width="1.6" height="377" fill="url(#a34)"/><rect x="35" y="0" width="1.6" height="377" fill="url(#a35)"/><rect x="36" y="0" width="1.6" height="377" fill="url(#a36)"/><rect x="37" y="0" width="1.6" height="377" fill="url(#a37)"/><rect x="38" y="0" width="1.6" height="377" fill="url(#a38)"/><rect x="39" y="0" width="1.6" height="377" fill="url(#a39)"/><rect x="40" y="0" width="1.6" height="377" fill="url(#a40)"/><rect x="41" y="0" width="1.6" height="377" fill="url(#a41)"/><rect x="42" y="0" width="1.6" height="377" fill="url(#a42)"/><rect x="43" y="0" width="1.6" height="377" fill="url(#a43)"/><rect x="44" y="0" width="1.6" height="377" fill="url(#a44)"/><rect x="45" y="0" width="1.6" height="377" fill="url(#a45)"/><rect x="46" y="0" width="1.6" height="377" fill="url(#a46)"/><rect x="47" y="0" width="1.6" height="377" fill="url(#a47)"/><rect x="48" y="0" width="1.6" height="377" fill="url(#a48)"/><rect x="49" y="0" width="1.6" height="377" fill="url(#a49)"/><rect x="50" y="0" width="1.6" height="377" fill="url(#a50)"/><rect x="51" y="0" width="1.6" height="377" fill="url(#a51)"/><rect x="52" y="0" width="1.6" height="377" fill="url(#a52)"/><rect x="53" y="0" width="1.6" height="377" fill="url(#a53)"/><rect x="54" y="0" width="1.6" height="377" fill="url(#a54)"/><rect x="55" y="0" width="1.6" height="377" fill="url(#a55)"/><rect x="56" y="0" width="1.6" height="377" fill="url(#a56)"/><rect x="57" y="0" width="1.6" height="377" fill="url(#a57)"/><rect x="58" y="0" width="1.6" height="377" fill="url(#a58)"/><rect x="59" y="0" width="1.6" height="377" fill="url(#a59)"/><rect x="60" y="0" width="1.6" height="377" fill="url(#a60)"/><rect x="61" y="0" width="1.6" height="377" fill="url(#a61)"/><rect x="62" y="0" width="1.6" height="377" fill="url(#a62)"/><rect x="63" y="0" width="1.6" height="377" fill="url(#a63)"/><rect x="64" y="0" width="1.6" height="377" fill="url(#a64)"/><rect x="65" y="0" width="1.6" height="377" fill="url(#a65)"/><rect x="66" y="0" width="1.6" height="377" fill="url(#a66)"/><rect x="67" y="0" width="1.6" height="377" fill="url(#a67)"/><rect x="68" y="0" width="1.6" height="377" fill="url(#a68)"/><rect x="69" y="0" width="1.6" height="377" fill="url(#a69)"/><rect x="70" y="0" width="1.6" height="377" fill="url(#a70)"/><rect x="71" y="0" width="1.6" height="377" fill="url(#a71)"/><rect x="72" y="0" width="1.6" height="377" fill="url(#a72)"/><rect x="73" y="0" width="1.6" height="377" fill="url(#a73)"/><rect x="74" y="0" width="1.6" height="377" fill="url(#a74)"/><rect x="75" y="0" width="1.6" height="377" fill="url(#a75)"/><rect x="76" y="0" width="1.6" height="377" fill="url(#a76)"/><rect x="77" y="0" width="1.6" height="377" fill="url(#a77)"/><rect x="78" y="0" width="1.6" height="377" fill="url(#a78)"/><rect x="79" y="0" width="1.6" height="377" fill="url(#a79)"/><rect x="80" y="0" width="1.6" height="377" fill="url(#a80)"/><rect x="81" y="0" width="1.6" height="377" fill="url(#a81)"/><rect x="82" y="0" width="1.6" height="377" fill="url(#a82)"/><rect x="83" y="0" width="1.6" height="377" fill="url(#a83)"/><rect x="84" y="0" width="1.6" height="377" fill="url(#a84)"/><rect x="85" y="0" width="1.6" height="377" fill="url(#a85)"/><rect x="86" y="0" width="1.6" height="377" fill="url(#a86)"/><rect x="87" y="0" width="1.6" height="377" fill="url(#a87)"/><rect x="88" y="0" width="1.6" height="377" fill="url(#a88)"/><rect x="89" y="0" width="1.6" height="377" fill="url(#a89)"/><rect x="90" y="0" width="1.6" height="377" fill="url(#a90)"/><rect x="91" y="0" width="1.6" height="377" fill="url(#a91)"/><rect x="92" y="0" width="1.6" height="377" fill="url(#a92)"/><rect x="93" y="0" width="1.6" height="377" fill="url(#a93)"/><rect x="94" y="0" width="1.6" height="377" fill="url(#a94)"/><rect x="95" y="0" width="1.6" height="377" fill="url(#a95)"/><rect x="96" y="0" width="1.6" height="377" fill="url(#a96)"/><rect x="97" y="0" width="1.6" height="377" fill="url(#a97)"/><rect x="98" y="0" width="1.6" height="377" fill="url(#a98)"/><rect x="99" y="0" width="1.6" height="377" fill="url(#a99)"/><rect x="100" y="0" width="1.6" height="377" fill="url(#a100)"/><rect x="101" y="0" width="1.6" height="377" fill="url(#a101)"/><rect x="102" y="0" width="1.6" height="377" fill="url(#a102)"/><rect x="103" y="0" width="1.6" height="377" fill="url(#a103)"/><rect x="104" y="0" width="1.6" height="377" fill="url(#a104)"/><rect x="105" y="0" width="1.6" height="377" fill="url(#a105)"/><rect x="106" y="0" width="1.6" height="377" fill="url(#a106)"/><rect x="107" y="0" width="1.6" height="377" fill="url(#a107)"/><rect x="108" y="0" width="1.6" height="377" fill="url(#a108)"/><rect x="109" y="0" width="1.6" height="377" fill="url(#a109)"/><rect x="110" y="0" width="1.6" height="377" fill="url(#a110)"/><rect x="111" y="0" width="1.6" height="377" fill="url(#a111)"/><rect x="112" y="0" width="1.6" height="377" fill="url(#a112)"/><rect x="113" y="0" width="1.6" height="377" fill="url(#a113)"/><rect x="114" y="0" width="1.6" height="377" fill="url(#a114)"/><rect x="115" y="0" width="1.6" height="377" fill="url(#a115)"/><rect x="116" y="0" width="1.6" height="377" fill="url(#a116)"/><rect x="117" y="0" width="1.6" height="377" fill="url(#a117)"/><rect x="118" y="0" width="1.6" height="377" fill="url(#a118)"/><rect x="119" y="0" width="1.6" height="377" fill="url(#a119)"/><rect x="120" y="0" width="1.6" height="377" fill="url(#a120)"/><rect x="121" y="0" width="1.6" height="377" fill="url(#a121)"/><rect x="122" y="0" width="1.6" height="377" fill="url(#a122)"/><rect x="123" y="0" width="1.6" height="377" fill="url(#a123)"/><rect x="124" y="0" width="1.6" height="377" fill="url(#a124)"/><rect x="125" y="0" width="1.6" height="377" fill="url(#a125)"/><rect x="126" y="0" width="1.6" height="377" fill="url(#a126)"/><rect x="127" y="0" width="1.6" height="377" fill="url(#a127)"/><rect x="128" y="0" width="1.6" height="377" fill="url(#a128)"/><rect x="129" y="0" width="1.6" height="377" fill="url(#a129)"/><rect x="130" y="0" width="1.6" height="377" fill="url(#a130)"/><rect x="131" y="0" width="1.6" height="377" fill="url(#a131)"/><rect x="132" y="0" width="1.6" height="377" fill="url(#a132)"/><rect x="133" y="0" width="1.6" height="377" fill="url(#a133)"/><rect x="134" y="0" width="1.6" height="377" fill="url(#a134)"/><rect x="135" y="0" width="1.6" height="377" fill="url(#a135)"/></g>
<g id="b"><rect x="0" y="0" width="1.6" height="377" fill="url(#b0)"/><rect x="1" y="0" width="1.6" height="377" fill="url(#b1)"/><rect x="2" y="0" width="1.6" height="377" fill="url(#b2)"/><rect x="3" y="0" width="1.6" height="377" fill="url(#b3)"/><rect x="4" y="0" width="1.6" height="377" fill="url(#b4)"/><rect x="5" y="0" width="1.6" height="377" fill="url(#b5)"/><rect x="6" y="0" width="1.6" height="377" fill="url(#b6)"/><rect x="7" y="0" width="1.6" height="377" fill="url(#b7)"/><rect x="8" y="0" width="1.6" height="377" fill="url(#b8)"/><rect x="9" y="0" width="1.6" height="377" fill="url(#b9)"/><rect x="10" y="0" width="1.6" height="377" fill="url(#b10)"/><rect x="11" y="0" width="1.6" height="377" fill="url(#b11)"/><rect x="12" y="0" width="1.6" height="377" fill="url(#b12)"/><rect x="13" y="0" width="1.6" height="377" fill="url(#b13)"/><rect x="14" y="0" width="1.6" height="377" fill="url(#b14)"/><rect x="15" y="0" width="1.6" height="377" fill="url(#b15)"/><rect x="16" y="0" width="1.6" height="377" fill="url(#b16)"/><rect x="17" y="0" width="1.6" height="377" fill="url(#b17)"/><rect x="18" y="0" width="1.6" height="377" fill="url(#b18)"/><rect x="19" y="0" width="1.6" height="377" fill="url(#b19)"/><rect x="20" y="0" width="1.6" height="377" fill="url(#b20)"/><rect x="21" y="0" width="1.6" height="377" fill="url(#b21)"/><rect x="22" y="0" width="1.6" height="377" fill="url(#b22)"/><rect x="23" y="0" width="1.6" height="377" fill="url(#b23)"/><rect x="24" y="0" width="1.6" height="377" fill="url(#b24)"/><rect x="25" y="0" width="1.6" height="377" fill="url(#b25)"/><rect x="26" y="0" width="1.6" height="377" fill="url(#b26)"/><rect x="27" y="0" width="1.6" height="377" fill="url(#b27)"/><rect x="28" y="0" width="1.6" height="377" fill="url(#b28)"/><rect x="29" y="0" width="1.6" height="377" fill="url(#b29)"/><rect x="30" y="0" width="1.6" height="377" fill="url(#b30)"/><rect x="31" y="0" width="1.6" height="377" fill="url(#b31)"/><rect x="32" y="0" width="1.6" height="377" fill="url(#b32)"/><rect x="33" y="0" width="1.6" height="377" fill="url(#b33)"/><rect x="34" y="0" width="1.6" height="377" fill="url(#b34)"/><rect x="35" y="0" width="1.6" height="377" fill="url(#b35)"/><rect x="36" y="0" width="1.6" height="377" fill="url(#b36)"/><rect x="37" y="0" width="1.6" height="377" fill="url(#b37)"/><rect x="38" y="0" width="1.6" height="377" fill="url(#b38)"/><rect x="39" y="0" width="1.6" height="377" fill="url(#b39)"/><rect x="40" y="0" width="1.6" height="377" fill="url(#b40)"/><rect x="41" y="0" width="1.6" height="377" fill="url(#b41)"/><rect x="42" y="0" width="1.6" height="377" fill="url(#b42)"/><rect x="43" y="0" width="1.6" height="377" fill="url(#b43)"/><rect x="44" y="0" width="1.6" height="377" fill="url(#b44)"/><rect x="45" y="0" width="1.6" height="377" fill="url(#b45)"/><rect x="46" y="0" width="1.6" height="377" fill="url(#b46)"/><rect x="47" y="0" width="1.6" height="377" fill="url(#b47)"/><rect x="48" y="0" width="1.6" height="377" fill="url(#b48)"/><rect x="49" y="0" width="1.6" height="377" fill="url(#b49)"/><rect x="50" y="0" width="1.6" height="377" fill="url(#b50)"/><rect x="51" y="0" width="1.6" height="377" fill="url(#b51)"/><rect x="52" y="0" width="1.6" height="377" fill="url(#b52)"/><rect x="53" y="0" width="1.6" height="377" fill="url(#b53)"/><rect x="54" y="0" width="1.6" height="377" fill="url(#b54)"/><rect x="55" y="0" width="1.6" height="377" fill="url(#b55)"/><rect x="56" y="0" width="1.6" height="377" fill="url(#b56)"/><rect x="57" y="0" width="1.6" height="377" fill="url(#b57)"/><rect x="58" y="0" width="1.6" height="377" fill="url(#b58)"/><rect x="59" y="0" width="1.6" height="377" fill="url(#b59)"/><rect x="60" y="0" width="1.6" height="377" fill="url(#b60)"/><rect x="61" y="0" width="1.6" height="377" fill="url(#b61)"/><rect x="62" y="0" width="1.6" height="377" fill="url(#b62)"/><rect x="63" y="0" width="1.6" height="377" fill="url(#b63)"/><rect x="64" y="0" width="1.6" height="377" fill="url(#b64)"/><rect x="65" y="0" width="1.6" height="377" fill="url(#b65)"/><rect x="66" y="0" width="1.6" height="377" fill="url(#b66)"/><rect x="67" y="0" width="1.6" height="377" fill="url(#b67)"/><rect x="68" y="0" width="1.6" height="377" fill="url(#b68)"/><rect x="69" y="0" width="1.6" height="377" fill="url(#b69)"/><rect x="70" y="0" width="1.6" height="377" fill="url(#b70)"/><rect x="71" y="0" width="1.6" height="377" fill="url(#b71)"/><rect x="72" y="0" width="1.6" height="377" fill="url(#b72)"/><rect x="73" y="0" width="1.6" height="377" fill="url(#b73)"/><rect x="74" y="0" width="1.6" height="377" fill="url(#b74)"/><rect x="75" y="0" width="1.6" height="377" fill="url(#b75)"/><rect x="76" y="0" width="1.6" height="377" fill="url(#b76)"/><rect x="77" y="0" width="1.6" height="377" fill="url(#b77)"/><rect x="78" y="0" width="1.6" height="377" fill="url(#b78)"/><rect x="79" y="0" width="1.6" height="377" fill="url(#b79)"/><rect x="80" y="0" width="1.6" height="377" fill="url(#b80)"/><rect x="81" y="0" width="1.6" height="377" fill="url(#b81)"/><rect x="82" y="0" width="1.6" height="377" fill="url(#b82)"/><rect x="83" y="0" width="1.6" height="377" fill="url(#b83)"/><rect x="84" y="0" width="1.6" height="377" fill="url(#b84)"/><rect x="85" y="0" width="1.6" height="377" fill="url(#b85)"/><rect x="86" y="0" width="1.6" height="377" fill="url(#b86)"/><rect x="87" y="0" width="1.6" height="377" fill="url(#b87)"/><rect x="88" y="0" width="1.6" height="377" fill="url(#b88)"/><rect x="89" y="0" width="1.6" height="377" fill="url(#b89)"/><rect x="90" y="0" width="1.6" height="377" fill="url(#b90)"/><rect x="91" y="0" width="1.6" height="377" fill="url(#b91)"/><rect x="92" y="0" width="1.6" height="377" fill="url(#b92)"/><rect x="93" y="0" width="1.6" height="377" fill="url(#b93)"/><rect x="94" y="0" width="1.6" height="377" fill="url(#b94)"/><rect x="95" y="0" width="1.6" height="377" fill="url(#b95)"/><rect x="96" y="0" width="1.6" height="377" fill="url(#b96)"/><rect x="97" y="0" width="1.6" height="377" fill="url(#b97)"/><rect x="98" y="0" width="1.6" height="377" fill="url(#b98)"/><rect x="99" y="0" width="1.6" height="377" fill="url(#b99)"/><rect x="100" y="0" width="1.6" height="377" fill="url(#b100)"/><rect x="101" y="0" width="1.6" height="377" fill="url(#b101)"/><rect x="102" y="0" width="1.6" height="377" fill="url(#b102)"/><rect x="103" y="0" width="1.6" height="377" fill="url(#b103)"/><rect x="104" y="0" width="1.6" height="377" fill="url(#b104)"/><rect x="105" y="0" width="1.6" height="377" fill="url(#b105)"/><rect x="106" y="0" width="1.6" height="377" fill="url(#b106)"/><rect x="107" y="0" width="1.6" height="377" fill="url(#b107)"/><rect x="108" y="0" width="1.6" height="377" fill="url(#b108)"/><rect x="109" y="0" width="1.6" height="377" fill="url(#b109)"/><rect x="110" y="0" width="1.6" height="377" fill="url(#b110)"/><rect x="111" y="0" width="1.6" height="377" fill="url(#b111)"/><rect x="112" y="0" width="1.6" height="377" fill="url(#b112)"/><rect x="113" y="0" width="1.6" height="377" fill="url(#b113)"/><rect x="114" y="0" width="1.6" height="377" fill="url(#b114)"/><rect x="115" y="0" width="1.6" height="377" fill="url(#b115)"/><rect x="116" y="0" width="1.6" height="377" fill="url(#b116)"/><rect x="117" y="0" width="1.6" height="377" fill="url(#b117)"/><rect x="118" y="0" width="1.6" height="377" fill="url(#b118)"/><rect x="119" y="0" width="1.6" height="377" fill="url(#b119)"/><rect x="120" y="0" width="1.6" height="377" fill="url(#b120)"/><rect x="121" y="0" width="1.6" height="377" fill="url(#b121)"/><rect x="122" y="0" width="1.6" height="377" fill="url(#b122)"/><rect x="123" y="0" width="1.6" height="377" fill="url(#b123)"/><rect x="124" y="0" width="1.6" height="377" fill="url(#b124)"/><rect x="125" y="0" width="1.6" height="377" fill="url(#b125)"/><rect x="126" y="0" width="1.6" height="377" fill="url(#b126)"/><rect x="127" y="0" width="1.6" height="377" fill="url(#b127)"/><rect x="128" y="0" width="1.6" height="377" fill="url(#b128)"/><rect x="129" y="0" width="1.6" height="377" fill="url(#b129)"/><rect x="130" y="0" width="1.6" height="377" fill="url(#b130)"/><rect x="131" y="0" width="1.6" height="377" fill="url(#b131)"/><rect x="132" y="0" width="1.6" height="377" fill="url(#b132)"/><rect x="133" y="0" width="1.6" height="377" fill="url(#b133)"/><rect x="134" y="0" width="1.6" height="377" fill="url(#b134)"/><rect x="135" y="0" width="1.6" height="377" fill="url(#b135)"/></g>
<g id="ae"><rect x="0" y="0" width="1.6" height="377" fill="url(#ae0)"/><rect x="1" y="0" width="1.6" height="377" fill="url(#ae1)"/><rect x="2" y="0" width="1.6" height="377" fill="url(#ae2)"/><rect x="3" y="0" width="1.6" height="377" fill="url(#ae3)"/><rect x="4" y="0" width="1.6" height="377" fill="url(#ae4)"/><rect x="5" y="0" width="1.6" height="377" fill="url(#ae5)"/><rect x="6" y="0" width="1.6" height="377" fill="url(#ae6)"/><rect x="7" y="0" width="1.6" height="377" fill="url(#ae7)"/><rect x="8" y="0" width="1.6" height="377" fill="url(#ae8)"/><rect x="9" y="0" width="1.6" height="377" fill="url(#ae9)"/><rect x="10" y="0" width="1.6" height="377" fill="url(#ae10)"/><rect x="11" y="0" width="1.6" height="377" fill="url(#ae11)"/><rect x="12" y="0" width="1.6" height="377" fill="url(#ae12)"/><rect x="13" y="0" width="1.6" height="377" fill="url(#ae13)"/><rect x="14" y="0" width="1.6" height="377" fill="url(#ae14)"/><rect x="15" y="0" width="1.6" height="377" fill="url(#ae15)"/><rect x="16" y="0" width="1.6" height="377" fill="url(#ae16)"/><rect x="17" y="0" width="1.6" height="377" fill="url(#ae17)"/><rect x="18" y="0" width="1.6" height="377" fill="url(#ae18)"/><rect x="19" y="0" width="1.6" height="377" fill="url(#ae19)"/><rect x="20" y="0" width="1.6" height="377" fill="url(#ae20)"/><rect x="21" y="0" width="1.6" height="377" fill="url(#ae21)"/><rect x="22" y="0" width="1.6" height="377" fill="url(#ae22)"/><rect x="23" y="0" width="1.6" height="377" fill="url(#ae23)"/><rect x="24" y="0" width="1.6" height="377" fill="url(#ae24)"/><rect x="25" y="0" width="1.6" height="377" fill="url(#ae25)"/><rect x="26" y="0" width="1.6" height="377" fill="url(#ae26)"/><rect x="27" y="0" width="1.6" height="377" fill="url(#ae27)"/><rect x="28" y="0" width="1.6" height="377" fill="url(#ae28)"/><rect x="29" y="0" width="1.6" height="377" fill="url(#ae29)"/><rect x="30" y="0" width="1.6" height="377" fill="url(#ae30)"/><rect x="31" y="0" width="1.6" height="377" fill="url(#ae31)"/><rect x="32" y="0" width="1.6" height="377" fill="url(#ae32)"/><rect x="33" y="0" width="1.6" height="377" fill="url(#ae33)"/><rect x="34" y="0" width="1.6" height="377" fill="url(#ae34)"/><rect x="35" y="0" width="1.6" height="377" fill="url(#ae35)"/><rect x="36" y="0" width="1.6" height="377" fill="url(#ae36)"/><rect x="37" y="0" width="1.6" height="377" fill="url(#ae37)"/><rect x="38" y="0" width="1.6" height="377" fill="url(#ae38)"/><rect x="39" y="0" width="1.6" height="377" fill="url(#ae39)"/><rect x="40" y="0" width="1.6" height="377" fill="url(#ae40)"/><rect x="41" y="0" width="1.6" height="377" fill="url(#ae41)"/><rect x="42" y="0" width="1.6" height="377" fill="url(#ae42)"/><rect x="43" y="0" width="1.6" height="377" fill="url(#ae43)"/><rect x="44" y="0" width="1.6" height="377" fill="url(#ae44)"/><rect x="45" y="0" width="1.6" height="377" fill="url(#ae45)"/><rect x="46" y="0" width="1.6" height="377" fill="url(#ae46)"/><rect x="47" y="0" width="1.6" height="377" fill="url(#ae47)"/><rect x="48" y="0" width="1.6" height="377" fill="url(#ae48)"/><rect x="49" y="0" width="1.6" height="377" fill="url(#ae49)"/><rect x="50" y="0" width="1.6" height="377" fill="url(#ae50)"/><rect x="51" y="0" width="1.6" height="377" fill="url(#ae51)"/><rect x="52" y="0" width="1.6" height="377" fill="url(#ae52)"/><rect x="53" y="0" width="1.6" height="377" fill="url(#ae53)"/><rect x="54" y="0" width="1.6" height="377" fill="url(#ae54)"/><rect x="55" y="0" width="1.6" height="377" fill="url(#ae55)"/><rect x="56" y="0" width="1.6" height="377" fill="url(#ae56)"/><rect x="57" y="0" width="1.6" height="377" fill="url(#ae57)"/></g>
<g id="be"><rect x="0" y="0" width="1.6" height="377" fill="url(#be0)"/><rect x="1" y="0" width="1.6" height="377" fill="url(#be1)"/><rect x="2" y="0" width="1.6" height="377" fill="url(#be2)"/><rect x="3" y="0" width="1.6" height="377" fill="url(#be3)"/><rect x="4" y="0" width="1.6" height="377" fill="url(#be4)"/><rect x="5" y="0" width="1.6" height="377" fill="url(#be5)"/><rect x="6" y="0" width="1.6" height="377" fill="url(#be6)"/><rect x="7" y="0" width="1.6" height="377" fill="url(#be7)"/><rect x="8" y="0" width="1.6" height="377" fill="url(#be8)"/><rect x="9" y="0" width="1.6" height="377" fill="url(#be9)"/><rect x="10" y="0" width="1.6" height="377" fill="url(#be10)"/><rect x="11" y="0" width="1.6" height="377" fill="url(#be11)"/><rect x="12" y="0" width="1.6" height="377" fill="url(#be12)"/><rect x="13" y="0" width="1.6" height="377" fill="url(#be13)"/><rect x="14" y="0" width="1.6" height="377" fill="url(#be14)"/><rect x="15" y="0" width="1.6" height="377" fill="url(#be15)"/><rect x="16" y="0" width="1.6" height="377" fill="url(#be16)"/><rect x="17" y="0" width="1.6" height="377" fill="url(#be17)"/><rect x="18" y="0" width="1.6" height="377" fill="url(#be18)"/><rect x="19" y="0" width="1.6" height="377" fill="url(#be19)"/><rect x="20" y="0" width="1.6" height="377" fill="url(#be20)"/><rect x="21" y="0" width="1.6" height="377" fill="url(#be21)"/><rect x="22" y="0" width="1.6" height="377" fill="url(#be22)"/><rect x="23" y="0" width="1.6" height="377" fill="url(#be23)"/><rect x="24" y="0" width="1.6" height="377" fill="url(#be24)"/><rect x="25" y="0" width="1.6" height="377" fill="url(#be25)"/><rect x="26" y="0" width="1.6" height="377" fill="url(#be26)"/><rect x="27" y="0" width="1.6" height="377" fill="url(#be27)"/><rect x="28" y="0" width="1.6" height="377" fill="url(#be28)"/><rect x="29" y="0" width="1.6" height="377" fill="url(#be29)"/><rect x="30" y="0" width="1.6" height="377" fill="url(#be30)"/><rect x="31" y="0" width="1.6" height="377" fill="url(#be31)"/><rect x="32" y="0" width="1.6" height="377" fill="url(#be32)"/><rect x="33" y="0" width="1.6" height="377" fill="url(#be33)"/><rect x="34" y="0" width="1.6" height="377" fill="url(#be34)"/><rect x="35" y="0" width="1.6" height="377" fill="url(#be35)"/><rect x="36" y="0" width="1.6" height="377" fill="url(#be36)"/><rect x="37" y="0" width="1.6" height="377" fill="url(#be37)"/><rect x="38" y="0" width="1.6" height="377" fill="url(#be38)"/><rect x="39" y="0" width="1.6" height="377" fill="url(#be39)"/><rect x="40" y="0" width="1.6" height="377" fill="url(#be40)"/><rect x="41" y="0" width="1.6" height="377" fill="url(#be41)"/><rect x="42" y="0" width="1.6" height="377" fill="url(#be42)"/><rect x="43" y="0" width="1.6" height="377" fill="url(#be43)"/><rect x="44" y="0" width="1.6" height="377" fill="url(#be44)"/><rect x="45" y="0" width="1.6" height="377" fill="url(#be45)"/><rect x="46" y="0" width="1.6" height="377" fill="url(#be46)"/><rect x="47" y="0" width="1.6" height="377" fill="url(#be47)"/><rect x="48" y="0" width="1.6" height="377" fill="url(#be48)"/><rect x="49" y="0" width="1.6" height="377" fill="url(#be49)"/><rect x="50" y="0" width="1.6" height="377" fill="url(#be50)"/><rect x="51" y="0" width="1.6" height="377" fill="url(#be51)"/><rect x="52" y="0" width="1.6" height="377" fill="url(#be52)"/><rect x="53" y="0" width="1.6" height="377" fill="url(#be53)"/><rect x="54" y="0" width="1.6" height="377" fill="url(#be54)"/><rect x="55" y="0" width="1.6" height="377" fill="url(#be55)"/><rect x="56" y="0" width="1.6" height="377" fill="url(#be56)"/><rect x="57" y="0" width="1.6" height="377" fill="url(#be57)"/></g>
<linearGradient id="jet" x1="0" y1="0" x2="0" y2="1"><stop offset="0" stop-color="#800000"/><stop offset="0.125" stop-color="#ff0000"/><stop offset="0.38" stop-color="#ffff00"/><stop offset="0.436" stop-color="#aaff00"/><stop offset="0.479" stop-color="#78ff32"/><stop offset="0.484" stop-color="#00f550"/><stop offset="0.524" stop-color="#00ff82"/><stop offset="0.577" stop-color="#00ffc8"/><stop offset="0.629" stop-color="#00ffff"/><stop offset="0.875" stop-color="#0000ff"/><stop offset="1" stop-color="#00008f"/></linearGradient>
<clipPath id="clipa"><rect x="316" y="70" width="1084" height="376.7"/></clipPath>
<clipPath id="clipb"><rect x="316" y="591" width="1084" height="376.7"/></clipPath>
<clipPath id="clipc"><rect x="330" y="1100" width="1092" height="365"/></clipPath>
</defs>
<filter id="soft" filterUnits="userSpaceOnUse" x="0" y="0" width="1749" height="1647"><feGaussianBlur stdDeviation="0.65"/></filter>
<rect width="1749" height="1647" fill="#fff"/>
<g filter="url(#soft)">
<rect width="1749" height="1647" fill="#fff"/>
<g clip-path="url(#clipa)">
<rect x="316" y="70" width="1084" height="376.7" fill="#00008f"/>
<use href="#a" x="260.00" y="70"/>
<use href="#a" x="395.50" y="70"/>
<use href="#a" x="531.00" y="70"/>
<use href="#a" x="666.50" y="70"/>
<use href="#a" x="802.00" y="70"/>
<use href="#a" x="937.50" y="70"/>
<use href="#a" x="1073.00" y="70"/>
<use href="#a" x="1208.50" y="70"/>
<use href="#ae" x="1344.00" y="70"/>
</g>
<rect x="315.5" y="69.5" width="1085" height="377.7" fill="none" stroke="#a8a8ee" stroke-width="1" opacity="0.8"/>
<rect x="1444" y="70.5" width="40.5" height="375.5" fill="url(#jet)"/>
<rect x="1444.6" y="70.5" width="39.4" height="375.5" fill="none" stroke="#000" stroke-opacity="0.42" stroke-width="1.4"/>
<rect x="1479.5" y="104.8" width="4.5" height="2" fill="#222" opacity="0.85"/>
<rect x="1479.5" y="241.8" width="4.5" height="2" fill="#222" opacity="0.85"/>
<rect x="1479.5" y="309" width="4.5" height="2" fill="#222" opacity="0.85"/>
<rect x="1479.5" y="377" width="4.5" height="2" fill="#222" opacity="0.85"/>
<text font-family="'Liberation Serif',serif" font-weight="bold" font-size="80" text-anchor="end" x="309" y="112" textLength="198.5" lengthAdjust="spacingAndGlyphs">10000</text>
<text font-family="'Liberation Serif',serif" font-weight="bold" font-size="80" text-anchor="end" x="290" y="283.8" textLength="157.5" lengthAdjust="spacingAndGlyphs">5000</text>
<text font-family="'Liberation Serif',serif" font-weight="bold" font-size="80" text-anchor="middle" x="210" y="437">0</text>
<text font-family="'Liberation Serif',serif" font-weight="bold" font-size="78" text-anchor="middle" transform="translate(80.3 267.3) rotate(-90) scale(0.993 1)">Round Trips</text>
<text font-family="'Liberation Serif',serif" font-weight="bold" font-size="80" fill="#fff" x="335.5" y="252.8">(a)</text>
<text font-family="'Liberation Serif',serif" font-size="52" x="1458.2" y="62.5"><tspan dy="-1" font-size="54">×</tspan><tspan font-weight="bold" dy="1" dx="0.8">10</tspan><tspan font-weight="bold" font-size="34" dy="-18" dx="-1.3">-</tspan><tspan font-weight="bold" font-size="34" dx="-2">2</tspan></text>
<text font-family="'Liberation Serif',serif" font-weight="bold" font-size="80.5" text-anchor="middle" transform="translate(1557.2 154.3) scale(1.07 1)">5</text>
<text font-family="'Liberation Serif',serif" font-weight="bold" font-size="80.5" text-anchor="middle" transform="translate(1557.2 283.3) scale(1.07 1)">3</text>
<text font-family="'Liberation Serif',serif" font-weight="bold" font-size="80.5" text-anchor="middle" transform="translate(1555.5 414.5) scale(1 1)">1</text>
<text font-family="'Liberation Serif',serif" font-weight="bold" font-size="80" text-anchor="middle" transform="translate(1650.6 258.3) rotate(90) scale(0.989 1)">Power (W)</text>
<g clip-path="url(#clipb)">
<rect x="316" y="591" width="1084" height="376.7" fill="#00008f"/>
<use href="#b" x="259.50" y="591"/>
<use href="#b" x="395.00" y="591"/>
<use href="#b" x="530.50" y="591"/>
<use href="#b" x="666.00" y="591"/>
<use href="#b" x="801.50" y="591"/>
<use href="#b" x="937.00" y="591"/>
<use href="#b" x="1072.50" y="591"/>
<use href="#b" x="1208.00" y="591"/>
<use href="#be" x="1343.50" y="591"/>
</g>
<rect x="315.5" y="590.5" width="1085" height="377.7" fill="none" stroke="#a8a8ee" stroke-width="1" opacity="0.8"/>
<rect x="1444" y="591.5" width="40.5" height="375.5" fill="url(#jet)"/>
<rect x="1444.6" y="591.5" width="39.4" height="375.5" fill="none" stroke="#000" stroke-opacity="0.42" stroke-width="1.4"/>
<rect x="1479.5" y="668.7" width="4.5" height="2" fill="#222" opacity="0.85"/>
<rect x="1479.5" y="728.5" width="4.5" height="2" fill="#222" opacity="0.85"/>
<rect x="1479.5" y="788.4" width="4.5" height="2" fill="#222" opacity="0.85"/>
<rect x="1479.5" y="848.5" width="4.5" height="2" fill="#222" opacity="0.85"/>
<text font-family="'Liberation Serif',serif" font-weight="bold" font-size="80" text-anchor="end" x="308.3" y="639.6" textLength="196" lengthAdjust="spacingAndGlyphs">10000</text>
<text font-family="'Liberation Serif',serif" font-weight="bold" font-size="80" text-anchor="end" x="290" y="797.6" textLength="157.5" lengthAdjust="spacingAndGlyphs">5000</text>
<text font-family="'Liberation Serif',serif" font-weight="bold" font-size="80" text-anchor="middle" x="209" y="962.2">0</text>
<text font-family="'Liberation Serif',serif" font-weight="bold" font-size="78" text-anchor="middle" transform="translate(80.3 772.2) rotate(-90) scale(1.0 1)">Round Trips</text>
<text font-family="'Liberation Serif',serif" font-weight="bold" font-size="80" fill="#fff" x="335.5" y="777">(b)</text>
<text font-family="'Liberation Serif',serif" font-size="52" x="1458.2" y="583.5"><tspan dy="-1" font-size="54">×</tspan><tspan font-weight="bold" dy="1" dx="0.8">10</tspan><tspan font-weight="bold" font-size="34" dy="-18" dx="-1.3">-</tspan><tspan font-weight="bold" font-size="34" dx="-2">2</tspan></text>
<text font-family="'Liberation Serif',serif" font-weight="bold" font-size="79" text-anchor="middle" transform="translate(1557.2 672.8) scale(1.07 1)">5</text>
<text font-family="'Liberation Serif',serif" font-weight="bold" font-size="79" text-anchor="middle" transform="translate(1557.2 798) scale(1.07 1)">3</text>
<text font-family="'Liberation Serif',serif" font-weight="bold" font-size="79" text-anchor="middle" transform="translate(1555.5 928.4) scale(1 1)">1</text>
<text font-family="'Liberation Serif',serif" font-weight="bold" font-size="80" text-anchor="middle" transform="translate(1650.6 773) rotate(90) scale(0.984 1)">Power (W)</text>
<text font-family="'Liberation Serif',serif" font-weight="bold" font-size="80" x="335.5" y="1174.5">(c)</text>
<g clip-path="url(#clipc)">
<path d="M330.5 1462.0 L335.5 1462.0 L339.5 1459.4 L343.5 1451.4 L346.5 1445.4 L348.5 1444.4 L351.0 1446.4 L353.0 1443.4 L355.0 1439.4 L356.8 1436.4 L359.0 1431.4 L360.5 1422.4 L361.7 1394.3 L362.7 1350.2 L364.0 1271.9 L365.3 1199.6 L366.5 1159.5 L367.5 1177.6 L368.7 1236.8 L370.0 1292.0 L371.5 1350.2 L373.5 1407.4 L375.3 1437.4 L377.3 1453.4 L378.7 1456.4 L380.5 1453.4 L382.5 1449.4 L384.8 1447.6 L387.0 1451.4 L390.0 1456.4 L393.5 1459.4 L398.5 1462.0 L472.0 1462.0 L476.0 1459.4 L480.0 1451.4 L483.0 1445.4 L485.0 1444.4 L487.5 1446.4 L489.5 1443.4 L491.5 1439.4 L493.3 1436.5 L495.5 1431.8 L497.0 1423.4 L498.2 1396.8 L499.2 1355.5 L500.5 1283.3 L501.8 1217.6 L503.0 1181.0 L504.0 1197.2 L505.2 1250.8 L506.5 1300.7 L508.0 1354.2 L510.0 1408.4 L511.8 1437.6 L513.8 1453.4 L515.2 1456.4 L517.0 1453.4 L519.0 1449.4 L521.3 1447.6 L523.5 1451.4 L526.5 1456.4 L530.0 1459.4 L535.0 1462.0 L608.5 1462.0 L612.5 1459.4 L616.5 1451.4 L619.5 1445.4 L621.5 1444.4 L624.0 1446.4 L626.0 1443.4 L628.0 1439.4 L629.8 1436.5 L632.0 1431.9 L633.5 1423.5 L634.7 1397.1 L635.7 1356.0 L637.0 1284.4 L638.3 1219.2 L639.5 1183.0 L640.5 1199.1 L641.7 1252.1 L643.0 1301.5 L644.5 1354.6 L646.5 1408.5 L648.3 1437.6 L650.3 1453.4 L651.7 1456.4 L653.5 1453.4 L655.5 1449.4 L657.8 1447.6 L660.0 1451.4 L663.0 1456.4 L666.5 1459.4 L671.5 1462.0 L745.0 1462.0 L749.0 1459.4 L753.0 1451.4 L756.0 1445.4 L758.0 1444.4 L760.5 1446.4 L762.5 1443.4 L764.5 1439.4 L766.3 1436.5 L768.5 1431.9 L770.0 1423.5 L771.2 1397.2 L772.2 1356.3 L773.5 1284.9 L774.8 1220.1 L776.0 1184.0 L777.0 1200.0 L778.2 1252.8 L779.5 1301.9 L781.0 1354.8 L783.0 1408.5 L784.8 1437.6 L786.8 1453.4 L788.2 1456.4 L790.0 1453.4 L792.0 1449.4 L794.3 1447.6 L796.5 1451.4 L799.5 1456.4 L803.0 1459.4 L808.0 1462.0 L881.5 1462.0 L885.5 1459.4 L889.5 1451.4 L892.5 1445.4 L894.5 1444.4 L897.0 1446.4 L899.0 1443.4 L901.0 1439.5 L902.8 1436.6 L905.0 1432.0 L906.5 1423.7 L907.7 1397.5 L908.7 1356.9 L910.0 1286.2 L911.3 1222.2 L912.5 1186.5 L913.5 1202.3 L914.7 1254.4 L916.0 1302.9 L917.5 1355.2 L919.5 1408.6 L921.3 1437.7 L923.3 1453.4 L924.7 1456.4 L926.5 1453.4 L928.5 1449.4 L930.8 1447.6 L933.0 1451.4 L936.0 1456.4 L939.5 1459.4 L944.5 1462.0 L1018.0 1462.0 L1022.0 1459.4 L1026.0 1451.4 L1029.0 1445.4 L1031.0 1444.4 L1033.5 1446.4 L1035.5 1443.4 L1037.5 1439.4 L1039.3 1436.6 L1041.5 1431.9 L1043.0 1423.6 L1044.2 1397.3 L1045.2 1356.5 L1046.5 1285.4 L1047.8 1220.9 L1049.0 1185.0 L1050.0 1200.9 L1051.2 1253.4 L1052.5 1302.3 L1054.0 1355.0 L1056.0 1408.5 L1057.8 1437.6 L1059.8 1453.4 L1061.2 1456.4 L1063.0 1453.4 L1065.0 1449.4 L1067.3 1447.6 L1069.5 1451.4 L1072.5 1456.4 L1076.0 1459.4 L1081.0 1462.0 L1154.5 1462.0 L1158.5 1459.4 L1162.5 1451.4 L1165.5 1445.4 L1167.5 1444.4 L1170.0 1446.4 L1172.0 1443.4 L1174.0 1439.4 L1175.8 1436.5 L1178.0 1431.9 L1179.5 1423.5 L1180.7 1397.1 L1181.7 1356.0 L1183.0 1284.4 L1184.3 1219.2 L1185.5 1183.0 L1186.5 1199.1 L1187.7 1252.1 L1189.0 1301.5 L1190.5 1354.6 L1192.5 1408.5 L1194.3 1437.6 L1196.3 1453.4 L1197.7 1456.4 L1199.5 1453.4 L1201.5 1449.4 L1203.8 1447.6 L1206.0 1451.4 L1209.0 1456.4 L1212.5 1459.4 L1217.5 1462.0 L1291.0 1462.0 L1295.0 1459.4 L1299.0 1451.4 L1302.0 1445.4 L1304.0 1444.4 L1306.5 1446.4 L1308.5 1443.4 L1310.5 1439.4 L1312.3 1436.5 L1314.5 1431.8 L1316.0 1423.4 L1317.2 1396.7 L1318.2 1355.3 L1319.5 1282.8 L1320.8 1216.7 L1322.0 1180.0 L1323.0 1196.3 L1324.2 1250.2 L1325.5 1300.3 L1327.0 1354.0 L1329.0 1408.3 L1330.8 1437.6 L1332.8 1453.4 L1334.2 1456.4 L1336.0 1453.4 L1338.0 1449.4 L1340.3 1447.6 L1342.5 1451.4 L1345.5 1456.4 L1349.0 1459.4 L1354.0 1462.0 L1421.5 1462.0" fill="none" stroke="#49b1ea" stroke-opacity="0.5" stroke-width="3.4" stroke-linejoin="round"/>
<path d="M330.5 1462.0 L335.5 1462.0 L339.5 1459.4 L343.5 1451.4 L346.5 1445.4 L348.5 1444.4 L351.0 1446.4 L353.0 1443.4 L355.0 1439.4 L356.8 1436.4 L359.0 1431.4 L360.5 1422.4 L361.7 1394.3 L362.7 1350.2 L364.0 1271.9 L365.3 1199.6 L366.5 1159.5 L367.5 1177.6 L368.7 1236.8 L370.0 1292.0 L371.5 1350.2 L373.5 1407.4 L375.3 1437.4 L377.3 1453.4 L378.7 1456.4 L380.5 1453.4 L382.5 1449.4 L384.8 1447.6 L387.0 1451.4 L390.0 1456.4 L393.5 1459.4 L398.5 1462.0 L472.0 1462.0 L476.0 1459.4 L480.0 1451.4 L483.0 1445.4 L485.0 1444.4 L487.5 1446.4 L489.5 1443.4 L491.5 1439.4 L493.3 1436.5 L495.5 1431.8 L497.0 1423.4 L498.2 1396.8 L499.2 1355.5 L500.5 1283.3 L501.8 1217.6 L503.0 1181.0 L504.0 1197.2 L505.2 1250.8 L506.5 1300.7 L508.0 1354.2 L510.0 1408.4 L511.8 1437.6 L513.8 1453.4 L515.2 1456.4 L517.0 1453.4 L519.0 1449.4 L521.3 1447.6 L523.5 1451.4 L526.5 1456.4 L530.0 1459.4 L535.0 1462.0 L608.5 1462.0 L612.5 1459.4 L616.5 1451.4 L619.5 1445.4 L621.5 1444.4 L624.0 1446.4 L626.0 1443.4 L628.0 1439.4 L629.8 1436.5 L632.0 1431.9 L633.5 1423.5 L634.7 1397.1 L635.7 1356.0 L637.0 1284.4 L638.3 1219.2 L639.5 1183.0 L640.5 1199.1 L641.7 1252.1 L643.0 1301.5 L644.5 1354.6 L646.5 1408.5 L648.3 1437.6 L650.3 1453.4 L651.7 1456.4 L653.5 1453.4 L655.5 1449.4 L657.8 1447.6 L660.0 1451.4 L663.0 1456.4 L666.5 1459.4 L671.5 1462.0 L745.0 1462.0 L749.0 1459.4 L753.0 1451.4 L756.0 1445.4 L758.0 1444.4 L760.5 1446.4 L762.5 1443.4 L764.5 1439.4 L766.3 1436.5 L768.5 1431.9 L770.0 1423.5 L771.2 1397.2 L772.2 1356.3 L773.5 1284.9 L774.8 1220.1 L776.0 1184.0 L777.0 1200.0 L778.2 1252.8 L779.5 1301.9 L781.0 1354.8 L783.0 1408.5 L784.8 1437.6 L786.8 1453.4 L788.2 1456.4 L790.0 1453.4 L792.0 1449.4 L794.3 1447.6 L796.5 1451.4 L799.5 1456.4 L803.0 1459.4 L808.0 1462.0 L881.5 1462.0 L885.5 1459.4 L889.5 1451.4 L892.5 1445.4 L894.5 1444.4 L897.0 1446.4 L899.0 1443.4 L901.0 1439.5 L902.8 1436.6 L905.0 1432.0 L906.5 1423.7 L907.7 1397.5 L908.7 1356.9 L910.0 1286.2 L911.3 1222.2 L912.5 1186.5 L913.5 1202.3 L914.7 1254.4 L916.0 1302.9 L917.5 1355.2 L919.5 1408.6 L921.3 1437.7 L923.3 1453.4 L924.7 1456.4 L926.5 1453.4 L928.5 1449.4 L930.8 1447.6 L933.0 1451.4 L936.0 1456.4 L939.5 1459.4 L944.5 1462.0 L1018.0 1462.0 L1022.0 1459.4 L1026.0 1451.4 L1029.0 1445.4 L1031.0 1444.4 L1033.5 1446.4 L1035.5 1443.4 L1037.5 1439.4 L1039.3 1436.6 L1041.5 1431.9 L1043.0 1423.6 L1044.2 1397.3 L1045.2 1356.5 L1046.5 1285.4 L1047.8 1220.9 L1049.0 1185.0 L1050.0 1200.9 L1051.2 1253.4 L1052.5 1302.3 L1054.0 1355.0 L1056.0 1408.5 L1057.8 1437.6 L1059.8 1453.4 L1061.2 1456.4 L1063.0 1453.4 L1065.0 1449.4 L1067.3 1447.6 L1069.5 1451.4 L1072.5 1456.4 L1076.0 1459.4 L1081.0 1462.0 L1154.5 1462.0 L1158.5 1459.4 L1162.5 1451.4 L1165.5 1445.4 L1167.5 1444.4 L1170.0 1446.4 L1172.0 1443.4 L1174.0 1439.4 L1175.8 1436.5 L1178.0 1431.9 L1179.5 1423.5 L1180.7 1397.1 L1181.7 1356.0 L1183.0 1284.4 L1184.3 1219.2 L1185.5 1183.0 L1186.5 1199.1 L1187.7 1252.1 L1189.0 1301.5 L1190.5 1354.6 L1192.5 1408.5 L1194.3 1437.6 L1196.3 1453.4 L1197.7 1456.4 L1199.5 1453.4 L1201.5 1449.4 L1203.8 1447.6 L1206.0 1451.4 L1209.0 1456.4 L1212.5 1459.4 L1217.5 1462.0 L1291.0 1462.0 L1295.0 1459.4 L1299.0 1451.4 L1302.0 1445.4 L1304.0 1444.4 L1306.5 1446.4 L1308.5 1443.4 L1310.5 1439.4 L1312.3 1436.5 L1314.5 1431.8 L1316.0 1423.4 L1317.2 1396.7 L1318.2 1355.3 L1319.5 1282.8 L1320.8 1216.7 L1322.0 1180.0 L1323.0 1196.3 L1324.2 1250.2 L1325.5 1300.3 L1327.0 1354.0 L1329.0 1408.3 L1330.8 1437.6 L1332.8 1453.4 L1334.2 1456.4 L1336.0 1453.4 L1338.0 1449.4 L1340.3 1447.6 L1342.5 1451.4 L1345.5 1456.4 L1349.0 1459.4 L1354.0 1462.0 L1421.5 1462.0" fill="none" stroke="#0686d6" stroke-width="1.9" stroke-linejoin="round"/>
</g>
<rect x="331" y="1106" width="1089.8" height="357" fill="none" stroke="#4c4c4c" stroke-width="2.6"/>
<rect x="547.7" y="1106" width="2.2" height="11" fill="#4c4c4c"/>
<rect x="547.7" y="1452" width="2.2" height="11" fill="#4c4c4c"/>
<rect x="656.9" y="1106" width="2.2" height="11" fill="#4c4c4c"/>
<rect x="656.9" y="1452" width="2.2" height="11" fill="#4c4c4c"/>
<rect x="875.1" y="1106" width="2.2" height="11" fill="#4c4c4c"/>
<rect x="875.1" y="1452" width="2.2" height="11" fill="#4c4c4c"/>
<rect x="984.2" y="1106" width="2.2" height="11" fill="#4c4c4c"/>
<rect x="984.2" y="1452" width="2.2" height="11" fill="#4c4c4c"/>
<rect x="1202.5" y="1106" width="2.2" height="11" fill="#4c4c4c"/>
<rect x="1202.5" y="1452" width="2.2" height="11" fill="#4c4c4c"/>
<rect x="1311.6" y="1106" width="2.2" height="11" fill="#4c4c4c"/>
<rect x="1311.6" y="1452" width="2.2" height="11" fill="#4c4c4c"/>
<rect x="331" y="1175.3" width="10.5" height="2.2" fill="#4c4c4c"/>
<rect x="1410.3" y="1175.3" width="10.5" height="2.2" fill="#4c4c4c"/>
<rect x="331" y="1247.2" width="10.5" height="2.2" fill="#4c4c4c"/>
<rect x="1410.3" y="1247.2" width="10.5" height="2.2" fill="#4c4c4c"/>
<rect x="331" y="1319.7" width="10.5" height="2.2" fill="#4c4c4c"/>
<rect x="1410.3" y="1319.7" width="10.5" height="2.2" fill="#4c4c4c"/>
<rect x="331" y="1391.9" width="10.5" height="2.2" fill="#4c4c4c"/>
<rect x="1410.3" y="1391.9" width="10.5" height="2.2" fill="#4c4c4c"/>
<g clip-path="url(#clipc)">
<path d="M330.5 1462.0 L335.5 1462.0 L339.5 1460.4 L343.5 1452.4 L347.0 1445.4 L349.7 1443.2 L352.0 1444.1 L353.5 1444.1 L355.3 1441.9 L356.7 1439.9 L357.7 1443.4 L358.9 1450.9 L359.7 1450.4 L360.5 1442.4 L361.5 1424.3 L362.5 1404.2 L364.0 1357.9 L365.5 1320.6 L366.8 1306.5 L368.0 1323.6 L369.5 1361.9 L371.0 1398.2 L373.0 1424.3 L375.5 1440.4 L377.5 1445.9 L379.5 1448.9 L382.0 1450.1 L384.0 1450.9 L386.5 1452.9 L389.5 1455.9 L392.5 1457.9 L395.5 1459.9 L399.5 1462.0 L472.0 1462.0 L476.0 1460.4 L480.0 1452.4 L483.5 1445.4 L486.2 1443.2 L488.5 1444.1 L490.0 1444.1 L491.8 1441.9 L493.2 1439.9 L494.2 1443.4 L495.4 1450.9 L496.2 1450.4 L497.0 1442.5 L498.0 1424.6 L499.0 1404.8 L500.5 1359.3 L502.0 1322.8 L503.3 1309.0 L504.5 1325.7 L506.0 1363.2 L507.5 1398.8 L509.5 1424.5 L512.0 1440.4 L514.0 1445.9 L516.0 1448.9 L518.5 1450.1 L520.5 1450.9 L523.0 1452.9 L526.0 1455.9 L529.0 1457.9 L532.0 1459.9 L536.0 1462.0 L608.5 1462.0 L612.5 1460.4 L616.5 1452.4 L620.0 1445.4 L622.7 1443.2 L625.0 1444.1 L626.5 1444.1 L628.3 1441.9 L629.7 1439.9 L630.7 1443.4 L631.9 1450.9 L632.7 1450.4 L633.5 1442.5 L634.5 1424.6 L635.5 1404.8 L637.0 1359.3 L638.5 1322.8 L639.8 1309.0 L641.0 1325.7 L642.5 1363.2 L644.0 1398.8 L646.0 1424.5 L648.5 1440.4 L650.5 1445.9 L652.5 1448.9 L655.0 1450.1 L657.0 1450.9 L659.5 1452.9 L662.5 1455.9 L665.5 1457.9 L668.5 1459.9 L672.5 1462.0 L745.0 1462.0 L749.0 1460.4 L753.0 1452.4 L756.5 1445.4 L759.2 1443.2 L761.5 1444.1 L763.0 1444.1 L764.8 1441.9 L766.2 1439.9 L767.2 1443.4 L768.4 1450.9 L769.2 1450.4 L770.0 1442.5 L771.0 1424.7 L772.0 1404.9 L773.5 1359.6 L775.0 1323.3 L776.3 1309.5 L777.5 1326.2 L779.0 1363.5 L780.5 1398.9 L782.5 1424.6 L785.0 1440.4 L787.0 1445.9 L789.0 1448.9 L791.5 1450.1 L793.5 1450.9 L796.0 1452.9 L799.0 1455.9 L802.0 1457.9 L805.0 1459.9 L809.0 1462.0 L881.5 1462.0 L885.5 1460.4 L889.5 1452.4 L893.0 1445.4 L895.7 1443.2 L898.0 1444.1 L899.5 1444.1 L901.3 1441.9 L902.7 1439.9 L903.7 1443.4 L904.9 1450.9 L905.7 1450.4 L906.5 1442.5 L907.5 1424.7 L908.5 1404.9 L910.0 1359.6 L911.5 1323.3 L912.8 1309.5 L914.0 1326.2 L915.5 1363.5 L917.0 1398.9 L919.0 1424.6 L921.5 1440.4 L923.5 1445.9 L925.5 1448.9 L928.0 1450.1 L930.0 1450.9 L932.5 1452.9 L935.5 1455.9 L938.5 1457.9 L941.5 1459.9 L945.5 1462.0 L1018.0 1462.0 L1022.0 1460.4 L1026.0 1452.4 L1029.5 1445.4 L1032.2 1443.2 L1034.5 1444.1 L1036.0 1444.1 L1037.8 1441.9 L1039.2 1439.9 L1040.2 1443.4 L1041.4 1450.9 L1042.2 1450.4 L1043.0 1442.5 L1044.0 1424.6 L1045.0 1404.8 L1046.5 1359.3 L1048.0 1322.8 L1049.3 1309.0 L1050.5 1325.7 L1052.0 1363.2 L1053.5 1398.8 L1055.5 1424.5 L1058.0 1440.4 L1060.0 1445.9 L1062.0 1448.9 L1064.5 1450.1 L1066.5 1450.9 L1069.0 1452.9 L1072.0 1455.9 L1075.0 1457.9 L1078.0 1459.9 L1082.0 1462.0 L1154.5 1462.0 L1158.5 1460.4 L1162.5 1452.4 L1166.0 1445.4 L1168.7 1443.2 L1171.0 1444.1 L1172.5 1444.1 L1174.3 1441.9 L1175.7 1439.9 L1176.7 1443.4 L1177.9 1450.9 L1178.7 1450.4 L1179.5 1442.5 L1180.5 1424.6 L1181.5 1404.8 L1183.0 1359.3 L1184.5 1322.8 L1185.8 1309.0 L1187.0 1325.7 L1188.5 1363.2 L1190.0 1398.8 L1192.0 1424.5 L1194.5 1440.4 L1196.5 1445.9 L1198.5 1448.9 L1201.0 1450.1 L1203.0 1450.9 L1205.5 1452.9 L1208.5 1455.9 L1211.5 1457.9 L1214.5 1459.9 L1218.5 1462.0 L1291.0 1462.0 L1295.0 1460.4 L1299.0 1452.4 L1302.5 1445.4 L1305.2 1443.2 L1307.5 1444.1 L1309.0 1444.1 L1310.8 1441.9 L1312.2 1439.9 L1313.2 1443.4 L1314.4 1450.9 L1315.2 1450.4 L1316.0 1442.5 L1317.0 1424.6 L1318.0 1404.8 L1319.5 1359.3 L1321.0 1322.8 L1322.3 1309.0 L1323.5 1325.7 L1325.0 1363.2 L1326.5 1398.8 L1328.5 1424.5 L1331.0 1440.4 L1333.0 1445.9 L1335.0 1448.9 L1337.5 1450.1 L1339.5 1450.9 L1342.0 1452.9 L1345.0 1455.9 L1348.0 1457.9 L1351.0 1459.9 L1355.0 1462.0 L1421.5 1462.0" fill="none" stroke="#ff5a66" stroke-opacity="0.5" stroke-width="3.4" stroke-linejoin="round"/>
<path d="M330.5 1462.0 L335.5 1462.0 L339.5 1460.4 L343.5 1452.4 L347.0 1445.4 L349.7 1443.2 L352.0 1444.1 L353.5 1444.1 L355.3 1441.9 L356.7 1439.9 L357.7 1443.4 L358.9 1450.9 L359.7 1450.4 L360.5 1442.4 L361.5 1424.3 L362.5 1404.2 L364.0 1357.9 L365.5 1320.6 L366.8 1306.5 L368.0 1323.6 L369.5 1361.9 L371.0 1398.2 L373.0 1424.3 L375.5 1440.4 L377.5 1445.9 L379.5 1448.9 L382.0 1450.1 L384.0 1450.9 L386.5 1452.9 L389.5 1455.9 L392.5 1457.9 L395.5 1459.9 L399.5 1462.0 L472.0 1462.0 L476.0 1460.4 L480.0 1452.4 L483.5 1445.4 L486.2 1443.2 L488.5 1444.1 L490.0 1444.1 L491.8 1441.9 L493.2 1439.9 L494.2 1443.4 L495.4 1450.9 L496.2 1450.4 L497.0 1442.5 L498.0 1424.6 L499.0 1404.8 L500.5 1359.3 L502.0 1322.8 L503.3 1309.0 L504.5 1325.7 L506.0 1363.2 L507.5 1398.8 L509.5 1424.5 L512.0 1440.4 L514.0 1445.9 L516.0 1448.9 L518.5 1450.1 L520.5 1450.9 L523.0 1452.9 L526.0 1455.9 L529.0 1457.9 L532.0 1459.9 L536.0 1462.0 L608.5 1462.0 L612.5 1460.4 L616.5 1452.4 L620.0 1445.4 L622.7 1443.2 L625.0 1444.1 L626.5 1444.1 L628.3 1441.9 L629.7 1439.9 L630.7 1443.4 L631.9 1450.9 L632.7 1450.4 L633.5 1442.5 L634.5 1424.6 L635.5 1404.8 L637.0 1359.3 L638.5 1322.8 L639.8 1309.0 L641.0 1325.7 L642.5 1363.2 L644.0 1398.8 L646.0 1424.5 L648.5 1440.4 L650.5 1445.9 L652.5 1448.9 L655.0 1450.1 L657.0 1450.9 L659.5 1452.9 L662.5 1455.9 L665.5 1457.9 L668.5 1459.9 L672.5 1462.0 L745.0 1462.0 L749.0 1460.4 L753.0 1452.4 L756.5 1445.4 L759.2 1443.2 L761.5 1444.1 L763.0 1444.1 L764.8 1441.9 L766.2 1439.9 L767.2 1443.4 L768.4 1450.9 L769.2 1450.4 L770.0 1442.5 L771.0 1424.7 L772.0 1404.9 L773.5 1359.6 L775.0 1323.3 L776.3 1309.5 L777.5 1326.2 L779.0 1363.5 L780.5 1398.9 L782.5 1424.6 L785.0 1440.4 L787.0 1445.9 L789.0 1448.9 L791.5 1450.1 L793.5 1450.9 L796.0 1452.9 L799.0 1455.9 L802.0 1457.9 L805.0 1459.9 L809.0 1462.0 L881.5 1462.0 L885.5 1460.4 L889.5 1452.4 L893.0 1445.4 L895.7 1443.2 L898.0 1444.1 L899.5 1444.1 L901.3 1441.9 L902.7 1439.9 L903.7 1443.4 L904.9 1450.9 L905.7 1450.4 L906.5 1442.5 L907.5 1424.7 L908.5 1404.9 L910.0 1359.6 L911.5 1323.3 L912.8 1309.5 L914.0 1326.2 L915.5 1363.5 L917.0 1398.9 L919.0 1424.6 L921.5 1440.4 L923.5 1445.9 L925.5 1448.9 L928.0 1450.1 L930.0 1450.9 L932.5 1452.9 L935.5 1455.9 L938.5 1457.9 L941.5 1459.9 L945.5 1462.0 L1018.0 1462.0 L1022.0 1460.4 L1026.0 1452.4 L1029.5 1445.4 L1032.2 1443.2 L1034.5 1444.1 L1036.0 1444.1 L1037.8 1441.9 L1039.2 1439.9 L1040.2 1443.4 L1041.4 1450.9 L1042.2 1450.4 L1043.0 1442.5 L1044.0 1424.6 L1045.0 1404.8 L1046.5 1359.3 L1048.0 1322.8 L1049.3 1309.0 L1050.5 1325.7 L1052.0 1363.2 L1053.5 1398.8 L1055.5 1424.5 L1058.0 1440.4 L1060.0 1445.9 L1062.0 1448.9 L1064.5 1450.1 L1066.5 1450.9 L1069.0 1452.9 L1072.0 1455.9 L1075.0 1457.9 L1078.0 1459.9 L1082.0 1462.0 L1154.5 1462.0 L1158.5 1460.4 L1162.5 1452.4 L1166.0 1445.4 L1168.7 1443.2 L1171.0 1444.1 L1172.5 1444.1 L1174.3 1441.9 L1175.7 1439.9 L1176.7 1443.4 L1177.9 1450.9 L1178.7 1450.4 L1179.5 1442.5 L1180.5 1424.6 L1181.5 1404.8 L1183.0 1359.3 L1184.5 1322.8 L1185.8 1309.0 L1187.0 1325.7 L1188.5 1363.2 L1190.0 1398.8 L1192.0 1424.5 L1194.5 1440.4 L1196.5 1445.9 L1198.5 1448.9 L1201.0 1450.1 L1203.0 1450.9 L1205.5 1452.9 L1208.5 1455.9 L1211.5 1457.9 L1214.5 1459.9 L1218.5 1462.0 L1291.0 1462.0 L1295.0 1460.4 L1299.0 1452.4 L1302.5 1445.4 L1305.2 1443.2 L1307.5 1444.1 L1309.0 1444.1 L1310.8 1441.9 L1312.2 1439.9 L1313.2 1443.4 L1314.4 1450.9 L1315.2 1450.4 L1316.0 1442.5 L1317.0 1424.6 L1318.0 1404.8 L1319.5 1359.3 L1321.0 1322.8 L1322.3 1309.0 L1323.5 1325.7 L1325.0 1363.2 L1326.5 1398.8 L1328.5 1424.5 L1331.0 1440.4 L1333.0 1445.9 L1335.0 1448.9 L1337.5 1450.1 L1339.5 1450.9 L1342.0 1452.9 L1345.0 1455.9 L1348.0 1457.9 L1351.0 1459.9 L1355.0 1462.0 L1421.5 1462.0" fill="none" stroke="#ff1426" stroke-width="1.9" stroke-linejoin="round"/>
</g>
<text font-family="'Liberation Serif',serif" font-size="52" x="1459" y="1095"><tspan dy="-1" font-size="54">×</tspan><tspan font-weight="bold" dy="1" dx="0.8">10</tspan><tspan font-weight="bold" font-size="34" dy="-18" dx="-1.3">-</tspan><tspan font-weight="bold" font-size="34" dx="-2">2</tspan></text>
<text font-family="'Liberation Serif',serif" font-weight="bold" font-size="77" text-anchor="middle" transform="translate(1505.7 1188.7) scale(1.07 1)">5</text>
<text font-family="'Liberation Serif',serif" font-weight="bold" font-size="77" text-anchor="middle" transform="translate(1505.7 1315) scale(1.07 1)">3</text>
<text font-family="'Liberation Serif',serif" font-weight="bold" font-size="77" text-anchor="middle" transform="translate(1504.3 1441.5) scale(1 1)">1</text>
<text font-family="'Liberation Serif',serif" font-weight="bold" font-size="80" text-anchor="middle" transform="translate(1651 1291) rotate(90)">Power (W)</text>
<text font-family="'Liberation Serif',serif" font-weight="bold" font-size="78" text-anchor="middle" x="338.8" y="1538.7">-1</text>
<text font-family="'Liberation Serif',serif" font-weight="bold" font-size="78" text-anchor="middle" x="871.8" y="1539">0</text>
<text font-family="'Liberation Serif',serif" font-weight="bold" font-size="78" text-anchor="middle" x="1413.5" y="1538.2">1</text>
<text font-family="'Liberation Serif',serif" font-weight="bold" font-size="80.5" text-anchor="middle" transform="translate(874.5 1617.5) scale(0.982 1)">Time (ns)</text>
</g>
</svg>
</body></html>
